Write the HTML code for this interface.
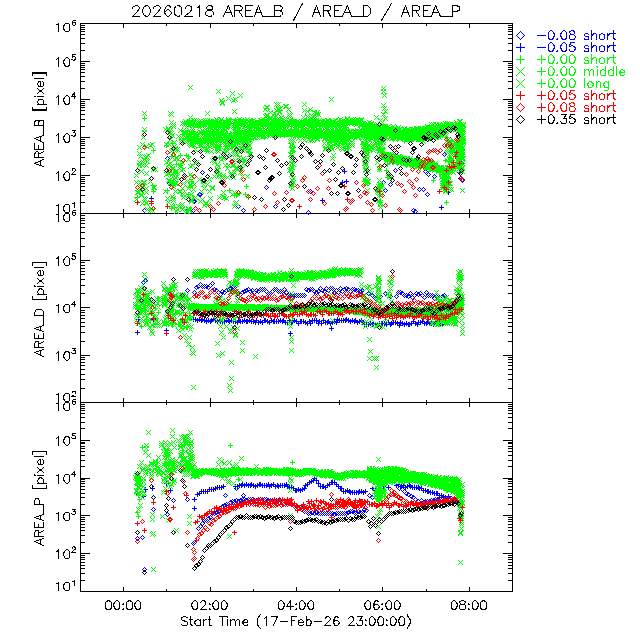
<!DOCTYPE html>
<html><head><meta charset="utf-8"><title>AREA plot</title>
<style>html,body{margin:0;padding:0;background:#fff;font-family:"Liberation Sans",sans-serif}svg{display:block}</style>
</head><body>
<svg width="640" height="640" viewBox="0 0 640 640" shape-rendering="crispEdges">
<rect width="640" height="640" fill="#fff"/>
<path d="M80.5 23.5L512.5 23.5M80.5 213.5L512.5 213.5M80.5 23.5L80.5 213.5M512.5 23.5L512.5 213.5M80.5 213.5L89.5 213.5M503.5 213.5L512.5 213.5M80.5 202.5L84.5 202.5M508.5 202.5L512.5 202.5M80.5 195.5L84.5 195.5M508.5 195.5L512.5 195.5M80.5 190.5L84.5 190.5M508.5 190.5L512.5 190.5M80.5 186.5L84.5 186.5M508.5 186.5L512.5 186.5M80.5 183.5L84.5 183.5M508.5 183.5L512.5 183.5M80.5 181.5L84.5 181.5M508.5 181.5L512.5 181.5M80.5 179.5L84.5 179.5M508.5 179.5L512.5 179.5M80.5 177.5L84.5 177.5M508.5 177.5L512.5 177.5M80.5 175.5L89.5 175.5M503.5 175.5L512.5 175.5M80.5 164.5L84.5 164.5M508.5 164.5L512.5 164.5M80.5 157.5L84.5 157.5M508.5 157.5L512.5 157.5M80.5 152.5L84.5 152.5M508.5 152.5L512.5 152.5M80.5 148.5L84.5 148.5M508.5 148.5L512.5 148.5M80.5 145.5L84.5 145.5M508.5 145.5L512.5 145.5M80.5 143.5L84.5 143.5M508.5 143.5L512.5 143.5M80.5 141.5L84.5 141.5M508.5 141.5L512.5 141.5M80.5 139.5L84.5 139.5M508.5 139.5L512.5 139.5M80.5 137.5L89.5 137.5M503.5 137.5L512.5 137.5M80.5 126.5L84.5 126.5M508.5 126.5L512.5 126.5M80.5 119.5L84.5 119.5M508.5 119.5L512.5 119.5M80.5 114.5L84.5 114.5M508.5 114.5L512.5 114.5M80.5 110.5L84.5 110.5M508.5 110.5L512.5 110.5M80.5 107.5L84.5 107.5M508.5 107.5L512.5 107.5M80.5 105.5L84.5 105.5M508.5 105.5L512.5 105.5M80.5 103.5L84.5 103.5M508.5 103.5L512.5 103.5M80.5 101.5L84.5 101.5M508.5 101.5L512.5 101.5M80.5 99.5L89.5 99.5M503.5 99.5L512.5 99.5M80.5 88.5L84.5 88.5M508.5 88.5L512.5 88.5M80.5 81.5L84.5 81.5M508.5 81.5L512.5 81.5M80.5 76.5L84.5 76.5M508.5 76.5L512.5 76.5M80.5 72.5L84.5 72.5M508.5 72.5L512.5 72.5M80.5 69.5L84.5 69.5M508.5 69.5L512.5 69.5M80.5 67.5L84.5 67.5M508.5 67.5L512.5 67.5M80.5 65.5L84.5 65.5M508.5 65.5L512.5 65.5M80.5 63.5L84.5 63.5M508.5 63.5L512.5 63.5M80.5 61.5L89.5 61.5M503.5 61.5L512.5 61.5M80.5 50.5L84.5 50.5M508.5 50.5L512.5 50.5M80.5 43.5L84.5 43.5M508.5 43.5L512.5 43.5M80.5 38.5L84.5 38.5M508.5 38.5L512.5 38.5M80.5 34.5L84.5 34.5M508.5 34.5L512.5 34.5M80.5 31.5L84.5 31.5M508.5 31.5L512.5 31.5M80.5 29.5L84.5 29.5M508.5 29.5L512.5 29.5M80.5 27.5L84.5 27.5M508.5 27.5L512.5 27.5M80.5 25.5L84.5 25.5M508.5 25.5L512.5 25.5M80.5 23.5L89.5 23.5M503.5 23.5L512.5 23.5M80.5 211.5L80.5 213.5M80.5 23.5L80.5 25.5M123.5 209.5L123.5 213.5M123.5 23.5L123.5 27.5M166.5 211.5L166.5 213.5M166.5 23.5L166.5 25.5M210.5 209.5L210.5 213.5M210.5 23.5L210.5 27.5M253.5 211.5L253.5 213.5M253.5 23.5L253.5 25.5M296.5 209.5L296.5 213.5M296.5 23.5L296.5 27.5M339.5 211.5L339.5 213.5M339.5 23.5L339.5 25.5M382.5 209.5L382.5 213.5M382.5 23.5L382.5 27.5M426.5 211.5L426.5 213.5M426.5 23.5L426.5 25.5M469.5 209.5L469.5 213.5M469.5 23.5L469.5 27.5M512.5 211.5L512.5 213.5M512.5 23.5L512.5 25.5M80.5 213.5L512.5 213.5M80.5 402.5L512.5 402.5M80.5 213.5L80.5 402.5M512.5 213.5L512.5 402.5M80.5 402.5L89.5 402.5M503.5 402.5L512.5 402.5M80.5 388.5L84.5 388.5M508.5 388.5L512.5 388.5M80.5 379.5L84.5 379.5M508.5 379.5L512.5 379.5M80.5 374.5L84.5 374.5M508.5 374.5L512.5 374.5M80.5 369.5L84.5 369.5M508.5 369.5L512.5 369.5M80.5 365.5L84.5 365.5M508.5 365.5L512.5 365.5M80.5 362.5L84.5 362.5M508.5 362.5L512.5 362.5M80.5 359.5L84.5 359.5M508.5 359.5L512.5 359.5M80.5 357.5L84.5 357.5M508.5 357.5L512.5 357.5M80.5 355.5L89.5 355.5M503.5 355.5L512.5 355.5M80.5 341.5L84.5 341.5M508.5 341.5L512.5 341.5M80.5 332.5L84.5 332.5M508.5 332.5L512.5 332.5M80.5 326.5L84.5 326.5M508.5 326.5L512.5 326.5M80.5 322.5L84.5 322.5M508.5 322.5L512.5 322.5M80.5 318.5L84.5 318.5M508.5 318.5L512.5 318.5M80.5 315.5L84.5 315.5M508.5 315.5L512.5 315.5M80.5 312.5L84.5 312.5M508.5 312.5L512.5 312.5M80.5 310.5L84.5 310.5M508.5 310.5L512.5 310.5M80.5 307.5L89.5 307.5M503.5 307.5L512.5 307.5M80.5 293.5L84.5 293.5M508.5 293.5L512.5 293.5M80.5 285.5L84.5 285.5M508.5 285.5L512.5 285.5M80.5 279.5L84.5 279.5M508.5 279.5L512.5 279.5M80.5 274.5L84.5 274.5M508.5 274.5L512.5 274.5M80.5 271.5L84.5 271.5M508.5 271.5L512.5 271.5M80.5 268.5L84.5 268.5M508.5 268.5L512.5 268.5M80.5 265.5L84.5 265.5M508.5 265.5L512.5 265.5M80.5 262.5L84.5 262.5M508.5 262.5L512.5 262.5M80.5 260.5L89.5 260.5M503.5 260.5L512.5 260.5M80.5 246.5L84.5 246.5M508.5 246.5L512.5 246.5M80.5 238.5L84.5 238.5M508.5 238.5L512.5 238.5M80.5 232.5L84.5 232.5M508.5 232.5L512.5 232.5M80.5 227.5L84.5 227.5M508.5 227.5L512.5 227.5M80.5 223.5L84.5 223.5M508.5 223.5L512.5 223.5M80.5 220.5L84.5 220.5M508.5 220.5L512.5 220.5M80.5 218.5L84.5 218.5M508.5 218.5L512.5 218.5M80.5 215.5L84.5 215.5M508.5 215.5L512.5 215.5M80.5 213.5L89.5 213.5M503.5 213.5L512.5 213.5M80.5 400.5L80.5 402.5M80.5 213.5L80.5 215.5M123.5 398.5L123.5 402.5M123.5 213.5L123.5 217.5M166.5 400.5L166.5 402.5M166.5 213.5L166.5 215.5M210.5 398.5L210.5 402.5M210.5 213.5L210.5 217.5M253.5 400.5L253.5 402.5M253.5 213.5L253.5 215.5M296.5 398.5L296.5 402.5M296.5 213.5L296.5 217.5M339.5 400.5L339.5 402.5M339.5 213.5L339.5 215.5M382.5 398.5L382.5 402.5M382.5 213.5L382.5 217.5M426.5 400.5L426.5 402.5M426.5 213.5L426.5 215.5M469.5 398.5L469.5 402.5M469.5 213.5L469.5 217.5M512.5 400.5L512.5 402.5M512.5 213.5L512.5 215.5M80.5 402.5L512.5 402.5M80.5 591.5L512.5 591.5M80.5 402.5L80.5 591.5M512.5 402.5L512.5 591.5M80.5 591.5L89.5 591.5M503.5 591.5L512.5 591.5M80.5 580.5L84.5 580.5M508.5 580.5L512.5 580.5M80.5 573.5L84.5 573.5M508.5 573.5L512.5 573.5M80.5 568.5L84.5 568.5M508.5 568.5L512.5 568.5M80.5 565.5L84.5 565.5M508.5 565.5L512.5 565.5M80.5 562.5L84.5 562.5M508.5 562.5L512.5 562.5M80.5 559.5L84.5 559.5M508.5 559.5L512.5 559.5M80.5 557.5L84.5 557.5M508.5 557.5L512.5 557.5M80.5 555.5L84.5 555.5M508.5 555.5L512.5 555.5M80.5 553.5L89.5 553.5M503.5 553.5L512.5 553.5M80.5 542.5L84.5 542.5M508.5 542.5L512.5 542.5M80.5 535.5L84.5 535.5M508.5 535.5L512.5 535.5M80.5 530.5L84.5 530.5M508.5 530.5L512.5 530.5M80.5 527.5L84.5 527.5M508.5 527.5L512.5 527.5M80.5 524.5L84.5 524.5M508.5 524.5L512.5 524.5M80.5 521.5L84.5 521.5M508.5 521.5L512.5 521.5M80.5 519.5L84.5 519.5M508.5 519.5L512.5 519.5M80.5 517.5L84.5 517.5M508.5 517.5L512.5 517.5M80.5 515.5L89.5 515.5M503.5 515.5L512.5 515.5M80.5 504.5L84.5 504.5M508.5 504.5L512.5 504.5M80.5 497.5L84.5 497.5M508.5 497.5L512.5 497.5M80.5 493.5L84.5 493.5M508.5 493.5L512.5 493.5M80.5 489.5L84.5 489.5M508.5 489.5L512.5 489.5M80.5 486.5L84.5 486.5M508.5 486.5L512.5 486.5M80.5 483.5L84.5 483.5M508.5 483.5L512.5 483.5M80.5 481.5L84.5 481.5M508.5 481.5L512.5 481.5M80.5 479.5L84.5 479.5M508.5 479.5L512.5 479.5M80.5 478.5L89.5 478.5M503.5 478.5L512.5 478.5M80.5 466.5L84.5 466.5M508.5 466.5L512.5 466.5M80.5 460.5L84.5 460.5M508.5 460.5L512.5 460.5M80.5 455.5L84.5 455.5M508.5 455.5L512.5 455.5M80.5 451.5L84.5 451.5M508.5 451.5L512.5 451.5M80.5 448.5L84.5 448.5M508.5 448.5L512.5 448.5M80.5 446.5L84.5 446.5M508.5 446.5L512.5 446.5M80.5 443.5L84.5 443.5M508.5 443.5L512.5 443.5M80.5 442.5L84.5 442.5M508.5 442.5L512.5 442.5M80.5 440.5L89.5 440.5M503.5 440.5L512.5 440.5M80.5 428.5L84.5 428.5M508.5 428.5L512.5 428.5M80.5 422.5L84.5 422.5M508.5 422.5L512.5 422.5M80.5 417.5L84.5 417.5M508.5 417.5L512.5 417.5M80.5 413.5L84.5 413.5M508.5 413.5L512.5 413.5M80.5 410.5L84.5 410.5M508.5 410.5L512.5 410.5M80.5 408.5L84.5 408.5M508.5 408.5L512.5 408.5M80.5 406.5L84.5 406.5M508.5 406.5L512.5 406.5M80.5 404.5L84.5 404.5M508.5 404.5L512.5 404.5M80.5 402.5L89.5 402.5M503.5 402.5L512.5 402.5M80.5 589.5L80.5 591.5M80.5 402.5L80.5 404.5M123.5 587.5L123.5 591.5M123.5 402.5L123.5 406.5M166.5 589.5L166.5 591.5M166.5 402.5L166.5 404.5M210.5 587.5L210.5 591.5M210.5 402.5L210.5 406.5M253.5 589.5L253.5 591.5M253.5 402.5L253.5 404.5M296.5 587.5L296.5 591.5M296.5 402.5L296.5 406.5M339.5 589.5L339.5 591.5M339.5 402.5L339.5 404.5M382.5 587.5L382.5 591.5M382.5 402.5L382.5 406.5M426.5 589.5L426.5 591.5M426.5 402.5L426.5 404.5M469.5 587.5L469.5 591.5M469.5 402.5L469.5 406.5M512.5 589.5L512.5 591.5M512.5 402.5L512.5 404.5" stroke="#000" fill="none" stroke-width="1" stroke-linecap="square"/>
<path d="M132.5 8.5 132.5 7.5 133.5 6.5 134.5 6.5 135.5 5.5 137.5 5.5 138.5 6.5 139.5 7.5 139.5 8.5 138.5 9.5 137.5 11.5 132.5 16.5 139.5 16.5M146.5 5.5 144.5 6.5 143.5 7.5 142.5 10.5 142.5 11.5 143.5 14.5 144.5 15.5 146.5 16.5 147.5 16.5 148.5 15.5 149.5 14.5 150.5 11.5 150.5 10.5 149.5 7.5 148.5 6.5 147.5 5.5 146.5 5.5M153.5 8.5 153.5 7.5 154.5 6.5 155.5 6.5 156.5 5.5 158.5 5.5 159.5 6.5 160.5 7.5 160.5 8.5 159.5 9.5 158.5 11.5 153.5 16.5 160.5 16.5M170.5 7.5 170.5 6.5 168.5 5.5 167.5 5.5 166.5 6.5 165.5 7.5 164.5 10.5 164.5 12.5 165.5 14.5 166.5 15.5 167.5 16.5 168.5 16.5 169.5 15.5 170.5 14.5 171.5 13.5 171.5 12.5 170.5 11.5 169.5 10.5 168.5 9.5 167.5 9.5 166.5 10.5 165.5 11.5 164.5 12.5M177.5 5.5 176.5 6.5 174.5 7.5 174.5 10.5 174.5 11.5 174.5 14.5 176.5 15.5 177.5 16.5 178.5 16.5 180.5 15.5 181.5 14.5 181.5 11.5 181.5 10.5 181.5 7.5 180.5 6.5 178.5 5.5 177.5 5.5M185.5 8.5 185.5 7.5 186.5 6.5 187.5 5.5 189.5 5.5 190.5 6.5 191.5 6.5 191.5 7.5 191.5 8.5 191.5 9.5 190.5 11.5 184.5 16.5 192.5 16.5M197.5 7.5 198.5 7.5 199.5 5.5 199.5 16.5M208.5 5.5 207.5 6.5 206.5 7.5 206.5 8.5 207.5 9.5 208.5 9.5 210.5 10.5 211.5 10.5 212.5 11.5 213.5 12.5 213.5 14.5 212.5 15.5 210.5 16.5 208.5 16.5 207.5 15.5 206.5 15.5 205.5 14.5 205.5 12.5 206.5 11.5 207.5 10.5 209.5 10.5 211.5 9.5 212.5 9.5 212.5 8.5 212.5 7.5 212.5 6.5 210.5 5.5 208.5 5.5M228.5 5.5 223.5 16.5M228.5 5.5 232.5 16.5M225.5 12.5 230.5 12.5M234.5 5.5 234.5 16.5M234.5 5.5 239.5 5.5 241.5 6.5 242.5 7.5 242.5 8.5 241.5 9.5 241.5 10.5 239.5 10.5 234.5 10.5M238.5 10.5 242.5 16.5M245.5 5.5 245.5 16.5M245.5 5.5 252.5 5.5M245.5 10.5 250.5 10.5M245.5 16.5 252.5 16.5M258.5 5.5 254.5 16.5M258.5 5.5 262.5 16.5M255.5 12.5 261.5 12.5M262.5 16.5 274.5 16.5M274.5 5.5 274.5 16.5M274.5 5.5 279.5 5.5 281.5 6.5 282.5 7.5 282.5 8.5 281.5 9.5 281.5 10.5 279.5 10.5M274.5 10.5 279.5 10.5 281.5 11.5 282.5 12.5 282.5 14.5 281.5 15.5 279.5 16.5 274.5 16.5M302.5 3.5 293.5 20.5M316.5 5.5 312.5 16.5M316.5 5.5 320.5 16.5M314.5 12.5 319.5 12.5M323.5 5.5 323.5 16.5M323.5 5.5 328.5 5.5 329.5 6.5 330.5 6.5 330.5 7.5 330.5 8.5 330.5 9.5 329.5 10.5 328.5 10.5 323.5 10.5M327.5 10.5 330.5 16.5M334.5 5.5 334.5 16.5M334.5 5.5 341.5 5.5M334.5 10.5 338.5 10.5M334.5 16.5 341.5 16.5M347.5 5.5 342.5 16.5M347.5 5.5 351.5 16.5M344.5 12.5 349.5 12.5M351.5 16.5 362.5 16.5M363.5 5.5 363.5 16.5M363.5 5.5 367.5 5.5 368.5 6.5 369.5 7.5 370.5 8.5 370.5 9.5 370.5 12.5 370.5 13.5 369.5 14.5 368.5 15.5 367.5 16.5 363.5 16.5M391.5 3.5 381.5 20.5M405.5 5.5 401.5 16.5M405.5 5.5 409.5 16.5M402.5 12.5 408.5 12.5M412.5 5.5 412.5 16.5M412.5 5.5 417.5 5.5 418.5 6.5 419.5 6.5 419.5 7.5 419.5 8.5 419.5 9.5 418.5 10.5 417.5 10.5 412.5 10.5M415.5 10.5 419.5 16.5M423.5 5.5 423.5 16.5M423.5 5.5 430.5 5.5M423.5 10.5 427.5 10.5M423.5 16.5 430.5 16.5M435.5 5.5 431.5 16.5M435.5 5.5 440.5 16.5M433.5 12.5 438.5 12.5M440.5 16.5 451.5 16.5M452.5 5.5 452.5 16.5M452.5 5.5 456.5 5.5 458.5 6.5 459.5 6.5 459.5 7.5 459.5 9.5 459.5 10.5 458.5 10.5 456.5 11.5 452.5 11.5M187.5 617.5 186.5 617.5 185.5 616.5 183.5 616.5 182.5 617.5 181.5 617.5 181.5 618.5 181.5 619.5 182.5 620.5 183.5 620.5 185.5 621.5 186.5 621.5 187.5 622.5 187.5 624.5 186.5 625.5 185.5 625.5 183.5 625.5 182.5 625.5 181.5 624.5M190.5 616.5 190.5 623.5 191.5 625.5 192.5 625.5M189.5 619.5 192.5 619.5M200.5 619.5 200.5 625.5M200.5 620.5 199.5 620.5 198.5 619.5 197.5 619.5 196.5 620.5 195.5 620.5 194.5 622.5 195.5 624.5 196.5 625.5 197.5 625.5 198.5 625.5 199.5 625.5 200.5 624.5M203.5 619.5 203.5 625.5M203.5 622.5 203.5 620.5 204.5 620.5 205.5 619.5 206.5 619.5M209.5 616.5 209.5 623.5 209.5 625.5 210.5 625.5 211.5 625.5M208.5 619.5 210.5 619.5M222.5 616.5 222.5 625.5M219.5 616.5 225.5 616.5M226.5 616.5 227.5 617.5 227.5 616.5 226.5 616.5M227.5 619.5 227.5 625.5M230.5 619.5 230.5 625.5M230.5 621.5 231.5 620.5 232.5 619.5 234.5 619.5 234.5 620.5 235.5 621.5 235.5 625.5M235.5 621.5 236.5 620.5 237.5 619.5 238.5 619.5 239.5 620.5 239.5 621.5 239.5 625.5M242.5 622.5 247.5 622.5 247.5 621.5 247.5 620.5 246.5 619.5 244.5 619.5 244.5 620.5 243.5 620.5 242.5 622.5 243.5 624.5 244.5 625.5 246.5 625.5 247.5 625.5 247.5 624.5M260.5 614.5 259.5 615.5 258.5 617.5 257.5 618.5 257.5 620.5 257.5 622.5 257.5 624.5 258.5 626.5 259.5 627.5 260.5 628.5M264.5 618.5 265.5 617.5 266.5 616.5 266.5 625.5M277.5 616.5 273.5 625.5M271.5 616.5 277.5 616.5M280.5 621.5 287.5 621.5M291.5 616.5 291.5 625.5M291.5 616.5 296.5 616.5M291.5 620.5 294.5 620.5M298.5 622.5 303.5 622.5 303.5 621.5 302.5 620.5 301.5 619.5 300.5 619.5 299.5 620.5 298.5 620.5 298.5 622.5 298.5 624.5 299.5 625.5 300.5 625.5 301.5 625.5 302.5 625.5 303.5 624.5M306.5 616.5 306.5 625.5M306.5 620.5 307.5 620.5 307.5 619.5 309.5 619.5 310.5 620.5 311.5 622.5 310.5 624.5 310.5 625.5 309.5 625.5 307.5 625.5 306.5 624.5M314.5 621.5 321.5 621.5M325.5 618.5 325.5 617.5 326.5 617.5 326.5 616.5 328.5 616.5 329.5 617.5 330.5 618.5 330.5 619.5 329.5 620.5 328.5 621.5 324.5 625.5 330.5 625.5M338.5 617.5 336.5 616.5 334.5 617.5 334.5 618.5 333.5 620.5 333.5 622.5 334.5 624.5 334.5 625.5 336.5 625.5 337.5 625.5 338.5 624.5 339.5 622.5 338.5 621.5 337.5 620.5 336.5 620.5 334.5 620.5 334.5 621.5 333.5 622.5M348.5 618.5 349.5 617.5 350.5 616.5 352.5 616.5 352.5 617.5 353.5 617.5 353.5 618.5 353.5 619.5 353.5 620.5 352.5 621.5 348.5 625.5 354.5 625.5M357.5 616.5 362.5 616.5 359.5 620.5 360.5 620.5 361.5 620.5 362.5 620.5 362.5 622.5 362.5 624.5 361.5 625.5 360.5 625.5 358.5 625.5 357.5 625.5 357.5 624.5 356.5 623.5M365.5 619.5 365.5 620.5 366.5 620.5 365.5 619.5M365.5 624.5 365.5 625.5 366.5 625.5 365.5 624.5M371.5 616.5 370.5 617.5 369.5 618.5 369.5 620.5 369.5 621.5 369.5 623.5 370.5 625.5 371.5 625.5 372.5 625.5 373.5 625.5 374.5 623.5 375.5 621.5 375.5 620.5 374.5 618.5 373.5 617.5 372.5 616.5 371.5 616.5M380.5 616.5 378.5 617.5 378.5 618.5 377.5 620.5 377.5 621.5 378.5 623.5 378.5 625.5 380.5 625.5 381.5 625.5 382.5 625.5 383.5 623.5 383.5 621.5 383.5 620.5 383.5 618.5 382.5 617.5 381.5 616.5 380.5 616.5M386.5 619.5 386.5 620.5 387.5 620.5 386.5 619.5M386.5 624.5 386.5 625.5 387.5 625.5 386.5 624.5M392.5 616.5 391.5 617.5 390.5 618.5 390.5 620.5 390.5 621.5 390.5 623.5 391.5 625.5 392.5 625.5 393.5 625.5 394.5 625.5 395.5 623.5 396.5 621.5 396.5 620.5 395.5 618.5 394.5 617.5 393.5 616.5 392.5 616.5M401.5 616.5 399.5 617.5 399.5 618.5 398.5 620.5 398.5 621.5 399.5 623.5 399.5 625.5 401.5 625.5 402.5 625.5 403.5 625.5 404.5 623.5 404.5 621.5 404.5 620.5 404.5 618.5 403.5 617.5 402.5 616.5 401.5 616.5M407.5 614.5 407.5 615.5 408.5 617.5 409.5 618.5 410.5 620.5 410.5 622.5 409.5 624.5 408.5 626.5 407.5 627.5 407.5 628.5M108.5 600.5 106.5 601.5 105.5 602.5 105.5 604.5 105.5 605.5 105.5 607.5 106.5 609.5 108.5 609.5 110.5 609.5 111.5 607.5 111.5 605.5 111.5 604.5 111.5 602.5 110.5 601.5 108.5 600.5M116.5 600.5 115.5 601.5 114.5 602.5 113.5 604.5 113.5 605.5 114.5 607.5 115.5 609.5 116.5 609.5 117.5 609.5 118.5 609.5 119.5 607.5 119.5 605.5 119.5 604.5 119.5 602.5 118.5 601.5 117.5 600.5 116.5 600.5M123.5 603.5 122.5 604.5 123.5 604.5 123.5 603.5M123.5 608.5 122.5 609.5 123.5 609.5 123.5 608.5M129.5 600.5 127.5 601.5 126.5 602.5 126.5 604.5 126.5 605.5 126.5 607.5 127.5 609.5 129.5 609.5 131.5 609.5 132.5 607.5 132.5 605.5 132.5 604.5 132.5 602.5 131.5 601.5 129.5 600.5M137.5 600.5 136.5 601.5 135.5 602.5 134.5 604.5 134.5 605.5 135.5 607.5 136.5 609.5 137.5 609.5 138.5 609.5 139.5 609.5 140.5 607.5 140.5 605.5 140.5 604.5 140.5 602.5 139.5 601.5 138.5 600.5 137.5 600.5M194.5 600.5 193.5 601.5 192.5 602.5 191.5 604.5 191.5 605.5 192.5 607.5 193.5 609.5 194.5 609.5 195.5 609.5 196.5 609.5 197.5 607.5 197.5 605.5 197.5 604.5 197.5 602.5 196.5 601.5 195.5 600.5 194.5 600.5M200.5 602.5 201.5 601.5 202.5 600.5 204.5 600.5 204.5 601.5 205.5 601.5 205.5 602.5 205.5 603.5 205.5 604.5 204.5 605.5 200.5 609.5 206.5 609.5M209.5 603.5 209.5 604.5 210.5 604.5 209.5 603.5M209.5 608.5 209.5 609.5 210.5 609.5 209.5 608.5M215.5 600.5 214.5 601.5 213.5 602.5 212.5 604.5 212.5 605.5 213.5 607.5 214.5 609.5 215.5 609.5 216.5 609.5 217.5 609.5 218.5 607.5 218.5 605.5 218.5 604.5 218.5 602.5 217.5 601.5 216.5 600.5 215.5 600.5M223.5 600.5 222.5 601.5 221.5 602.5 221.5 604.5 221.5 605.5 221.5 607.5 222.5 609.5 223.5 609.5 224.5 609.5 225.5 609.5 226.5 607.5 227.5 605.5 227.5 604.5 226.5 602.5 225.5 601.5 224.5 600.5 223.5 600.5M280.5 600.5 279.5 601.5 278.5 602.5 278.5 604.5 278.5 605.5 278.5 607.5 279.5 609.5 280.5 609.5 281.5 609.5 282.5 609.5 283.5 607.5 284.5 605.5 284.5 604.5 283.5 602.5 282.5 601.5 281.5 600.5 280.5 600.5M290.5 600.5 286.5 606.5 293.5 606.5M290.5 600.5 290.5 609.5M296.5 603.5 295.5 604.5 296.5 604.5 296.5 603.5M296.5 608.5 295.5 609.5 296.5 609.5 296.5 608.5M301.5 600.5 300.5 601.5 299.5 602.5 299.5 604.5 299.5 605.5 299.5 607.5 300.5 609.5 301.5 609.5 302.5 609.5 303.5 609.5 304.5 607.5 305.5 605.5 305.5 604.5 304.5 602.5 303.5 601.5 302.5 600.5 301.5 600.5M310.5 600.5 309.5 601.5 308.5 602.5 307.5 604.5 307.5 605.5 308.5 607.5 309.5 609.5 310.5 609.5 311.5 609.5 312.5 609.5 313.5 607.5 313.5 605.5 313.5 604.5 313.5 602.5 312.5 601.5 311.5 600.5 310.5 600.5M367.5 600.5 366.5 601.5 365.5 602.5 364.5 604.5 364.5 605.5 365.5 607.5 366.5 609.5 367.5 609.5 368.5 609.5 369.5 609.5 370.5 607.5 370.5 605.5 370.5 604.5 370.5 602.5 369.5 601.5 368.5 600.5 367.5 600.5M378.5 601.5 376.5 600.5 374.5 601.5 374.5 602.5 373.5 604.5 373.5 606.5 374.5 608.5 374.5 609.5 376.5 609.5 377.5 609.5 378.5 608.5 379.5 606.5 378.5 605.5 377.5 604.5 376.5 604.5 374.5 604.5 374.5 605.5 373.5 606.5M382.5 603.5 381.5 604.5 382.5 604.5 382.5 603.5M382.5 608.5 381.5 609.5 382.5 609.5 382.5 608.5M388.5 600.5 387.5 601.5 386.5 602.5 385.5 604.5 385.5 605.5 386.5 607.5 387.5 609.5 388.5 609.5 389.5 609.5 390.5 609.5 391.5 607.5 391.5 605.5 391.5 604.5 391.5 602.5 390.5 601.5 389.5 600.5 388.5 600.5M396.5 600.5 395.5 601.5 394.5 602.5 394.5 604.5 394.5 605.5 394.5 607.5 395.5 609.5 396.5 609.5 397.5 609.5 398.5 609.5 399.5 607.5 400.5 605.5 400.5 604.5 399.5 602.5 398.5 601.5 397.5 600.5 396.5 600.5M453.5 600.5 452.5 601.5 451.5 602.5 451.5 604.5 451.5 605.5 451.5 607.5 452.5 609.5 453.5 609.5 454.5 609.5 455.5 609.5 456.5 607.5 457.5 605.5 457.5 604.5 456.5 602.5 455.5 601.5 454.5 600.5 453.5 600.5M461.5 600.5 460.5 601.5 459.5 601.5 459.5 602.5 460.5 603.5 461.5 604.5 462.5 604.5 464.5 604.5 465.5 605.5 465.5 606.5 465.5 607.5 465.5 608.5 464.5 609.5 463.5 609.5 461.5 609.5 460.5 609.5 459.5 608.5 459.5 607.5 459.5 606.5 459.5 605.5 460.5 604.5 462.5 604.5 463.5 604.5 464.5 603.5 465.5 602.5 465.5 601.5 464.5 601.5 463.5 600.5 461.5 600.5M468.5 603.5 468.5 604.5 469.5 604.5 468.5 603.5M468.5 608.5 468.5 609.5 469.5 609.5 468.5 608.5M474.5 600.5 473.5 601.5 472.5 602.5 472.5 604.5 472.5 605.5 472.5 607.5 473.5 609.5 474.5 609.5 475.5 609.5 476.5 609.5 477.5 607.5 478.5 605.5 478.5 604.5 477.5 602.5 476.5 601.5 475.5 600.5 474.5 600.5M483.5 600.5 481.5 601.5 480.5 602.5 480.5 604.5 480.5 605.5 480.5 607.5 481.5 609.5 483.5 609.5 485.5 609.5 486.5 607.5 486.5 605.5 486.5 604.5 486.5 602.5 485.5 601.5 483.5 600.5M56.5 205.5 57.5 205.5 58.5 204.5 58.5 212.5M66.5 204.5 65.5 204.5 64.5 205.5 63.5 207.5 63.5 209.5 64.5 211.5 65.5 212.5 66.5 212.5 67.5 212.5 68.5 212.5 69.5 211.5 69.5 209.5 69.5 207.5 69.5 205.5 68.5 204.5 67.5 204.5 66.5 204.5M72.5 203.5 73.5 203.5 74.5 202.5 74.5 207.5M56.5 173.5 57.5 172.5 58.5 171.5 58.5 180.5M66.5 171.5 65.5 172.5 64.5 173.5 63.5 175.5 63.5 176.5 64.5 178.5 65.5 180.5 66.5 180.5 67.5 180.5 68.5 180.5 69.5 178.5 69.5 176.5 69.5 175.5 69.5 173.5 68.5 172.5 67.5 171.5 66.5 171.5M72.5 170.5 72.5 169.5 72.5 168.5 73.5 168.5 74.5 168.5 75.5 169.5 75.5 170.5 74.5 171.5 71.5 174.5 75.5 174.5M56.5 135.5 57.5 134.5 58.5 133.5 58.5 142.5M66.5 133.5 65.5 134.5 64.5 135.5 63.5 137.5 63.5 138.5 64.5 140.5 65.5 142.5 66.5 142.5 67.5 142.5 68.5 142.5 69.5 140.5 69.5 138.5 69.5 137.5 69.5 135.5 68.5 134.5 67.5 133.5 66.5 133.5M72.5 130.5 75.5 130.5 73.5 132.5 74.5 132.5 75.5 133.5 75.5 134.5 75.5 135.5 74.5 135.5 74.5 136.5 73.5 136.5 72.5 135.5 71.5 135.5M56.5 97.5 57.5 96.5 58.5 95.5 58.5 104.5M66.5 95.5 65.5 96.5 64.5 97.5 63.5 99.5 63.5 100.5 64.5 102.5 65.5 104.5 66.5 104.5 67.5 104.5 68.5 104.5 69.5 102.5 69.5 100.5 69.5 99.5 69.5 97.5 68.5 96.5 67.5 95.5 66.5 95.5M74.5 92.5 71.5 96.5 75.5 96.5M74.5 92.5 74.5 98.5M56.5 59.5 57.5 58.5 58.5 57.5 58.5 66.5M66.5 57.5 65.5 58.5 64.5 59.5 63.5 61.5 63.5 62.5 64.5 64.5 65.5 66.5 66.5 66.5 67.5 66.5 68.5 66.5 69.5 64.5 69.5 62.5 69.5 61.5 69.5 59.5 68.5 58.5 67.5 57.5 66.5 57.5M75.5 54.5 72.5 54.5 72.5 57.5 72.5 56.5 73.5 56.5 74.5 56.5 75.5 57.5 75.5 58.5 75.5 59.5 74.5 59.5 74.5 60.5 73.5 60.5 72.5 59.5 71.5 59.5M56.5 24.5 57.5 24.5 58.5 23.5 58.5 31.5M66.5 23.5 65.5 23.5 64.5 24.5 63.5 26.5 63.5 28.5 64.5 30.5 65.5 31.5 66.5 31.5 67.5 31.5 68.5 31.5 69.5 30.5 69.5 28.5 69.5 26.5 69.5 24.5 68.5 23.5 67.5 23.5 66.5 23.5M75.5 20.5 74.5 20.5 73.5 20.5 72.5 21.5 72.5 22.5 72.5 23.5 72.5 24.5 73.5 25.5 74.5 25.5 75.5 24.5 75.5 23.5 75.5 22.5 74.5 22.5 73.5 22.5 72.5 22.5 72.5 23.5M34.5 163.5 43.5 166.5M34.5 163.5 43.5 159.5M40.5 165.5 40.5 161.5M34.5 157.5 43.5 157.5M34.5 157.5 34.5 154.5 35.5 152.5 36.5 151.5 37.5 151.5 38.5 152.5 38.5 154.5 38.5 157.5M38.5 154.5 43.5 151.5M34.5 149.5 43.5 149.5M34.5 149.5 34.5 143.5M38.5 149.5 38.5 145.5M43.5 149.5 43.5 143.5M34.5 138.5 43.5 142.5M34.5 138.5 43.5 135.5M40.5 141.5 40.5 136.5M43.5 135.5 43.5 126.5M34.5 125.5 43.5 125.5M34.5 125.5 34.5 122.5 35.5 120.5 36.5 120.5 37.5 120.5 38.5 120.5 38.5 122.5M38.5 125.5 38.5 122.5 39.5 120.5 40.5 120.5 41.5 120.5 42.5 120.5 43.5 120.5 43.5 122.5 43.5 125.5M32.5 110.5 46.5 110.5M32.5 109.5 46.5 109.5M32.5 110.5 32.5 107.5M46.5 110.5 46.5 107.5M37.5 104.5 46.5 104.5M38.5 104.5 38.5 103.5 37.5 102.5 37.5 101.5 38.5 100.5 38.5 99.5 40.5 99.5 42.5 99.5 43.5 100.5 43.5 101.5 43.5 102.5 43.5 103.5 42.5 104.5M34.5 96.5 35.5 96.5 34.5 96.5M37.5 96.5 43.5 96.5M37.5 93.5 43.5 88.5M37.5 88.5 43.5 93.5M40.5 86.5 40.5 81.5 39.5 81.5 38.5 81.5 38.5 82.5 37.5 83.5 37.5 84.5 38.5 85.5 38.5 86.5 40.5 86.5 42.5 86.5 43.5 85.5 43.5 84.5 43.5 83.5 43.5 82.5 42.5 81.5M34.5 78.5 43.5 78.5M32.5 73.5 46.5 73.5M32.5 72.5 46.5 72.5M32.5 75.5 32.5 72.5M46.5 75.5 46.5 72.5M56.5 394.5 57.5 394.5 58.5 393.5 58.5 401.5M66.5 393.5 65.5 393.5 64.5 394.5 63.5 396.5 63.5 398.5 64.5 400.5 65.5 401.5 66.5 401.5 67.5 401.5 68.5 401.5 69.5 400.5 69.5 398.5 69.5 396.5 69.5 394.5 68.5 393.5 67.5 393.5 66.5 393.5M72.5 392.5 72.5 391.5 73.5 391.5 74.5 391.5 75.5 391.5 75.5 392.5 75.5 393.5 74.5 394.5 71.5 396.5 75.5 396.5M56.5 353.5 57.5 352.5 58.5 351.5 58.5 360.5M66.5 351.5 65.5 351.5 64.5 353.5 63.5 355.5 63.5 356.5 64.5 358.5 65.5 359.5 66.5 360.5 67.5 360.5 68.5 359.5 69.5 358.5 69.5 356.5 69.5 355.5 69.5 353.5 68.5 351.5 67.5 351.5 66.5 351.5M72.5 348.5 75.5 348.5 73.5 350.5 74.5 350.5 75.5 350.5 75.5 351.5 75.5 352.5 75.5 353.5 74.5 353.5 73.5 353.5 72.5 353.5 71.5 352.5M56.5 305.5 57.5 305.5 58.5 304.5 58.5 312.5M66.5 304.5 65.5 304.5 64.5 305.5 63.5 307.5 63.5 309.5 64.5 311.5 65.5 312.5 66.5 312.5 67.5 312.5 68.5 312.5 69.5 311.5 69.5 309.5 69.5 307.5 69.5 305.5 68.5 304.5 67.5 304.5 66.5 304.5M74.5 301.5 71.5 304.5 75.5 304.5M74.5 301.5 74.5 306.5M56.5 258.5 57.5 258.5 58.5 256.5 58.5 265.5M66.5 256.5 65.5 257.5 64.5 258.5 63.5 260.5 63.5 261.5 64.5 264.5 65.5 265.5 66.5 265.5 67.5 265.5 68.5 265.5 69.5 264.5 69.5 261.5 69.5 260.5 69.5 258.5 68.5 257.5 67.5 256.5 66.5 256.5M75.5 253.5 72.5 253.5 72.5 256.5 73.5 255.5 74.5 255.5 74.5 256.5 75.5 256.5 75.5 257.5 75.5 258.5 74.5 259.5 73.5 259.5 72.5 259.5 72.5 258.5 71.5 258.5M56.5 214.5 57.5 214.5 58.5 213.5 58.5 221.5M66.5 213.5 65.5 213.5 64.5 214.5 63.5 216.5 63.5 218.5 64.5 220.5 65.5 221.5 66.5 221.5 67.5 221.5 68.5 221.5 69.5 220.5 69.5 218.5 69.5 216.5 69.5 214.5 68.5 213.5 67.5 213.5 66.5 213.5M75.5 210.5 74.5 210.5 73.5 210.5 72.5 211.5 72.5 212.5 72.5 213.5 72.5 214.5 73.5 215.5 74.5 215.5 75.5 214.5 75.5 213.5 75.5 212.5 74.5 212.5 73.5 212.5 72.5 212.5 72.5 213.5M34.5 352.5 43.5 356.5M34.5 352.5 43.5 349.5M40.5 354.5 40.5 350.5M34.5 347.5 43.5 347.5M34.5 347.5 34.5 343.5 35.5 342.5 35.5 341.5 36.5 341.5 37.5 341.5 38.5 341.5 38.5 342.5 38.5 343.5 38.5 347.5M38.5 344.5 43.5 341.5M34.5 338.5 43.5 338.5M34.5 338.5 34.5 333.5M38.5 338.5 38.5 335.5M43.5 338.5 43.5 333.5M34.5 328.5 43.5 331.5M34.5 328.5 43.5 325.5M40.5 330.5 40.5 326.5M43.5 325.5 43.5 315.5M34.5 315.5 43.5 315.5M34.5 315.5 34.5 312.5 35.5 311.5 35.5 310.5 36.5 309.5 38.5 309.5 40.5 309.5 41.5 309.5 42.5 310.5 43.5 311.5 43.5 312.5 43.5 315.5M32.5 299.5 46.5 299.5M32.5 299.5 46.5 299.5M32.5 299.5 32.5 296.5M46.5 299.5 46.5 296.5M37.5 294.5 46.5 294.5M38.5 294.5 38.5 293.5 37.5 292.5 37.5 291.5 38.5 290.5 38.5 289.5 40.5 288.5 42.5 289.5 43.5 290.5 43.5 291.5 43.5 292.5 43.5 293.5 42.5 294.5M34.5 286.5 35.5 286.5 34.5 285.5 34.5 286.5M37.5 286.5 43.5 286.5M37.5 283.5 43.5 278.5M37.5 278.5 43.5 283.5M40.5 275.5 40.5 270.5 39.5 270.5 38.5 271.5 37.5 272.5 37.5 273.5 38.5 274.5 38.5 275.5 40.5 275.5 42.5 275.5 43.5 274.5 43.5 273.5 43.5 272.5 43.5 271.5 42.5 270.5M34.5 267.5 43.5 267.5M32.5 262.5 46.5 262.5M32.5 262.5 46.5 262.5M32.5 265.5 32.5 262.5M46.5 265.5 46.5 262.5M56.5 583.5 57.5 583.5 58.5 582.5 58.5 590.5M66.5 582.5 65.5 582.5 64.5 583.5 63.5 585.5 63.5 587.5 64.5 589.5 65.5 590.5 66.5 590.5 67.5 590.5 68.5 590.5 69.5 589.5 69.5 587.5 69.5 585.5 69.5 583.5 68.5 582.5 67.5 582.5 66.5 582.5M72.5 581.5 73.5 581.5 74.5 580.5 74.5 585.5M56.5 551.5 57.5 551.5 58.5 549.5 58.5 558.5M66.5 549.5 65.5 550.5 64.5 551.5 63.5 553.5 63.5 554.5 64.5 557.5 65.5 558.5 66.5 558.5 67.5 558.5 68.5 558.5 69.5 557.5 69.5 554.5 69.5 553.5 69.5 551.5 68.5 550.5 67.5 549.5 66.5 549.5M72.5 548.5 72.5 547.5 73.5 546.5 74.5 546.5 74.5 547.5 75.5 547.5 75.5 548.5 75.5 549.5 74.5 549.5 71.5 552.5 75.5 552.5M56.5 513.5 57.5 513.5 58.5 512.5 58.5 520.5M66.5 512.5 65.5 512.5 64.5 513.5 63.5 515.5 63.5 517.5 64.5 519.5 65.5 520.5 66.5 520.5 67.5 520.5 68.5 520.5 69.5 519.5 69.5 517.5 69.5 515.5 69.5 513.5 68.5 512.5 67.5 512.5 66.5 512.5M72.5 509.5 75.5 509.5 73.5 511.5 74.5 511.5 75.5 511.5 75.5 512.5 75.5 513.5 74.5 514.5 73.5 514.5 72.5 514.5 71.5 513.5M56.5 475.5 57.5 475.5 58.5 474.5 58.5 483.5M66.5 474.5 65.5 474.5 64.5 475.5 63.5 478.5 63.5 479.5 64.5 481.5 65.5 482.5 66.5 483.5 67.5 483.5 68.5 482.5 69.5 481.5 69.5 479.5 69.5 478.5 69.5 475.5 68.5 474.5 67.5 474.5 66.5 474.5M74.5 471.5 71.5 474.5 75.5 474.5M74.5 471.5 74.5 476.5M56.5 438.5 57.5 437.5 58.5 436.5 58.5 445.5M66.5 436.5 65.5 436.5 64.5 438.5 63.5 440.5 63.5 441.5 64.5 443.5 65.5 444.5 66.5 445.5 67.5 445.5 68.5 444.5 69.5 443.5 69.5 441.5 69.5 440.5 69.5 438.5 68.5 436.5 67.5 436.5 66.5 436.5M75.5 433.5 72.5 433.5 72.5 435.5 73.5 435.5 74.5 435.5 75.5 436.5 75.5 437.5 75.5 438.5 74.5 438.5 73.5 438.5 72.5 438.5 71.5 437.5M56.5 403.5 57.5 403.5 58.5 402.5 58.5 410.5M66.5 402.5 65.5 402.5 64.5 403.5 63.5 405.5 63.5 407.5 64.5 409.5 65.5 410.5 66.5 410.5 67.5 410.5 68.5 410.5 69.5 409.5 69.5 407.5 69.5 405.5 69.5 403.5 68.5 402.5 67.5 402.5 66.5 402.5M75.5 399.5 74.5 399.5 73.5 399.5 72.5 400.5 72.5 401.5 72.5 402.5 72.5 403.5 73.5 404.5 74.5 404.5 75.5 403.5 75.5 402.5 75.5 401.5 74.5 401.5 73.5 401.5 72.5 401.5 72.5 402.5M34.5 541.5 43.5 545.5M34.5 541.5 43.5 538.5M40.5 543.5 40.5 539.5M34.5 536.5 43.5 536.5M34.5 536.5 34.5 532.5 35.5 531.5 35.5 530.5 36.5 530.5 37.5 530.5 38.5 530.5 38.5 531.5 38.5 532.5 38.5 536.5M38.5 533.5 43.5 530.5M34.5 527.5 43.5 527.5M34.5 527.5 34.5 522.5M38.5 527.5 38.5 524.5M43.5 527.5 43.5 522.5M34.5 517.5 43.5 520.5M34.5 517.5 43.5 514.5M40.5 519.5 40.5 515.5M43.5 514.5 43.5 504.5M34.5 504.5 43.5 504.5M34.5 504.5 34.5 500.5 35.5 499.5 35.5 498.5 36.5 498.5 37.5 498.5 38.5 498.5 38.5 499.5 39.5 500.5 39.5 504.5M32.5 488.5 46.5 488.5M32.5 488.5 46.5 488.5M32.5 488.5 32.5 485.5M46.5 488.5 46.5 485.5M37.5 483.5 46.5 483.5M38.5 483.5 38.5 482.5 37.5 481.5 37.5 480.5 38.5 479.5 38.5 478.5 40.5 477.5 42.5 478.5 43.5 479.5 43.5 480.5 43.5 481.5 43.5 482.5 42.5 483.5M34.5 475.5 35.5 475.5 34.5 474.5 34.5 475.5M37.5 475.5 43.5 475.5M37.5 472.5 43.5 467.5M37.5 467.5 43.5 472.5M40.5 464.5 40.5 459.5 39.5 459.5 38.5 460.5 37.5 461.5 37.5 462.5 38.5 463.5 38.5 464.5 40.5 464.5 42.5 464.5 43.5 463.5 43.5 462.5 43.5 461.5 43.5 460.5 42.5 459.5M34.5 456.5 43.5 456.5M32.5 451.5 46.5 451.5M32.5 451.5 46.5 451.5M32.5 454.5 32.5 451.5M46.5 454.5 46.5 451.5" stroke="#000" fill="none" stroke-width="1" stroke-linecap="square" stroke-linejoin="miter"/>
<path d="M520.5 31.5l4 4l-4 4l-4 -4zM537.5 35.5 545.5 35.5M550.5 30.5 549.5 31.5 548.5 32.5 548.5 34.5 548.5 35.5 548.5 37.5 549.5 39.5 550.5 39.5 551.5 39.5 552.5 39.5 553.5 37.5 554.5 35.5 554.5 34.5 553.5 32.5 552.5 31.5 551.5 30.5 550.5 30.5M557.5 38.5 556.5 39.5 557.5 39.5 557.5 38.5M563.5 30.5 562.5 31.5 561.5 32.5 560.5 34.5 560.5 35.5 561.5 37.5 562.5 39.5 563.5 39.5 564.5 39.5 565.5 39.5 566.5 37.5 566.5 35.5 566.5 34.5 566.5 32.5 565.5 31.5 564.5 30.5 563.5 30.5M571.5 30.5 570.5 31.5 569.5 31.5 569.5 32.5 570.5 33.5 570.5 34.5 572.5 34.5 573.5 34.5 574.5 35.5 575.5 36.5 575.5 37.5 574.5 38.5 574.5 39.5 572.5 39.5 571.5 39.5 570.5 39.5 569.5 38.5 569.5 37.5 569.5 36.5 569.5 35.5 570.5 34.5 571.5 34.5 573.5 34.5 574.5 33.5 574.5 32.5 574.5 31.5 572.5 30.5 571.5 30.5M588.5 34.5 587.5 33.5 585.5 33.5 584.5 34.5 584.5 35.5 585.5 36.5 587.5 36.5 588.5 36.5 588.5 37.5 588.5 38.5 588.5 39.5 587.5 39.5 585.5 39.5 584.5 39.5 584.5 38.5M591.5 30.5 591.5 39.5M591.5 35.5 593.5 34.5 593.5 33.5 595.5 33.5 596.5 34.5 596.5 35.5 596.5 39.5M601.5 33.5 600.5 34.5 599.5 34.5 599.5 36.5 599.5 38.5 600.5 39.5 601.5 39.5 602.5 39.5 603.5 39.5 604.5 38.5 604.5 36.5 604.5 34.5 603.5 34.5 602.5 33.5 601.5 33.5M607.5 33.5 607.5 39.5M607.5 36.5 608.5 34.5 609.5 34.5 609.5 33.5 611.5 33.5M613.5 30.5 613.5 37.5 614.5 39.5 615.5 39.5M612.5 33.5 615.5 33.5" stroke="#00f" fill="none" stroke-width="1" stroke-linecap="square"/>
<path d="M516.5 47.5h8m-4 -4v8M537.5 47.5 545.5 47.5M550.5 42.5 549.5 43.5 548.5 44.5 548.5 46.5 548.5 47.5 548.5 49.5 549.5 51.5 550.5 51.5 551.5 51.5 552.5 51.5 553.5 49.5 554.5 47.5 554.5 46.5 553.5 44.5 552.5 43.5 551.5 42.5 550.5 42.5M557.5 50.5 556.5 51.5 557.5 51.5 557.5 50.5M563.5 42.5 562.5 43.5 561.5 44.5 560.5 46.5 560.5 47.5 561.5 49.5 562.5 51.5 563.5 51.5 564.5 51.5 565.5 51.5 566.5 49.5 566.5 47.5 566.5 46.5 566.5 44.5 565.5 43.5 564.5 42.5 563.5 42.5M574.5 42.5 570.5 42.5 569.5 46.5 570.5 46.5 571.5 45.5 572.5 45.5 573.5 46.5 574.5 46.5 575.5 48.5 574.5 50.5 573.5 51.5 572.5 51.5 571.5 51.5 570.5 51.5 569.5 50.5 569.5 49.5M588.5 46.5 587.5 45.5 585.5 45.5 584.5 46.5 584.5 47.5 585.5 48.5 587.5 48.5 588.5 48.5 588.5 49.5 588.5 50.5 588.5 51.5 587.5 51.5 585.5 51.5 584.5 51.5 584.5 50.5M591.5 42.5 591.5 51.5M591.5 47.5 593.5 46.5 593.5 45.5 595.5 45.5 596.5 46.5 596.5 47.5 596.5 51.5M601.5 45.5 600.5 46.5 599.5 46.5 599.5 48.5 599.5 50.5 600.5 51.5 601.5 51.5 602.5 51.5 603.5 51.5 604.5 50.5 604.5 48.5 604.5 46.5 603.5 46.5 602.5 45.5 601.5 45.5M607.5 45.5 607.5 51.5M607.5 48.5 608.5 46.5 609.5 46.5 609.5 45.5 611.5 45.5M613.5 42.5 613.5 49.5 614.5 51.5 615.5 51.5M612.5 45.5 615.5 45.5" stroke="#00f" fill="none" stroke-width="1" stroke-linecap="square"/>
<path d="M516.5 59.5h8m-4 -4v8M541.5 55.5 541.5 63.5M537.5 59.5 545.5 59.5M550.5 54.5 549.5 55.5 548.5 56.5 548.5 58.5 548.5 59.5 548.5 61.5 549.5 63.5 550.5 63.5 551.5 63.5 552.5 63.5 553.5 61.5 554.5 59.5 554.5 58.5 553.5 56.5 552.5 55.5 551.5 54.5 550.5 54.5M557.5 62.5 556.5 63.5 557.5 63.5 557.5 62.5M563.5 54.5 562.5 55.5 561.5 56.5 560.5 58.5 560.5 59.5 561.5 61.5 562.5 63.5 563.5 63.5 564.5 63.5 565.5 63.5 566.5 61.5 566.5 59.5 566.5 58.5 566.5 56.5 565.5 55.5 564.5 54.5 563.5 54.5M571.5 54.5 570.5 55.5 569.5 56.5 569.5 58.5 569.5 59.5 569.5 61.5 570.5 63.5 571.5 63.5 572.5 63.5 573.5 63.5 574.5 61.5 575.5 59.5 575.5 58.5 574.5 56.5 573.5 55.5 572.5 54.5 571.5 54.5M588.5 58.5 587.5 57.5 585.5 57.5 584.5 58.5 584.5 59.5 585.5 60.5 587.5 60.5 588.5 60.5 588.5 61.5 588.5 62.5 588.5 63.5 587.5 63.5 585.5 63.5 584.5 63.5 584.5 62.5M591.5 54.5 591.5 63.5M591.5 59.5 593.5 58.5 593.5 57.5 595.5 57.5 596.5 58.5 596.5 59.5 596.5 63.5M601.5 57.5 600.5 58.5 599.5 58.5 599.5 60.5 599.5 62.5 600.5 63.5 601.5 63.5 602.5 63.5 603.5 63.5 604.5 62.5 604.5 60.5 604.5 58.5 603.5 58.5 602.5 57.5 601.5 57.5M607.5 57.5 607.5 63.5M607.5 60.5 608.5 58.5 609.5 58.5 609.5 57.5 611.5 57.5M613.5 54.5 613.5 61.5 614.5 63.5 615.5 63.5M612.5 57.5 615.5 57.5" stroke="#0f0" fill="none" stroke-width="1" stroke-linecap="square"/>
<path d="M516.5 67.5l8 8m0 -8l-8 8M541.5 67.5 541.5 75.5M537.5 71.5 545.5 71.5M550.5 66.5 549.5 67.5 548.5 68.5 548.5 70.5 548.5 71.5 548.5 73.5 549.5 75.5 550.5 75.5 551.5 75.5 552.5 75.5 553.5 73.5 554.5 71.5 554.5 70.5 553.5 68.5 552.5 67.5 551.5 66.5 550.5 66.5M557.5 74.5 556.5 75.5 557.5 75.5 557.5 74.5M563.5 66.5 562.5 67.5 561.5 68.5 560.5 70.5 560.5 71.5 561.5 73.5 562.5 75.5 563.5 75.5 564.5 75.5 565.5 75.5 566.5 73.5 566.5 71.5 566.5 70.5 566.5 68.5 565.5 67.5 564.5 66.5 563.5 66.5M571.5 66.5 570.5 67.5 569.5 68.5 569.5 70.5 569.5 71.5 569.5 73.5 570.5 75.5 571.5 75.5 572.5 75.5 573.5 75.5 574.5 73.5 575.5 71.5 575.5 70.5 574.5 68.5 573.5 67.5 572.5 66.5 571.5 66.5M584.5 69.5 584.5 75.5M584.5 71.5 585.5 70.5 586.5 69.5 588.5 69.5 588.5 70.5 589.5 71.5 589.5 75.5M589.5 71.5 590.5 70.5 591.5 69.5 592.5 69.5 593.5 70.5 593.5 71.5 593.5 75.5M596.5 66.5 597.5 67.5 597.5 66.5 596.5 66.5M597.5 69.5 597.5 75.5M605.5 66.5 605.5 75.5M605.5 70.5 604.5 70.5 603.5 69.5 602.5 69.5 601.5 70.5 600.5 70.5 600.5 72.5 600.5 74.5 601.5 75.5 602.5 75.5 603.5 75.5 604.5 75.5 605.5 74.5M613.5 66.5 613.5 75.5M613.5 70.5 612.5 70.5 611.5 69.5 610.5 69.5 609.5 70.5 608.5 70.5 608.5 72.5 608.5 74.5 609.5 75.5 610.5 75.5 611.5 75.5 612.5 75.5 613.5 74.5M616.5 66.5 616.5 75.5M619.5 72.5 624.5 72.5 624.5 71.5 624.5 70.5 623.5 70.5 622.5 69.5 621.5 69.5 620.5 70.5 619.5 72.5 620.5 74.5 620.5 75.5 621.5 75.5 622.5 75.5 623.5 75.5 624.5 74.5" stroke="#0f0" fill="none" stroke-width="1" stroke-linecap="square"/>
<path d="M516.5 79.5l8 8m0 -8l-8 8M541.5 79.5 541.5 87.5M537.5 83.5 545.5 83.5M550.5 78.5 549.5 79.5 548.5 80.5 548.5 82.5 548.5 83.5 548.5 85.5 549.5 87.5 550.5 87.5 551.5 87.5 552.5 87.5 553.5 85.5 554.5 83.5 554.5 82.5 553.5 80.5 552.5 79.5 551.5 78.5 550.5 78.5M557.5 86.5 556.5 87.5 557.5 87.5 557.5 86.5M563.5 78.5 562.5 79.5 561.5 80.5 560.5 82.5 560.5 83.5 561.5 85.5 562.5 87.5 563.5 87.5 564.5 87.5 565.5 87.5 566.5 85.5 566.5 83.5 566.5 82.5 566.5 80.5 565.5 79.5 564.5 78.5 563.5 78.5M571.5 78.5 570.5 79.5 569.5 80.5 569.5 82.5 569.5 83.5 569.5 85.5 570.5 87.5 571.5 87.5 572.5 87.5 573.5 87.5 574.5 85.5 575.5 83.5 575.5 82.5 574.5 80.5 573.5 79.5 572.5 78.5 571.5 78.5M584.5 78.5 584.5 87.5M589.5 81.5 588.5 82.5 587.5 84.5 588.5 86.5 588.5 87.5 589.5 87.5 591.5 87.5 592.5 86.5 593.5 84.5 592.5 82.5 591.5 82.5 591.5 81.5 589.5 81.5M596.5 81.5 596.5 87.5M596.5 83.5 597.5 82.5 598.5 81.5 599.5 81.5 600.5 82.5 600.5 83.5 600.5 87.5M608.5 81.5 608.5 88.5 608.5 89.5 607.5 90.5 606.5 90.5 605.5 90.5 604.5 90.5M608.5 82.5 607.5 82.5 606.5 81.5 605.5 81.5 604.5 82.5 603.5 84.5 604.5 86.5 604.5 87.5 605.5 87.5 606.5 87.5 607.5 87.5 608.5 86.5" stroke="#0f0" fill="none" stroke-width="1" stroke-linecap="square"/>
<path d="M516.5 95.5h8m-4 -4v8M541.5 91.5 541.5 99.5M537.5 95.5 545.5 95.5M550.5 90.5 549.5 91.5 548.5 92.5 548.5 94.5 548.5 95.5 548.5 97.5 549.5 99.5 550.5 99.5 551.5 99.5 552.5 99.5 553.5 97.5 554.5 95.5 554.5 94.5 553.5 92.5 552.5 91.5 551.5 90.5 550.5 90.5M557.5 98.5 556.5 99.5 557.5 99.5 557.5 98.5M563.5 90.5 562.5 91.5 561.5 92.5 560.5 94.5 560.5 95.5 561.5 97.5 562.5 99.5 563.5 99.5 564.5 99.5 565.5 99.5 566.5 97.5 566.5 95.5 566.5 94.5 566.5 92.5 565.5 91.5 564.5 90.5 563.5 90.5M574.5 90.5 570.5 90.5 569.5 94.5 570.5 94.5 571.5 93.5 572.5 93.5 573.5 94.5 574.5 94.5 575.5 96.5 574.5 98.5 573.5 99.5 572.5 99.5 571.5 99.5 570.5 99.5 569.5 98.5 569.5 97.5M588.5 94.5 587.5 93.5 585.5 93.5 584.5 94.5 584.5 95.5 585.5 96.5 587.5 96.5 588.5 96.5 588.5 97.5 588.5 98.5 588.5 99.5 587.5 99.5 585.5 99.5 584.5 99.5 584.5 98.5M591.5 90.5 591.5 99.5M591.5 95.5 593.5 94.5 593.5 93.5 595.5 93.5 596.5 94.5 596.5 95.5 596.5 99.5M601.5 93.5 600.5 94.5 599.5 94.5 599.5 96.5 599.5 98.5 600.5 99.5 601.5 99.5 602.5 99.5 603.5 99.5 604.5 98.5 604.5 96.5 604.5 94.5 603.5 94.5 602.5 93.5 601.5 93.5M607.5 93.5 607.5 99.5M607.5 96.5 608.5 94.5 609.5 94.5 609.5 93.5 611.5 93.5M613.5 90.5 613.5 97.5 614.5 99.5 615.5 99.5M612.5 93.5 615.5 93.5" stroke="#f00" fill="none" stroke-width="1" stroke-linecap="square"/>
<path d="M520.5 103.5l4 4l-4 4l-4 -4zM541.5 103.5 541.5 111.5M537.5 107.5 545.5 107.5M550.5 102.5 549.5 103.5 548.5 104.5 548.5 106.5 548.5 107.5 548.5 109.5 549.5 111.5 550.5 111.5 551.5 111.5 552.5 111.5 553.5 109.5 554.5 107.5 554.5 106.5 553.5 104.5 552.5 103.5 551.5 102.5 550.5 102.5M557.5 110.5 556.5 111.5 557.5 111.5 557.5 110.5M563.5 102.5 562.5 103.5 561.5 104.5 560.5 106.5 560.5 107.5 561.5 109.5 562.5 111.5 563.5 111.5 564.5 111.5 565.5 111.5 566.5 109.5 566.5 107.5 566.5 106.5 566.5 104.5 565.5 103.5 564.5 102.5 563.5 102.5M571.5 102.5 570.5 103.5 569.5 103.5 569.5 104.5 570.5 105.5 570.5 106.5 572.5 106.5 573.5 106.5 574.5 107.5 575.5 108.5 575.5 109.5 574.5 110.5 574.5 111.5 572.5 111.5 571.5 111.5 570.5 111.5 569.5 110.5 569.5 109.5 569.5 108.5 569.5 107.5 570.5 106.5 571.5 106.5 573.5 106.5 574.5 105.5 574.5 104.5 574.5 103.5 572.5 102.5 571.5 102.5M588.5 106.5 587.5 105.5 585.5 105.5 584.5 106.5 584.5 107.5 585.5 108.5 587.5 108.5 588.5 108.5 588.5 109.5 588.5 110.5 588.5 111.5 587.5 111.5 585.5 111.5 584.5 111.5 584.5 110.5M591.5 102.5 591.5 111.5M591.5 107.5 593.5 106.5 593.5 105.5 595.5 105.5 596.5 106.5 596.5 107.5 596.5 111.5M601.5 105.5 600.5 106.5 599.5 106.5 599.5 108.5 599.5 110.5 600.5 111.5 601.5 111.5 602.5 111.5 603.5 111.5 604.5 110.5 604.5 108.5 604.5 106.5 603.5 106.5 602.5 105.5 601.5 105.5M607.5 105.5 607.5 111.5M607.5 108.5 608.5 106.5 609.5 106.5 609.5 105.5 611.5 105.5M613.5 102.5 613.5 109.5 614.5 111.5 615.5 111.5M612.5 105.5 615.5 105.5" stroke="#f00" fill="none" stroke-width="1" stroke-linecap="square"/>
<path d="M520.5 115.5l4 4l-4 4l-4 -4zM541.5 115.5 541.5 123.5M537.5 119.5 545.5 119.5M550.5 114.5 549.5 115.5 548.5 116.5 548.5 118.5 548.5 119.5 548.5 121.5 549.5 123.5 550.5 123.5 551.5 123.5 552.5 123.5 553.5 121.5 554.5 119.5 554.5 118.5 553.5 116.5 552.5 115.5 551.5 114.5 550.5 114.5M557.5 122.5 556.5 123.5 557.5 123.5 557.5 122.5M561.5 114.5 566.5 114.5 563.5 118.5 564.5 118.5 565.5 118.5 566.5 118.5 566.5 120.5 566.5 122.5 565.5 123.5 564.5 123.5 562.5 123.5 561.5 123.5 561.5 122.5 560.5 121.5M574.5 114.5 570.5 114.5 569.5 118.5 570.5 118.5 571.5 117.5 572.5 117.5 573.5 118.5 574.5 118.5 575.5 120.5 574.5 122.5 573.5 123.5 572.5 123.5 571.5 123.5 570.5 123.5 569.5 122.5 569.5 121.5M588.5 118.5 587.5 117.5 585.5 117.5 584.5 118.5 584.5 119.5 585.5 120.5 587.5 120.5 588.5 120.5 588.5 121.5 588.5 122.5 588.5 123.5 587.5 123.5 585.5 123.5 584.5 123.5 584.5 122.5M591.5 114.5 591.5 123.5M591.5 119.5 593.5 118.5 593.5 117.5 595.5 117.5 596.5 118.5 596.5 119.5 596.5 123.5M601.5 117.5 600.5 118.5 599.5 118.5 599.5 120.5 599.5 122.5 600.5 123.5 601.5 123.5 602.5 123.5 603.5 123.5 604.5 122.5 604.5 120.5 604.5 118.5 603.5 118.5 602.5 117.5 601.5 117.5M607.5 117.5 607.5 123.5M607.5 120.5 608.5 118.5 609.5 118.5 609.5 117.5 611.5 117.5M613.5 114.5 613.5 121.5 614.5 123.5 615.5 123.5M612.5 117.5 615.5 117.5" stroke="#000" fill="none" stroke-width="1" stroke-linecap="square"/>
<defs><marker id="xb" markerUnits="userSpaceOnUse" markerWidth="8" markerHeight="8" viewBox="-4 -4 8 8" refX="0" refY="0" overflow="visible"><path d="M-2 -2L2 2M-2 2L2 -2" stroke="#00f" fill="none" stroke-width="1" stroke-linecap="square" shape-rendering="crispEdges"/></marker><marker id="xg" markerUnits="userSpaceOnUse" markerWidth="8" markerHeight="8" viewBox="-4 -4 8 8" refX="0" refY="0" overflow="visible"><path d="M-2 -2L2 2M-2 2L2 -2" stroke="#0f0" fill="none" stroke-width="1" stroke-linecap="square" shape-rendering="crispEdges"/></marker><marker id="xr" markerUnits="userSpaceOnUse" markerWidth="8" markerHeight="8" viewBox="-4 -4 8 8" refX="0" refY="0" overflow="visible"><path d="M-2 -2L2 2M-2 2L2 -2" stroke="#f00" fill="none" stroke-width="1" stroke-linecap="square" shape-rendering="crispEdges"/></marker><marker id="xk" markerUnits="userSpaceOnUse" markerWidth="8" markerHeight="8" viewBox="-4 -4 8 8" refX="0" refY="0" overflow="visible"><path d="M-2 -2L2 2M-2 2L2 -2" stroke="#000" fill="none" stroke-width="1" stroke-linecap="square" shape-rendering="crispEdges"/></marker><marker id="pb" markerUnits="userSpaceOnUse" markerWidth="8" markerHeight="8" viewBox="-4 -4 8 8" refX="0" refY="0" overflow="visible"><path d="M-2 0H2M0 -2V2" stroke="#00f" fill="none" stroke-width="1" stroke-linecap="square" shape-rendering="crispEdges"/></marker><marker id="pg" markerUnits="userSpaceOnUse" markerWidth="8" markerHeight="8" viewBox="-4 -4 8 8" refX="0" refY="0" overflow="visible"><path d="M-2 0H2M0 -2V2" stroke="#0f0" fill="none" stroke-width="1" stroke-linecap="square" shape-rendering="crispEdges"/></marker><marker id="pr" markerUnits="userSpaceOnUse" markerWidth="8" markerHeight="8" viewBox="-4 -4 8 8" refX="0" refY="0" overflow="visible"><path d="M-2 0H2M0 -2V2" stroke="#f00" fill="none" stroke-width="1" stroke-linecap="square" shape-rendering="crispEdges"/></marker><marker id="pk" markerUnits="userSpaceOnUse" markerWidth="8" markerHeight="8" viewBox="-4 -4 8 8" refX="0" refY="0" overflow="visible"><path d="M-2 0H2M0 -2V2" stroke="#000" fill="none" stroke-width="1" stroke-linecap="square" shape-rendering="crispEdges"/></marker><marker id="db" markerUnits="userSpaceOnUse" markerWidth="8" markerHeight="8" viewBox="-4 -4 8 8" refX="0" refY="0" overflow="visible"><path d="M0 -2L2 0L0 2L-2 0Z" stroke="#00f" fill="none" stroke-width="1" stroke-linecap="square" shape-rendering="crispEdges"/></marker><marker id="dg" markerUnits="userSpaceOnUse" markerWidth="8" markerHeight="8" viewBox="-4 -4 8 8" refX="0" refY="0" overflow="visible"><path d="M0 -2L2 0L0 2L-2 0Z" stroke="#0f0" fill="none" stroke-width="1" stroke-linecap="square" shape-rendering="crispEdges"/></marker><marker id="dr" markerUnits="userSpaceOnUse" markerWidth="8" markerHeight="8" viewBox="-4 -4 8 8" refX="0" refY="0" overflow="visible"><path d="M0 -2L2 0L0 2L-2 0Z" stroke="#f00" fill="none" stroke-width="1" stroke-linecap="square" shape-rendering="crispEdges"/></marker><marker id="dk" markerUnits="userSpaceOnUse" markerWidth="8" markerHeight="8" viewBox="-4 -4 8 8" refX="0" refY="0" overflow="visible"><path d="M0 -2L2 0L0 2L-2 0Z" stroke="#000" fill="none" stroke-width="1" stroke-linecap="square" shape-rendering="crispEdges"/></marker></defs>
<polyline points="144.5,210.5 167.5,158.5 169.5,183.5 193.5,201.5 199.5,194.5 187.5,210.5 193.5,210.5 229.5,155.5 202.5,172.5 266.5,187.5 200.5,194.5 194.5,201.5 238.5,206.5 243.5,210.5 275.5,206.5 310.5,191.5 308.5,212.5 393.5,153.5 395.5,170.5 425.5,171.5 428.5,174.5 383.5,182.5 390.5,184.5 385.5,190.5 419.5,189.5 423.5,189.5 427.5,194.5 413.5,210.5 450.5,139.5 448.5,149.5 446.5,151.5 437.5,152.5 444.5,154.5 434.5,176.5 415.5,211.5 460.5,178.5 462.5,180.5" fill="none" stroke="none" style="marker:url(#db)"/>
<polyline points="151.5,198.5 344.5,171.5 342.5,182.5 346.5,181.5 322.5,200.5 347.5,199.5 448.5,192.5 441.5,207.5 461.5,163.5 459.5,172.5" fill="none" stroke="none" style="marker:url(#pb)"/>
<polyline points="191.5,133.5 194.5,140.5 196.5,138.5 198.5,139.5 201.5,132.5 204.5,141.5 206.5,133.5 208.5,140.5 211.5,142.5 214.5,129.5 216.5,132.5 218.5,131.5 221.5,133.5 224.5,129.5 226.5,137.5 228.5,141.5 231.5,141.5 234.5,133.5 236.5,134.5 238.5,133.5 241.5,136.5 244.5,139.5 246.5,139.5 248.5,136.5 251.5,134.5 254.5,133.5 256.5,134.5 258.5,134.5 261.5,134.5 264.5,137.5 266.5,131.5 268.5,133.5 271.5,131.5 274.5,137.5 276.5,130.5 278.5,134.5 281.5,134.5 284.5,133.5 286.5,133.5 288.5,131.5 291.5,135.5 294.5,131.5 296.5,130.5 298.5,135.5 301.5,130.5 304.5,131.5 306.5,133.5 308.5,131.5 311.5,132.5 314.5,130.5 316.5,131.5 318.5,131.5 321.5,135.5 324.5,137.5 326.5,134.5 328.5,132.5 331.5,135.5 334.5,142.5 336.5,136.5 338.5,133.5 341.5,135.5 344.5,128.5 346.5,127.5 348.5,130.5 351.5,133.5 354.5,137.5 356.5,134.5 358.5,133.5 361.5,131.5 364.5,136.5 366.5,134.5 368.5,132.5 371.5,135.5 374.5,130.5 376.5,138.5 378.5,137.5 381.5,135.5 384.5,130.5 386.5,135.5 388.5,133.5 391.5,135.5 394.5,136.5 396.5,134.5 398.5,136.5 401.5,136.5 404.5,141.5 406.5,139.5 408.5,135.5 411.5,137.5 414.5,138.5 416.5,138.5 418.5,132.5 421.5,136.5 424.5,135.5 426.5,135.5 428.5,133.5 431.5,137.5 434.5,129.5 436.5,134.5 438.5,137.5 441.5,133.5 444.5,133.5 446.5,137.5 246.5,186.5 229.5,190.5 234.5,195.5 243.5,161.5 240.5,170.5 219.5,157.5 237.5,194.5 245.5,194.5 239.5,161.5 236.5,195.5 239.5,193.5 248.5,197.5 291.5,184.5 293.5,157.5 291.5,186.5 291.5,185.5 292.5,150.5 380.5,202.5 377.5,191.5 379.5,169.5 379.5,166.5 379.5,188.5 379.5,201.5 380.5,194.5 380.5,191.5 387.5,177.5 388.5,175.5 388.5,177.5 386.5,170.5 387.5,164.5 391.5,178.5 389.5,161.5 381.5,152.5 381.5,156.5 382.5,156.5 383.5,152.5 383.5,153.5 384.5,155.5 384.5,159.5 385.5,159.5 385.5,157.5 385.5,155.5 386.5,155.5 386.5,158.5 387.5,160.5 387.5,156.5 388.5,159.5 388.5,158.5 389.5,157.5 389.5,156.5 390.5,160.5 390.5,154.5 390.5,158.5 391.5,158.5 391.5,155.5 392.5,157.5 392.5,161.5 393.5,157.5 393.5,159.5 394.5,157.5 394.5,160.5 394.5,156.5 395.5,159.5 395.5,156.5 396.5,162.5 396.5,161.5 397.5,157.5 397.5,161.5 398.5,159.5 398.5,158.5 399.5,157.5 399.5,159.5 399.5,158.5 400.5,160.5 400.5,158.5 401.5,160.5 401.5,158.5 402.5,160.5 402.5,157.5 403.5,158.5 403.5,163.5 403.5,160.5 404.5,160.5 404.5,161.5 405.5,159.5 405.5,164.5 406.5,158.5 406.5,159.5 407.5,164.5 408.5,158.5 408.5,161.5 408.5,163.5 409.5,160.5 409.5,162.5 410.5,160.5 410.5,163.5 411.5,159.5 412.5,163.5 412.5,164.5 413.5,161.5 413.5,162.5 414.5,160.5 414.5,161.5 415.5,162.5 415.5,164.5 416.5,164.5 416.5,165.5 417.5,161.5 417.5,159.5 418.5,165.5 418.5,164.5 419.5,164.5 419.5,162.5 420.5,161.5 420.5,166.5 421.5,164.5 421.5,161.5 422.5,165.5 423.5,162.5 424.5,163.5 424.5,166.5 425.5,164.5 425.5,167.5 426.5,165.5 426.5,164.5 427.5,165.5 428.5,162.5 428.5,167.5 429.5,168.5 429.5,164.5 430.5,167.5 430.5,162.5 430.5,163.5 431.5,164.5 431.5,163.5 432.5,164.5 433.5,164.5 433.5,168.5 434.5,165.5 434.5,163.5 435.5,166.5 435.5,167.5 436.5,169.5 436.5,170.5 437.5,167.5 437.5,165.5 438.5,170.5 438.5,169.5 439.5,172.5 439.5,167.5 440.5,170.5 440.5,172.5 441.5,168.5 449.5,172.5 448.5,185.5 448.5,178.5 446.5,169.5 451.5,168.5 446.5,176.5 444.5,178.5 445.5,184.5 446.5,179.5 446.5,170.5 444.5,174.5 444.5,181.5 447.5,168.5 443.5,185.5 445.5,173.5 444.5,183.5 444.5,177.5 446.5,185.5 446.5,202.5 445.5,160.5 413.5,165.5 433.5,180.5 458.5,151.5 451.5,151.5 461.5,155.5 452.5,168.5 452.5,164.5 459.5,168.5 460.5,162.5 455.5,144.5 457.5,145.5 449.5,161.5 449.5,157.5 448.5,168.5 460.5,152.5 448.5,169.5 456.5,164.5 452.5,170.5 456.5,152.5 452.5,150.5 460.5,159.5 456.5,154.5 144.5,118.5 153.5,150.5 137.5,197.5 152.5,185.5 153.5,191.5 171.5,208.5 171.5,156.5 174.5,207.5 172.5,143.5 167.5,190.5 176.5,164.5 175.5,184.5 166.5,145.5 175.5,171.5 191.5,181.5 188.5,194.5 188.5,156.5 191.5,185.5 190.5,186.5 180.5,165.5 180.5,155.5 186.5,155.5" fill="none" stroke="none" style="marker:url(#pg)"/>
<polyline points="191.5,122.5 193.5,122.5 194.5,122.5 196.5,125.5 197.5,125.5 199.5,125.5 201.5,123.5 202.5,123.5 204.5,124.5 205.5,120.5 207.5,120.5 209.5,125.5 210.5,125.5 212.5,126.5 213.5,123.5 215.5,124.5 217.5,120.5 218.5,124.5 220.5,125.5 221.5,119.5 223.5,124.5 225.5,126.5 226.5,122.5 228.5,119.5 229.5,124.5 231.5,122.5 233.5,124.5 234.5,125.5 236.5,125.5 237.5,121.5 239.5,123.5 241.5,120.5 242.5,125.5 244.5,121.5 245.5,121.5 247.5,119.5 249.5,125.5 250.5,120.5 252.5,126.5 253.5,122.5 255.5,125.5 257.5,126.5 258.5,122.5 260.5,124.5 261.5,126.5 263.5,124.5 265.5,124.5 266.5,120.5 268.5,126.5 269.5,124.5 271.5,122.5 273.5,122.5 274.5,122.5 276.5,123.5 277.5,119.5 279.5,126.5 281.5,126.5 282.5,121.5 284.5,122.5 285.5,120.5 287.5,124.5 289.5,122.5 290.5,123.5 292.5,122.5 293.5,122.5 295.5,123.5 297.5,124.5 298.5,122.5 300.5,123.5 301.5,121.5 303.5,127.5 305.5,122.5 306.5,121.5 308.5,123.5 309.5,122.5 311.5,126.5 313.5,125.5 314.5,126.5 316.5,121.5 317.5,123.5 319.5,123.5 321.5,123.5 322.5,121.5 324.5,122.5 325.5,124.5 327.5,120.5 329.5,125.5 330.5,125.5 332.5,123.5 333.5,125.5 335.5,126.5 337.5,126.5 338.5,120.5 340.5,122.5 341.5,123.5 343.5,124.5 345.5,125.5 346.5,122.5 348.5,122.5 349.5,122.5 351.5,119.5 353.5,121.5 354.5,123.5 356.5,121.5 357.5,122.5 359.5,120.5 361.5,119.5 362.5,124.5 364.5,125.5 365.5,126.5 367.5,128.5 369.5,128.5 370.5,126.5 372.5,125.5 373.5,126.5 375.5,128.5 377.5,127.5 378.5,128.5 380.5,129.5 381.5,128.5 383.5,129.5 385.5,128.5 386.5,129.5 388.5,126.5 389.5,128.5 391.5,129.5 393.5,126.5 394.5,129.5 396.5,131.5 397.5,129.5 399.5,133.5 401.5,132.5 402.5,133.5 404.5,128.5 405.5,134.5 407.5,129.5 409.5,134.5 410.5,131.5 412.5,129.5 413.5,133.5 415.5,130.5 417.5,128.5 418.5,129.5 420.5,130.5 421.5,130.5 423.5,131.5 425.5,130.5 426.5,129.5 428.5,132.5 429.5,129.5 431.5,124.5 433.5,124.5 434.5,127.5 436.5,127.5 437.5,126.5 439.5,124.5 441.5,127.5 442.5,128.5 444.5,127.5 445.5,123.5 447.5,123.5 449.5,130.5 450.5,126.5 452.5,128.5 453.5,128.5 455.5,127.5 457.5,125.5 458.5,127.5 184.5,138.5 184.5,140.5 185.5,141.5 185.5,133.5 186.5,138.5 186.5,140.5 186.5,137.5 187.5,139.5 187.5,136.5 187.5,141.5 188.5,140.5 188.5,135.5 189.5,138.5 189.5,141.5 189.5,135.5 190.5,135.5 190.5,131.5 190.5,139.5 191.5,133.5 191.5,135.5 192.5,136.5 192.5,141.5 192.5,134.5 193.5,138.5 193.5,133.5 194.5,135.5 194.5,140.5 195.5,134.5 195.5,138.5 195.5,133.5 196.5,138.5 196.5,135.5 197.5,141.5 197.5,136.5 197.5,140.5 198.5,139.5 198.5,135.5 198.5,141.5 199.5,141.5 199.5,134.5 200.5,140.5 200.5,135.5 200.5,132.5 201.5,136.5 201.5,132.5 201.5,134.5 202.5,141.5 202.5,133.5 203.5,134.5 203.5,136.5 204.5,132.5 204.5,139.5 205.5,135.5 205.5,139.5 206.5,136.5 206.5,141.5 206.5,139.5 207.5,137.5 207.5,136.5 208.5,137.5 208.5,138.5 208.5,133.5 209.5,135.5 209.5,139.5 210.5,132.5 211.5,133.5 211.5,139.5 212.5,133.5 212.5,136.5 213.5,133.5 213.5,139.5 214.5,138.5 214.5,133.5 215.5,138.5 215.5,137.5 216.5,132.5 216.5,134.5 217.5,140.5 217.5,139.5 217.5,137.5 218.5,133.5 218.5,138.5 219.5,136.5 219.5,138.5 219.5,137.5 220.5,132.5 220.5,136.5 220.5,139.5 221.5,139.5 221.5,134.5 222.5,132.5 222.5,140.5 222.5,135.5 223.5,140.5 223.5,132.5 224.5,133.5 224.5,131.5 225.5,137.5 225.5,138.5 226.5,141.5 226.5,137.5 227.5,136.5 227.5,135.5 227.5,137.5 228.5,137.5 228.5,134.5 229.5,135.5 229.5,134.5 230.5,138.5 230.5,139.5 230.5,135.5 231.5,139.5 231.5,136.5 231.5,140.5 232.5,133.5 232.5,135.5 233.5,136.5 233.5,134.5 233.5,137.5 234.5,140.5 234.5,137.5 235.5,132.5 235.5,137.5 235.5,131.5 236.5,139.5 236.5,131.5 236.5,140.5 237.5,139.5 237.5,131.5 238.5,135.5 238.5,139.5 238.5,134.5 239.5,132.5 239.5,138.5 239.5,134.5 240.5,132.5 240.5,134.5 241.5,135.5 241.5,137.5 242.5,133.5 242.5,137.5 243.5,132.5 243.5,131.5 243.5,135.5 244.5,134.5 244.5,139.5 244.5,138.5 245.5,140.5 245.5,132.5 246.5,135.5 246.5,138.5 246.5,137.5 247.5,132.5 247.5,133.5 247.5,136.5 248.5,137.5 248.5,131.5 249.5,138.5 249.5,133.5 249.5,136.5 250.5,140.5 250.5,133.5 250.5,132.5 251.5,138.5 251.5,134.5 252.5,131.5 252.5,133.5 253.5,134.5 254.5,137.5 254.5,134.5 254.5,133.5 255.5,131.5 255.5,134.5 255.5,137.5 256.5,131.5 256.5,136.5 257.5,137.5 257.5,134.5 257.5,133.5 258.5,134.5 258.5,133.5 258.5,136.5 259.5,135.5 260.5,136.5 260.5,132.5 261.5,132.5 261.5,131.5 262.5,132.5 262.5,134.5 263.5,135.5 263.5,136.5 264.5,135.5 264.5,133.5 265.5,132.5 265.5,136.5 266.5,135.5 266.5,132.5 266.5,133.5 267.5,131.5 268.5,131.5 268.5,135.5 268.5,133.5 269.5,133.5 269.5,134.5 269.5,132.5 270.5,135.5 270.5,134.5 271.5,134.5 271.5,132.5 272.5,133.5 272.5,132.5 273.5,131.5 273.5,133.5 273.5,132.5 274.5,132.5 274.5,133.5 275.5,133.5 275.5,132.5 276.5,130.5 276.5,133.5 276.5,131.5 277.5,133.5 277.5,131.5 278.5,132.5 278.5,133.5 279.5,134.5 279.5,131.5 279.5,133.5 280.5,133.5 281.5,134.5 281.5,132.5 281.5,133.5 282.5,134.5 282.5,135.5 282.5,130.5 283.5,134.5 283.5,133.5 284.5,132.5 284.5,134.5 284.5,131.5 285.5,134.5 285.5,132.5 285.5,133.5 286.5,131.5 286.5,132.5 287.5,131.5 287.5,134.5 288.5,132.5 289.5,132.5 289.5,133.5 290.5,134.5 290.5,133.5 291.5,131.5 291.5,133.5 292.5,134.5 292.5,133.5 293.5,131.5 293.5,132.5 293.5,130.5 294.5,132.5 294.5,134.5 295.5,133.5 295.5,135.5 296.5,133.5 296.5,132.5 296.5,135.5 297.5,135.5 297.5,133.5 298.5,133.5 298.5,134.5 298.5,132.5 299.5,134.5 299.5,132.5 300.5,132.5 300.5,134.5 301.5,132.5 301.5,134.5 301.5,133.5 302.5,134.5 302.5,135.5 303.5,135.5 303.5,130.5 303.5,132.5 304.5,134.5 304.5,132.5 305.5,132.5 305.5,131.5 306.5,134.5 306.5,132.5 307.5,134.5 308.5,132.5 308.5,133.5 309.5,133.5 309.5,135.5 310.5,135.5 310.5,132.5 311.5,133.5 311.5,135.5 311.5,134.5 312.5,135.5 312.5,131.5 312.5,136.5 313.5,131.5 313.5,133.5 314.5,131.5 314.5,135.5 314.5,134.5 315.5,134.5 315.5,133.5 316.5,133.5 316.5,134.5 317.5,132.5 317.5,136.5 317.5,134.5 318.5,132.5 318.5,135.5 319.5,132.5 319.5,135.5 320.5,132.5 320.5,133.5 320.5,135.5 321.5,131.5 321.5,134.5 322.5,134.5 322.5,135.5 323.5,136.5 323.5,133.5 323.5,132.5 324.5,135.5 324.5,133.5 325.5,132.5 325.5,134.5 325.5,135.5 326.5,134.5 326.5,133.5 327.5,138.5 327.5,133.5 328.5,132.5 328.5,135.5 328.5,136.5 329.5,133.5 329.5,131.5 330.5,131.5 330.5,137.5 331.5,137.5 331.5,131.5 331.5,135.5 332.5,132.5 332.5,140.5 333.5,132.5 333.5,131.5 334.5,131.5 334.5,134.5 335.5,139.5 335.5,134.5 336.5,138.5 336.5,137.5 336.5,135.5 337.5,131.5 337.5,136.5 338.5,137.5 338.5,135.5 338.5,136.5 339.5,134.5 339.5,133.5 339.5,136.5 340.5,131.5 340.5,135.5 341.5,132.5 341.5,133.5 341.5,129.5 342.5,131.5 342.5,134.5 342.5,136.5 343.5,132.5 343.5,134.5 344.5,132.5 344.5,137.5 344.5,131.5 345.5,136.5 345.5,131.5 345.5,133.5 346.5,134.5 346.5,136.5 347.5,135.5 347.5,131.5 348.5,132.5 348.5,136.5 349.5,136.5 350.5,132.5 350.5,131.5 351.5,133.5 351.5,137.5 352.5,135.5 352.5,133.5 353.5,131.5 353.5,136.5 354.5,135.5 354.5,131.5 355.5,131.5 355.5,135.5 356.5,135.5 357.5,130.5 357.5,134.5 358.5,137.5 358.5,134.5 358.5,136.5 359.5,131.5 359.5,134.5 360.5,133.5 360.5,135.5 360.5,131.5 361.5,135.5 361.5,133.5 361.5,137.5 362.5,134.5 362.5,131.5 363.5,130.5 363.5,132.5 363.5,137.5 364.5,136.5 364.5,131.5 364.5,133.5 365.5,131.5 365.5,137.5 366.5,130.5 366.5,134.5 366.5,133.5 367.5,135.5 367.5,131.5 368.5,134.5 368.5,135.5 369.5,133.5 369.5,132.5 369.5,135.5 370.5,133.5 371.5,134.5 371.5,133.5 371.5,135.5 372.5,134.5 372.5,133.5 372.5,132.5 373.5,135.5 373.5,132.5 374.5,131.5 374.5,134.5 374.5,132.5 375.5,131.5 375.5,133.5 376.5,133.5 376.5,132.5 377.5,131.5 377.5,135.5 377.5,136.5 378.5,132.5 378.5,131.5 379.5,136.5 379.5,132.5 379.5,135.5 380.5,137.5 380.5,133.5 380.5,134.5 381.5,135.5 382.5,133.5 382.5,136.5 382.5,134.5 383.5,132.5 383.5,136.5 384.5,136.5 384.5,135.5 385.5,134.5 385.5,136.5 385.5,138.5 386.5,131.5 386.5,132.5 387.5,134.5 387.5,132.5 388.5,131.5 388.5,134.5 388.5,132.5 389.5,134.5 389.5,132.5 390.5,137.5 390.5,133.5 390.5,136.5 391.5,136.5 391.5,134.5 391.5,138.5 392.5,138.5 392.5,137.5 393.5,136.5 393.5,135.5 393.5,133.5 394.5,135.5 394.5,138.5 395.5,139.5 395.5,135.5 395.5,133.5 396.5,134.5 396.5,132.5 397.5,136.5 397.5,135.5 398.5,133.5 398.5,136.5 399.5,137.5 399.5,138.5 399.5,136.5 400.5,138.5 400.5,135.5 401.5,137.5 401.5,134.5 402.5,136.5 402.5,137.5 403.5,138.5 403.5,134.5 404.5,134.5 405.5,136.5 405.5,133.5 406.5,135.5 406.5,139.5 407.5,139.5 407.5,136.5 407.5,137.5 408.5,135.5 408.5,138.5 409.5,139.5 410.5,136.5 410.5,139.5 411.5,137.5 411.5,138.5 412.5,136.5 412.5,134.5 413.5,136.5 414.5,138.5 414.5,134.5 415.5,136.5 415.5,139.5 415.5,134.5 416.5,136.5 416.5,138.5 417.5,134.5 417.5,135.5 417.5,136.5 418.5,139.5 418.5,138.5 419.5,136.5 419.5,135.5 420.5,139.5 420.5,135.5 421.5,138.5 421.5,139.5 421.5,135.5 422.5,135.5 422.5,138.5 423.5,137.5 423.5,141.5 423.5,134.5 424.5,132.5 424.5,134.5 425.5,133.5 425.5,137.5 425.5,135.5 426.5,137.5 426.5,135.5 427.5,135.5 427.5,133.5 428.5,136.5 428.5,135.5 429.5,137.5 429.5,136.5 429.5,135.5 430.5,139.5 431.5,132.5 431.5,134.5 432.5,135.5 432.5,136.5 433.5,137.5 433.5,132.5 433.5,134.5 434.5,136.5 434.5,131.5 435.5,132.5 435.5,134.5 436.5,135.5 436.5,134.5 437.5,133.5 437.5,135.5 437.5,132.5 438.5,133.5 439.5,132.5 439.5,134.5 439.5,137.5 440.5,134.5 440.5,132.5 440.5,133.5 441.5,132.5 441.5,134.5 442.5,132.5 442.5,133.5 443.5,131.5 443.5,132.5 444.5,131.5 444.5,135.5 444.5,130.5 445.5,132.5 445.5,134.5 446.5,135.5 245.5,130.5 338.5,129.5 210.5,127.5 192.5,131.5 296.5,130.5 257.5,130.5 250.5,130.5 223.5,127.5 278.5,126.5 277.5,128.5 272.5,127.5 322.5,127.5 204.5,128.5 209.5,126.5 272.5,131.5 296.5,129.5 225.5,129.5 259.5,130.5 317.5,131.5 344.5,128.5 212.5,130.5 338.5,130.5 265.5,129.5 212.5,128.5 312.5,128.5 235.5,127.5 337.5,128.5 269.5,126.5 328.5,126.5 296.5,127.5 205.5,129.5 340.5,128.5 326.5,129.5 215.5,128.5 208.5,131.5 288.5,131.5 213.5,127.5 249.5,128.5 240.5,130.5 217.5,127.5 238.5,129.5 309.5,130.5 214.5,126.5 275.5,127.5 279.5,130.5 218.5,130.5 286.5,129.5 260.5,129.5 335.5,131.5 277.5,129.5 329.5,127.5 315.5,131.5 254.5,126.5 275.5,129.5 304.5,129.5 304.5,140.5 298.5,138.5 310.5,140.5 303.5,137.5 317.5,139.5 312.5,140.5 317.5,138.5 300.5,140.5 308.5,139.5 313.5,138.5 248.5,140.5 237.5,142.5 243.5,140.5 212.5,145.5 239.5,149.5 233.5,139.5 231.5,144.5 217.5,142.5 248.5,143.5 191.5,145.5 206.5,142.5 195.5,142.5 219.5,139.5 224.5,150.5 230.5,140.5 209.5,146.5 233.5,145.5 214.5,140.5 242.5,144.5 232.5,139.5 226.5,144.5 249.5,145.5 242.5,150.5 242.5,140.5 218.5,148.5 206.5,144.5 229.5,144.5 212.5,142.5 239.5,141.5 206.5,149.5 190.5,144.5 224.5,141.5 193.5,144.5 240.5,139.5 214.5,146.5 202.5,140.5 235.5,149.5 202.5,149.5 196.5,143.5 217.5,150.5 233.5,150.5 225.5,144.5 201.5,143.5 207.5,151.5 212.5,139.5 218.5,146.5 200.5,139.5 213.5,142.5 248.5,147.5 226.5,147.5 227.5,145.5 222.5,143.5 243.5,141.5 211.5,151.5 217.5,146.5 243.5,139.5 244.5,145.5 249.5,141.5 205.5,141.5 194.5,145.5 227.5,151.5 192.5,144.5 204.5,144.5 196.5,141.5 232.5,140.5 201.5,145.5 234.5,141.5 218.5,151.5 219.5,148.5 235.5,142.5 200.5,145.5 234.5,145.5 207.5,149.5 195.5,149.5 218.5,145.5 241.5,145.5 244.5,141.5 204.5,149.5 227.5,139.5 214.5,160.5 233.5,154.5 234.5,172.5 214.5,158.5 233.5,147.5 217.5,164.5 217.5,169.5 239.5,157.5 249.5,150.5 217.5,170.5 232.5,165.5 214.5,162.5 219.5,174.5 242.5,168.5 236.5,167.5 237.5,154.5 244.5,160.5 250.5,154.5 241.5,148.5 247.5,162.5 224.5,153.5 217.5,147.5 223.5,158.5 239.5,168.5 227.5,168.5 240.5,172.5 236.5,148.5 236.5,146.5 243.5,158.5 238.5,150.5 232.5,174.5 235.5,168.5 214.5,176.5 236.5,168.5 217.5,148.5 223.5,175.5 233.5,165.5 231.5,173.5 242.5,176.5 247.5,176.5 228.5,165.5 249.5,154.5 235.5,154.5 248.5,150.5 225.5,165.5 244.5,149.5 228.5,156.5 216.5,174.5 221.5,159.5 228.5,146.5 234.5,153.5 218.5,166.5 235.5,160.5 226.5,150.5 243.5,163.5 232.5,175.5 232.5,194.5 227.5,177.5 221.5,179.5 223.5,179.5 219.5,197.5 234.5,192.5 224.5,197.5 223.5,192.5 222.5,196.5 230.5,174.5 220.5,176.5 233.5,177.5 236.5,202.5 218.5,176.5 226.5,198.5 235.5,203.5 234.5,206.5 273.5,115.5 278.5,104.5 286.5,106.5 288.5,109.5 280.5,108.5 274.5,113.5 279.5,112.5 266.5,107.5 270.5,117.5 276.5,110.5 290.5,115.5 285.5,106.5 273.5,118.5 285.5,118.5 265.5,109.5 289.5,116.5 267.5,115.5 278.5,109.5 281.5,117.5 289.5,114.5 278.5,108.5 276.5,116.5 266.5,115.5 279.5,111.5 265.5,116.5 276.5,104.5 314.5,118.5 311.5,118.5 303.5,117.5 316.5,114.5 316.5,113.5 314.5,112.5 312.5,116.5 307.5,111.5 318.5,114.5 304.5,110.5 307.5,116.5 304.5,104.5 310.5,109.5 317.5,112.5 267.5,107.5 270.5,112.5 331.5,99.5 336.5,143.5 340.5,145.5 342.5,149.5 336.5,140.5 329.5,140.5 331.5,147.5 335.5,142.5 333.5,138.5 331.5,146.5 332.5,149.5 345.5,145.5 334.5,140.5 343.5,138.5 341.5,148.5 337.5,147.5 328.5,143.5 341.5,140.5 325.5,148.5 334.5,139.5 342.5,140.5 329.5,144.5 345.5,139.5 326.5,148.5 330.5,146.5 345.5,143.5 341.5,144.5 333.5,139.5 331.5,140.5 339.5,138.5 340.5,142.5 324.5,138.5 325.5,138.5 329.5,141.5 329.5,148.5 324.5,139.5 335.5,143.5 342.5,139.5 340.5,140.5 345.5,147.5 324.5,143.5 325.5,149.5 333.5,155.5 332.5,158.5 347.5,140.5 346.5,138.5 347.5,144.5 346.5,142.5 348.5,139.5 352.5,145.5 349.5,139.5 345.5,137.5 346.5,146.5 349.5,148.5 346.5,137.5 347.5,145.5 346.5,149.5 352.5,143.5 351.5,142.5 346.5,148.5 344.5,140.5 345.5,142.5 345.5,141.5 369.5,139.5 372.5,136.5 366.5,149.5 376.5,142.5 376.5,138.5 373.5,148.5 382.5,138.5 382.5,149.5 364.5,143.5 362.5,142.5 364.5,149.5 378.5,148.5 369.5,146.5 365.5,144.5 381.5,143.5 374.5,141.5 381.5,139.5 380.5,138.5 382.5,146.5 379.5,151.5 378.5,142.5 375.5,138.5 370.5,147.5 371.5,138.5 367.5,148.5 373.5,136.5 364.5,150.5 373.5,150.5 368.5,136.5 383.5,150.5 366.5,144.5 363.5,146.5 382.5,150.5 383.5,142.5 369.5,136.5 379.5,142.5 372.5,143.5 371.5,136.5 372.5,145.5 367.5,150.5 378.5,140.5 368.5,145.5 380.5,135.5 376.5,137.5 370.5,136.5 369.5,149.5 371.5,147.5 380.5,140.5 374.5,136.5 369.5,137.5 373.5,146.5 375.5,148.5 381.5,149.5 368.5,147.5 364.5,146.5 379.5,150.5 383.5,140.5 365.5,141.5 379.5,138.5 363.5,144.5 293.5,178.5 291.5,144.5 292.5,149.5 291.5,145.5 292.5,180.5 292.5,143.5 290.5,154.5 292.5,148.5 291.5,163.5 290.5,169.5 293.5,149.5 291.5,185.5 289.5,170.5 291.5,140.5 293.5,182.5 291.5,167.5 292.5,150.5 291.5,174.5 291.5,160.5 290.5,141.5 292.5,167.5 293.5,164.5 291.5,169.5 292.5,188.5 293.5,140.5 291.5,154.5 365.5,165.5 366.5,183.5 367.5,143.5 365.5,151.5 364.5,163.5 365.5,162.5 364.5,179.5 365.5,163.5 367.5,181.5 366.5,152.5 366.5,150.5 367.5,138.5 367.5,182.5 367.5,154.5 365.5,183.5 365.5,170.5 364.5,157.5 366.5,176.5 366.5,164.5 366.5,156.5 367.5,158.5 366.5,169.5 365.5,181.5 365.5,169.5 368.5,181.5 368.5,171.5 367.5,190.5 379.5,188.5 380.5,207.5 377.5,146.5 380.5,186.5 379.5,180.5 378.5,186.5 377.5,162.5 381.5,187.5 382.5,185.5 378.5,196.5 380.5,202.5 380.5,204.5 377.5,191.5 379.5,184.5 380.5,184.5 378.5,145.5 381.5,194.5 379.5,169.5 380.5,189.5 378.5,201.5 381.5,152.5 381.5,157.5 382.5,158.5 382.5,153.5 383.5,157.5 383.5,156.5 384.5,154.5 385.5,156.5 385.5,155.5 385.5,154.5 386.5,155.5 386.5,156.5 387.5,156.5 387.5,160.5 388.5,154.5 388.5,155.5 389.5,155.5 389.5,160.5 390.5,154.5 390.5,156.5 390.5,161.5 391.5,155.5 391.5,156.5 392.5,157.5 392.5,161.5 393.5,159.5 394.5,161.5 394.5,162.5 394.5,158.5 395.5,162.5 395.5,158.5 396.5,160.5 396.5,158.5 397.5,157.5 397.5,160.5 398.5,159.5 398.5,156.5 399.5,162.5 399.5,156.5 399.5,163.5 400.5,160.5 400.5,161.5 401.5,159.5 401.5,161.5 402.5,162.5 402.5,158.5 403.5,160.5 403.5,161.5 403.5,162.5 404.5,163.5 404.5,160.5 405.5,162.5 406.5,163.5 406.5,158.5 407.5,163.5 407.5,158.5 408.5,161.5 408.5,164.5 408.5,165.5 409.5,161.5 409.5,159.5 410.5,158.5 410.5,162.5 411.5,163.5 411.5,164.5 412.5,160.5 412.5,162.5 412.5,161.5 413.5,162.5 413.5,164.5 414.5,162.5 414.5,160.5 415.5,161.5 416.5,164.5 416.5,166.5 417.5,166.5 417.5,161.5 418.5,164.5 418.5,166.5 419.5,164.5 419.5,161.5 420.5,164.5 420.5,165.5 421.5,166.5 421.5,164.5 422.5,161.5 422.5,167.5 423.5,165.5 423.5,162.5 424.5,164.5 424.5,165.5 425.5,164.5 425.5,167.5 426.5,166.5 426.5,162.5 426.5,163.5 427.5,168.5 428.5,167.5 428.5,162.5 429.5,162.5 429.5,166.5 430.5,162.5 430.5,167.5 430.5,169.5 431.5,169.5 431.5,168.5 432.5,169.5 432.5,168.5 433.5,167.5 434.5,170.5 434.5,168.5 435.5,163.5 435.5,167.5 435.5,166.5 436.5,168.5 436.5,167.5 437.5,167.5 438.5,168.5 438.5,171.5 439.5,169.5 439.5,167.5 439.5,168.5 440.5,168.5 440.5,167.5 441.5,167.5 449.5,169.5 441.5,177.5 447.5,168.5 443.5,183.5 450.5,183.5 444.5,178.5 445.5,169.5 444.5,175.5 446.5,172.5 442.5,187.5 448.5,190.5 445.5,180.5 443.5,186.5 442.5,179.5 448.5,179.5 443.5,170.5 448.5,175.5 451.5,189.5 445.5,171.5 444.5,167.5 447.5,174.5 445.5,184.5 442.5,185.5 445.5,175.5 441.5,174.5 447.5,179.5 449.5,183.5 448.5,181.5 447.5,180.5 444.5,189.5 446.5,178.5 445.5,187.5 444.5,186.5 443.5,187.5 447.5,167.5 445.5,185.5 447.5,187.5 445.5,181.5 445.5,190.5 449.5,189.5 443.5,185.5 445.5,191.5 449.5,172.5 445.5,186.5 444.5,180.5 457.5,166.5 453.5,140.5 454.5,166.5 447.5,152.5 458.5,169.5 452.5,158.5 452.5,151.5 447.5,160.5 460.5,165.5 451.5,160.5 447.5,144.5 459.5,150.5 462.5,168.5 455.5,143.5 462.5,158.5 449.5,145.5 448.5,149.5 448.5,142.5 451.5,159.5 449.5,167.5 459.5,166.5 452.5,147.5 454.5,145.5 450.5,141.5 450.5,157.5 457.5,160.5 451.5,148.5 459.5,152.5 461.5,170.5 458.5,164.5 447.5,148.5 452.5,164.5 459.5,141.5 449.5,141.5 449.5,143.5 458.5,158.5 460.5,156.5 451.5,145.5 458.5,149.5 447.5,140.5 450.5,166.5 457.5,142.5 458.5,159.5 460.5,148.5 456.5,145.5 458.5,144.5 460.5,152.5 450.5,143.5 449.5,158.5 461.5,146.5 450.5,142.5 457.5,154.5 452.5,150.5 461.5,141.5 459.5,155.5 452.5,153.5 450.5,161.5 456.5,164.5 447.5,150.5 460.5,145.5 454.5,147.5 452.5,168.5 462.5,140.5 450.5,160.5 448.5,171.5 448.5,143.5 453.5,172.5 448.5,169.5 446.5,149.5 458.5,166.5 457.5,124.5 460.5,121.5 460.5,163.5 458.5,124.5 461.5,169.5 460.5,137.5 459.5,158.5 460.5,133.5 462.5,161.5 459.5,129.5 462.5,151.5 462.5,136.5 459.5,127.5 457.5,155.5 462.5,163.5 462.5,141.5 461.5,132.5 460.5,170.5 461.5,140.5 458.5,163.5 461.5,135.5 463.5,131.5 459.5,121.5 461.5,156.5 460.5,149.5 461.5,126.5 458.5,160.5 462.5,129.5 459.5,164.5 461.5,168.5 460.5,134.5 459.5,142.5 460.5,140.5 458.5,131.5 459.5,153.5 462.5,150.5 458.5,130.5 463.5,158.5 459.5,143.5 461.5,166.5 462.5,155.5 463.5,141.5 461.5,160.5 457.5,149.5 458.5,162.5 461.5,148.5 460.5,166.5 459.5,154.5 459.5,148.5 461.5,145.5 462.5,171.5 463.5,125.5 461.5,152.5 460.5,159.5 462.5,152.5 458.5,125.5 462.5,138.5 457.5,167.5 459.5,145.5 461.5,131.5 462.5,190.5 383.5,88.5 383.5,91.5 384.5,95.5 383.5,105.5 384.5,108.5 385.5,111.5 376.5,117.5 380.5,120.5 385.5,118.5 383.5,114.5 382.5,122.5 190.5,87.5 218.5,91.5 221.5,100.5 222.5,103.5 228.5,98.5 232.5,93.5 233.5,100.5 235.5,99.5 240.5,95.5 234.5,111.5 207.5,113.5 222.5,102.5 144.5,113.5 144.5,129.5 144.5,132.5 143.5,137.5 139.5,147.5 142.5,144.5 146.5,146.5 152.5,144.5 150.5,145.5 144.5,159.5 140.5,163.5 139.5,153.5 146.5,165.5 139.5,165.5 148.5,155.5 146.5,156.5 147.5,161.5 142.5,163.5 139.5,162.5 140.5,156.5 142.5,165.5 145.5,157.5 146.5,203.5 141.5,171.5 144.5,182.5 146.5,192.5 146.5,188.5 140.5,186.5 145.5,199.5 140.5,182.5 144.5,198.5 140.5,190.5 147.5,209.5 140.5,188.5 142.5,203.5 136.5,199.5 143.5,182.5 146.5,173.5 141.5,194.5 138.5,192.5 141.5,195.5 142.5,186.5 136.5,175.5 146.5,202.5 137.5,192.5 136.5,182.5 151.5,208.5 150.5,181.5 153.5,187.5 154.5,187.5 150.5,210.5 152.5,210.5 153.5,169.5 155.5,169.5 170.5,113.5 171.5,114.5 171.5,122.5 173.5,124.5 168.5,128.5 169.5,173.5 175.5,172.5 174.5,179.5 176.5,183.5 171.5,205.5 170.5,182.5 170.5,163.5 166.5,144.5 168.5,129.5 169.5,144.5 172.5,206.5 168.5,169.5 178.5,136.5 167.5,198.5 172.5,135.5 176.5,158.5 166.5,162.5 173.5,182.5 172.5,150.5 170.5,132.5 170.5,130.5 168.5,164.5 171.5,151.5 172.5,169.5 173.5,126.5 165.5,129.5 168.5,202.5 170.5,139.5 173.5,198.5 175.5,149.5 175.5,148.5 174.5,142.5 169.5,168.5 177.5,149.5 174.5,150.5 168.5,161.5 174.5,159.5 174.5,146.5 166.5,174.5 172.5,196.5 176.5,157.5 165.5,191.5 172.5,173.5 178.5,206.5 177.5,209.5 171.5,166.5 173.5,186.5 178.5,159.5 176.5,211.5 175.5,191.5 173.5,153.5 169.5,180.5 173.5,200.5 171.5,133.5 172.5,168.5 176.5,171.5 175.5,183.5 168.5,173.5 168.5,180.5 172.5,183.5 171.5,175.5 170.5,183.5 175.5,171.5 175.5,177.5 171.5,181.5 177.5,176.5 182.5,123.5 184.5,125.5 190.5,117.5 189.5,209.5 187.5,132.5 183.5,194.5 191.5,180.5 192.5,129.5 182.5,209.5 188.5,208.5 185.5,132.5 183.5,197.5 181.5,170.5 191.5,201.5 183.5,169.5 191.5,176.5 190.5,185.5 192.5,143.5 190.5,132.5 180.5,165.5 188.5,188.5 189.5,143.5 179.5,191.5 187.5,181.5 188.5,159.5 189.5,210.5 181.5,205.5 182.5,204.5 181.5,140.5 183.5,183.5 191.5,199.5 181.5,137.5 180.5,130.5 188.5,209.5 184.5,133.5 182.5,188.5 180.5,191.5 186.5,211.5 180.5,206.5 188.5,195.5 191.5,200.5 192.5,165.5 190.5,174.5 181.5,142.5 192.5,140.5 182.5,193.5 182.5,162.5 184.5,132.5 183.5,132.5 187.5,211.5 203.5,181.5 206.5,203.5 208.5,204.5 191.5,194.5 204.5,188.5 209.5,179.5 203.5,184.5 201.5,191.5 205.5,203.5 212.5,188.5 204.5,205.5 196.5,162.5 202.5,199.5 194.5,198.5 210.5,198.5 212.5,187.5 193.5,189.5 212.5,160.5 207.5,184.5 190.5,166.5 194.5,184.5 195.5,197.5 209.5,191.5 200.5,201.5 199.5,179.5" fill="none" stroke="none" style="marker:url(#xg)"/>
<polyline points="184.5,123.5 185.5,124.5 185.5,121.5 186.5,127.5 186.5,122.5 187.5,124.5 188.5,122.5 188.5,125.5 189.5,122.5 190.5,124.5 190.5,123.5 191.5,124.5 191.5,121.5 192.5,124.5 192.5,122.5 193.5,125.5 194.5,120.5 194.5,124.5 195.5,121.5 195.5,125.5 196.5,120.5 196.5,125.5 197.5,121.5 198.5,125.5 198.5,124.5 199.5,121.5 199.5,127.5 200.5,123.5 201.5,124.5 201.5,125.5 202.5,124.5 203.5,123.5 203.5,125.5 204.5,123.5 204.5,121.5 205.5,122.5 205.5,125.5 206.5,122.5 206.5,123.5 207.5,124.5 207.5,122.5 208.5,122.5 208.5,123.5 209.5,122.5 210.5,126.5 211.5,122.5 211.5,121.5 212.5,123.5 213.5,121.5 214.5,121.5 214.5,125.5 215.5,121.5 215.5,123.5 216.5,119.5 216.5,123.5 217.5,120.5 217.5,125.5 218.5,125.5 218.5,121.5 219.5,124.5 220.5,121.5 220.5,124.5 221.5,124.5 222.5,126.5 222.5,123.5 223.5,123.5 224.5,121.5 224.5,126.5 225.5,125.5 225.5,124.5 226.5,126.5 226.5,125.5 227.5,123.5 227.5,125.5 228.5,120.5 228.5,122.5 229.5,121.5 229.5,120.5 230.5,127.5 230.5,123.5 231.5,124.5 231.5,126.5 232.5,123.5 232.5,125.5 233.5,126.5 233.5,120.5 234.5,121.5 234.5,125.5 235.5,121.5 235.5,125.5 236.5,124.5 237.5,125.5 237.5,121.5 238.5,123.5 238.5,126.5 239.5,119.5 239.5,124.5 240.5,123.5 240.5,121.5 241.5,123.5 241.5,121.5 242.5,121.5 242.5,123.5 243.5,123.5 243.5,121.5 244.5,124.5 244.5,122.5 245.5,121.5 245.5,125.5 246.5,126.5 246.5,123.5 247.5,123.5 248.5,125.5 248.5,121.5 249.5,126.5 250.5,123.5 250.5,122.5 251.5,125.5 251.5,121.5 252.5,123.5 252.5,124.5 253.5,126.5 253.5,120.5 254.5,122.5 254.5,125.5 255.5,123.5 255.5,124.5 256.5,124.5 257.5,125.5 258.5,124.5 258.5,123.5 259.5,122.5 259.5,127.5 260.5,122.5 260.5,120.5 261.5,120.5 261.5,122.5 262.5,124.5 263.5,121.5 263.5,119.5 264.5,122.5 264.5,126.5 265.5,120.5 265.5,121.5 266.5,122.5 267.5,125.5 267.5,121.5 268.5,124.5 268.5,121.5 269.5,123.5 269.5,122.5 270.5,127.5 270.5,126.5 271.5,125.5 271.5,124.5 272.5,120.5 272.5,125.5 273.5,121.5 273.5,120.5 274.5,124.5 274.5,121.5 275.5,122.5 276.5,124.5 276.5,121.5 277.5,122.5 277.5,124.5 278.5,123.5 278.5,122.5 279.5,125.5 279.5,124.5 280.5,121.5 280.5,124.5 281.5,123.5 281.5,125.5 282.5,125.5 282.5,119.5 283.5,126.5 283.5,125.5 284.5,121.5 284.5,122.5 285.5,125.5 285.5,120.5 286.5,124.5 286.5,125.5 287.5,122.5 287.5,124.5 288.5,122.5 289.5,125.5 289.5,123.5 290.5,120.5 290.5,123.5 291.5,121.5 291.5,122.5 292.5,126.5 292.5,121.5 293.5,125.5 293.5,124.5 294.5,121.5 295.5,122.5 296.5,122.5 296.5,124.5 297.5,125.5 297.5,121.5 298.5,125.5 298.5,123.5 299.5,122.5 299.5,126.5 300.5,124.5 300.5,126.5 301.5,124.5 302.5,123.5 302.5,127.5 303.5,123.5 303.5,125.5 304.5,120.5 304.5,126.5 305.5,124.5 305.5,123.5 306.5,121.5 306.5,124.5 307.5,123.5 307.5,121.5 308.5,121.5 308.5,125.5 309.5,126.5 309.5,123.5 310.5,126.5 310.5,123.5 311.5,121.5 311.5,123.5 312.5,123.5 312.5,122.5 313.5,121.5 313.5,122.5 314.5,120.5 315.5,126.5 315.5,124.5 316.5,120.5 316.5,124.5 317.5,125.5 318.5,121.5 318.5,122.5 319.5,127.5 319.5,124.5 320.5,122.5 320.5,124.5 321.5,126.5 321.5,124.5 322.5,121.5 323.5,120.5 323.5,124.5 324.5,125.5 324.5,124.5 325.5,121.5 325.5,123.5 326.5,124.5 326.5,123.5 327.5,125.5 328.5,124.5 328.5,120.5 329.5,123.5 329.5,121.5 330.5,125.5 330.5,123.5 331.5,127.5 331.5,123.5 332.5,121.5 332.5,123.5 333.5,123.5 333.5,121.5 334.5,125.5 334.5,124.5 335.5,124.5 335.5,120.5 336.5,122.5 336.5,125.5 337.5,125.5 337.5,124.5 338.5,124.5 338.5,123.5 339.5,124.5 340.5,119.5 341.5,123.5 342.5,125.5 342.5,122.5 343.5,120.5 344.5,121.5 344.5,122.5 345.5,123.5 345.5,121.5 346.5,122.5 346.5,121.5 347.5,118.5 347.5,119.5 348.5,122.5 349.5,122.5 349.5,120.5 350.5,121.5 351.5,123.5 351.5,122.5 352.5,122.5 352.5,121.5 353.5,121.5 354.5,120.5 354.5,122.5 355.5,122.5 355.5,123.5 356.5,120.5 356.5,124.5 357.5,123.5 357.5,119.5 358.5,121.5 358.5,122.5 359.5,122.5 360.5,125.5 360.5,121.5 361.5,120.5 361.5,125.5 362.5,124.5 362.5,123.5 363.5,126.5 363.5,124.5 364.5,125.5 364.5,126.5 365.5,125.5 366.5,126.5 367.5,125.5 367.5,123.5 368.5,124.5 368.5,126.5 369.5,122.5 369.5,126.5 370.5,125.5 370.5,128.5 371.5,124.5 371.5,123.5 372.5,126.5 372.5,128.5 373.5,124.5 373.5,126.5 374.5,129.5 374.5,126.5 375.5,128.5 375.5,127.5 376.5,127.5 376.5,125.5 377.5,124.5 377.5,129.5 378.5,128.5 378.5,127.5 379.5,127.5 380.5,126.5 380.5,132.5 381.5,127.5 381.5,128.5 382.5,130.5 382.5,126.5 383.5,127.5 383.5,126.5 384.5,128.5 384.5,131.5 385.5,126.5 385.5,130.5 386.5,128.5 386.5,132.5 387.5,127.5 387.5,129.5 388.5,132.5 388.5,131.5 389.5,128.5 389.5,132.5 390.5,131.5 391.5,131.5 391.5,130.5 392.5,129.5 393.5,129.5 393.5,130.5 394.5,133.5 394.5,128.5 395.5,130.5 395.5,128.5 396.5,132.5 396.5,130.5 397.5,130.5 398.5,127.5 398.5,133.5 399.5,129.5 399.5,132.5 400.5,129.5 400.5,131.5 401.5,131.5 401.5,130.5 402.5,132.5 402.5,133.5 403.5,133.5 403.5,132.5 404.5,129.5 404.5,132.5 405.5,133.5 406.5,131.5 406.5,133.5 407.5,130.5 407.5,135.5 408.5,131.5 408.5,133.5 409.5,130.5 409.5,131.5 410.5,131.5 410.5,132.5 411.5,131.5 411.5,134.5 412.5,132.5 412.5,134.5 413.5,129.5 413.5,130.5 414.5,132.5 414.5,129.5 415.5,130.5 415.5,131.5 416.5,128.5 416.5,129.5 417.5,132.5 417.5,129.5 418.5,133.5 419.5,131.5 419.5,129.5 420.5,129.5 420.5,132.5 421.5,133.5 421.5,132.5 422.5,129.5 422.5,128.5 423.5,129.5 423.5,132.5 424.5,129.5 424.5,128.5 425.5,130.5 425.5,128.5 426.5,129.5 426.5,130.5 427.5,127.5 427.5,126.5 428.5,130.5 428.5,129.5 429.5,127.5 429.5,128.5 430.5,129.5 431.5,131.5 432.5,129.5 433.5,126.5 434.5,126.5 434.5,130.5 435.5,128.5 435.5,129.5 436.5,129.5 436.5,124.5 437.5,128.5 437.5,126.5 438.5,130.5 438.5,126.5 439.5,129.5 439.5,130.5 440.5,127.5 440.5,126.5 441.5,127.5 441.5,126.5 442.5,129.5 442.5,128.5 443.5,124.5 443.5,125.5 444.5,129.5 445.5,123.5 445.5,126.5 446.5,128.5 447.5,125.5 447.5,127.5 448.5,125.5 448.5,124.5 449.5,124.5 449.5,126.5 450.5,128.5 450.5,124.5 451.5,125.5 451.5,129.5 452.5,124.5 453.5,126.5 453.5,127.5 454.5,124.5 454.5,125.5 455.5,126.5 455.5,127.5 456.5,129.5 456.5,122.5 457.5,129.5 458.5,128.5 458.5,127.5 459.5,128.5 461.5,141.5 463.5,129.5 462.5,130.5 459.5,152.5 462.5,148.5 462.5,152.5 463.5,138.5 461.5,132.5 457.5,127.5 459.5,153.5 463.5,124.5 462.5,147.5 461.5,136.5 459.5,126.5 459.5,142.5 463.5,142.5 460.5,154.5 459.5,155.5 459.5,147.5 462.5,151.5 458.5,138.5 462.5,136.5 461.5,124.5 458.5,126.5 458.5,155.5 462.5,150.5 463.5,140.5 460.5,152.5" fill="none" stroke="none" style="marker:url(#xg)"/>
<polyline points="137.5,202.5 151.5,201.5 151.5,203.5 167.5,206.5 299.5,206.5 344.5,186.5 347.5,199.5 379.5,191.5 456.5,152.5 455.5,156.5 453.5,162.5 459.5,163.5 449.5,166.5 451.5,167.5 454.5,166.5 446.5,170.5 448.5,182.5 444.5,187.5 446.5,189.5 439.5,191.5 461.5,178.5" fill="none" stroke="none" style="marker:url(#pr)"/>
<polyline points="144.5,147.5 137.5,187.5 142.5,185.5 153.5,208.5 167.5,152.5 173.5,154.5 169.5,170.5 171.5,187.5 183.5,160.5 184.5,177.5 180.5,184.5 195.5,208.5 199.5,210.5 231.5,161.5 232.5,161.5 241.5,171.5 243.5,179.5 194.5,176.5 185.5,176.5 223.5,181.5 224.5,185.5 238.5,192.5 248.5,196.5 218.5,203.5 210.5,206.5 213.5,209.5 265.5,206.5 254.5,209.5 273.5,154.5 274.5,193.5 274.5,154.5 319.5,165.5 322.5,173.5 304.5,177.5 302.5,180.5 329.5,180.5 297.5,186.5 317.5,188.5 308.5,191.5 313.5,193.5 328.5,188.5 286.5,192.5 291.5,200.5 292.5,200.5 310.5,199.5 277.5,202.5 324.5,203.5 345.5,209.5 351.5,201.5 395.5,147.5 382.5,155.5 391.5,157.5 392.5,161.5 429.5,151.5 433.5,150.5 427.5,158.5 421.5,163.5 423.5,166.5 432.5,167.5 380.5,166.5 412.5,169.5 418.5,171.5 406.5,174.5 356.5,182.5 416.5,179.5 409.5,181.5 411.5,183.5 397.5,183.5 401.5,185.5 363.5,185.5 413.5,187.5 404.5,191.5 364.5,192.5 366.5,193.5 360.5,196.5 352.5,200.5 350.5,202.5 382.5,195.5 415.5,195.5 367.5,202.5 371.5,204.5 385.5,205.5 372.5,210.5 399.5,209.5 400.5,210.5 346.5,208.5 446.5,139.5 449.5,143.5 447.5,145.5 451.5,146.5 456.5,139.5 457.5,140.5 444.5,145.5 428.5,152.5 435.5,150.5 440.5,150.5 437.5,152.5 423.5,159.5 426.5,162.5 428.5,160.5 431.5,160.5 420.5,166.5 433.5,167.5 462.5,179.5" fill="none" stroke="none" style="marker:url(#dr)"/>
<polyline points="144.5,134.5 137.5,170.5 142.5,189.5 153.5,168.5 151.5,178.5 167.5,132.5 169.5,137.5 173.5,148.5 166.5,170.5 182.5,143.5 184.5,175.5 181.5,179.5 188.5,199.5 193.5,152.5 200.5,151.5 202.5,156.5 194.5,160.5 198.5,164.5 196.5,169.5 203.5,180.5 204.5,180.5 230.5,141.5 245.5,145.5 236.5,149.5 241.5,151.5 266.5,150.5 223.5,154.5 226.5,157.5 214.5,158.5 215.5,158.5 259.5,156.5 263.5,158.5 251.5,156.5 249.5,160.5 239.5,161.5 240.5,167.5 247.5,164.5 265.5,167.5 210.5,169.5 216.5,171.5 257.5,172.5 258.5,172.5 207.5,176.5 232.5,176.5 221.5,182.5 222.5,182.5 270.5,178.5 272.5,177.5 254.5,197.5 261.5,199.5 275.5,137.5 302.5,144.5 300.5,147.5 306.5,148.5 309.5,151.5 311.5,154.5 310.5,153.5 328.5,150.5 347.5,153.5 351.5,156.5 322.5,155.5 292.5,157.5 301.5,156.5 295.5,160.5 277.5,160.5 315.5,161.5 320.5,161.5 281.5,165.5 286.5,163.5 333.5,164.5 317.5,167.5 342.5,168.5 324.5,171.5 329.5,170.5 279.5,173.5 338.5,172.5 353.5,172.5 292.5,174.5 271.5,177.5 269.5,180.5 335.5,179.5 290.5,183.5 340.5,185.5 341.5,185.5 304.5,186.5 331.5,193.5 337.5,193.5 347.5,193.5 284.5,199.5 288.5,205.5 283.5,209.5 379.5,124.5 395.5,130.5 381.5,138.5 383.5,139.5 428.5,133.5 424.5,137.5 427.5,139.5 430.5,138.5 433.5,140.5 410.5,143.5 421.5,144.5 390.5,146.5 392.5,148.5 398.5,146.5 414.5,148.5 412.5,152.5 396.5,152.5 346.5,153.5 350.5,156.5 361.5,152.5 363.5,155.5 376.5,157.5 379.5,159.5 385.5,156.5 418.5,156.5 417.5,158.5 356.5,159.5 365.5,161.5 403.5,159.5 406.5,160.5 409.5,160.5 355.5,165.5 384.5,165.5 400.5,168.5 367.5,170.5 366.5,174.5 401.5,173.5 388.5,173.5 391.5,176.5 392.5,180.5 358.5,190.5 348.5,193.5 375.5,188.5 374.5,199.5 375.5,199.5 423.5,137.5 425.5,138.5 435.5,134.5 437.5,136.5 436.5,135.5 440.5,131.5 443.5,133.5 445.5,130.5 448.5,128.5 450.5,130.5 453.5,127.5 455.5,128.5 457.5,134.5 458.5,136.5 461.5,170.5 460.5,173.5 413.5,148.5" fill="none" stroke="none" style="marker:url(#dk)"/>
<polyline points="143.5,282.5 145.5,280.5 167.5,292.5 187.5,290.5 194.5,292.5 196.5,287.5 198.5,286.5 200.5,284.5 202.5,286.5 204.5,286.5 206.5,286.5 208.5,287.5 210.5,285.5 212.5,283.5 214.5,289.5 216.5,290.5 218.5,292.5 220.5,294.5 222.5,291.5 224.5,292.5 226.5,290.5 228.5,289.5 230.5,288.5 232.5,287.5 234.5,287.5 236.5,291.5 238.5,296.5 240.5,294.5 242.5,292.5 244.5,291.5 246.5,290.5 248.5,289.5 250.5,291.5 252.5,290.5 254.5,292.5 256.5,290.5 258.5,291.5 260.5,289.5 262.5,289.5 264.5,289.5 266.5,291.5 268.5,293.5 270.5,293.5 272.5,291.5 274.5,289.5 276.5,289.5 278.5,291.5 280.5,291.5 282.5,291.5 284.5,289.5 286.5,292.5 288.5,295.5 290.5,295.5 292.5,296.5 294.5,295.5 296.5,295.5 298.5,295.5 300.5,295.5 302.5,295.5 304.5,295.5 306.5,289.5 308.5,290.5 310.5,289.5 312.5,289.5 314.5,291.5 316.5,292.5 318.5,291.5 320.5,288.5 322.5,290.5 324.5,291.5 326.5,288.5 328.5,290.5 330.5,288.5 332.5,288.5 334.5,292.5 336.5,290.5 338.5,292.5 340.5,288.5 342.5,291.5 344.5,289.5 346.5,288.5 348.5,289.5 350.5,291.5 352.5,289.5 354.5,289.5 356.5,290.5 358.5,290.5 360.5,291.5 362.5,290.5 372.5,295.5 375.5,298.5 368.5,293.5 380.5,296.5 385.5,293.5 390.5,296.5 396.5,296.5 398.5,292.5 400.5,292.5 402.5,293.5 404.5,295.5 406.5,295.5 408.5,296.5 410.5,293.5 412.5,297.5 414.5,295.5 416.5,293.5 418.5,294.5 420.5,293.5 422.5,295.5 424.5,297.5 426.5,292.5 428.5,295.5 430.5,295.5 432.5,295.5 434.5,298.5 436.5,296.5 438.5,296.5 440.5,298.5 442.5,296.5 444.5,295.5" fill="none" stroke="none" style="marker:url(#db)"/>
<polyline points="193.5,319.5 195.5,319.5 197.5,320.5 199.5,319.5 201.5,320.5 202.5,319.5 204.5,320.5 206.5,321.5 208.5,320.5 210.5,321.5 211.5,320.5 213.5,319.5 215.5,320.5 217.5,321.5 219.5,320.5 220.5,321.5 222.5,321.5 224.5,321.5 226.5,320.5 228.5,320.5 229.5,321.5 231.5,320.5 233.5,321.5 235.5,321.5 237.5,322.5 238.5,320.5 240.5,321.5 242.5,321.5 244.5,320.5 246.5,321.5 247.5,321.5 249.5,320.5 251.5,321.5 253.5,321.5 255.5,322.5 256.5,320.5 258.5,322.5 260.5,321.5 262.5,322.5 264.5,320.5 265.5,320.5 267.5,321.5 269.5,322.5 271.5,320.5 273.5,321.5 274.5,321.5 276.5,321.5 278.5,321.5 280.5,320.5 282.5,321.5 283.5,320.5 285.5,322.5 287.5,322.5 289.5,320.5 291.5,322.5 292.5,321.5 294.5,320.5 296.5,321.5 298.5,323.5 300.5,321.5 301.5,321.5 303.5,321.5 305.5,322.5 307.5,323.5 309.5,321.5 310.5,323.5 312.5,320.5 314.5,320.5 316.5,320.5 318.5,323.5 319.5,321.5 321.5,323.5 323.5,320.5 325.5,322.5 327.5,322.5 328.5,321.5 330.5,323.5 332.5,322.5 334.5,321.5 336.5,322.5 337.5,319.5 339.5,320.5 341.5,320.5 343.5,320.5 345.5,320.5 346.5,319.5 348.5,320.5 350.5,321.5 352.5,320.5 354.5,321.5 355.5,320.5 357.5,322.5 359.5,321.5 361.5,320.5 363.5,322.5 364.5,324.5 366.5,324.5 368.5,324.5 370.5,323.5 372.5,324.5 373.5,324.5 375.5,324.5 377.5,324.5 379.5,323.5 381.5,323.5 382.5,323.5 384.5,323.5 386.5,324.5 388.5,322.5 390.5,324.5 391.5,323.5 393.5,322.5 395.5,322.5 397.5,323.5 399.5,325.5 400.5,322.5 402.5,323.5 404.5,324.5 406.5,323.5 408.5,324.5 409.5,324.5 411.5,323.5 413.5,321.5 415.5,323.5 417.5,324.5 418.5,322.5 420.5,322.5 422.5,321.5 424.5,323.5 426.5,323.5 427.5,322.5 429.5,323.5 431.5,323.5 433.5,324.5 435.5,322.5 436.5,323.5 438.5,324.5 440.5,324.5 442.5,324.5 138.5,319.5 137.5,332.5 153.5,319.5 166.5,322.5 166.5,330.5 290.5,333.5 331.5,328.5" fill="none" stroke="none" style="marker:url(#pb)"/>
<polyline points="190.5,306.5 190.5,308.5 191.5,308.5 192.5,305.5 192.5,308.5 192.5,307.5 193.5,306.5 194.5,306.5 194.5,307.5 195.5,307.5 196.5,308.5 196.5,305.5 196.5,306.5 197.5,306.5 198.5,308.5 198.5,305.5 198.5,307.5 199.5,307.5 200.5,306.5 200.5,307.5 201.5,306.5 202.5,307.5 202.5,308.5 203.5,306.5 204.5,308.5 204.5,306.5 205.5,306.5 206.5,307.5 206.5,308.5 207.5,306.5 208.5,308.5 208.5,307.5 209.5,307.5 210.5,307.5 210.5,306.5 211.5,307.5 212.5,307.5 213.5,307.5 214.5,306.5 214.5,307.5 215.5,306.5 216.5,305.5 216.5,308.5 217.5,306.5 218.5,307.5 219.5,306.5 220.5,307.5 220.5,306.5 221.5,307.5 222.5,306.5 223.5,306.5 224.5,307.5 224.5,306.5 224.5,308.5 225.5,308.5 226.5,308.5 226.5,306.5 227.5,307.5 228.5,307.5 228.5,306.5 229.5,306.5 230.5,307.5 230.5,308.5 231.5,306.5 232.5,306.5 232.5,307.5 232.5,308.5 233.5,307.5 234.5,306.5 234.5,307.5 235.5,306.5 236.5,308.5 236.5,306.5 237.5,307.5 238.5,307.5 238.5,306.5 238.5,308.5 239.5,307.5 240.5,306.5 241.5,306.5 242.5,306.5 242.5,307.5 243.5,307.5 244.5,308.5 244.5,306.5 245.5,306.5 246.5,308.5 246.5,306.5 247.5,306.5 248.5,308.5 248.5,306.5 248.5,307.5 249.5,307.5 250.5,308.5 250.5,307.5 251.5,307.5 252.5,308.5 252.5,306.5 253.5,306.5 254.5,306.5 254.5,307.5 255.5,308.5 256.5,307.5 256.5,308.5 257.5,308.5 258.5,307.5 259.5,307.5 260.5,307.5 260.5,308.5 260.5,306.5 261.5,307.5 262.5,307.5 262.5,308.5 263.5,307.5 264.5,308.5 264.5,307.5 265.5,306.5 266.5,306.5 266.5,307.5 266.5,308.5 267.5,306.5 268.5,308.5 268.5,307.5 269.5,307.5 270.5,307.5 270.5,308.5 271.5,307.5 272.5,307.5 272.5,308.5 273.5,307.5 274.5,308.5 274.5,307.5 275.5,307.5 276.5,307.5 276.5,306.5 277.5,308.5 278.5,308.5 278.5,307.5 279.5,307.5 280.5,308.5 280.5,307.5 281.5,307.5 282.5,308.5 282.5,307.5 283.5,307.5 284.5,307.5 285.5,307.5 286.5,307.5 286.5,308.5 287.5,308.5 288.5,308.5 288.5,307.5 289.5,307.5 290.5,307.5 290.5,309.5 291.5,307.5 292.5,308.5 292.5,307.5 293.5,308.5 294.5,307.5 294.5,308.5 295.5,307.5 296.5,309.5 296.5,307.5 297.5,307.5 298.5,309.5 298.5,307.5 298.5,308.5 299.5,307.5 300.5,309.5 301.5,308.5 302.5,308.5 302.5,309.5 302.5,307.5 303.5,308.5 304.5,308.5 304.5,309.5 305.5,308.5 306.5,308.5 306.5,307.5 307.5,309.5 308.5,308.5 308.5,309.5 309.5,308.5 310.5,309.5 310.5,308.5 311.5,308.5 312.5,309.5 312.5,307.5 312.5,308.5 313.5,309.5 314.5,309.5 314.5,308.5 315.5,308.5 316.5,308.5 316.5,309.5 317.5,308.5 318.5,309.5 318.5,308.5 319.5,309.5 320.5,308.5 320.5,309.5 321.5,308.5 322.5,310.5 322.5,308.5 323.5,309.5 324.5,309.5 324.5,308.5 325.5,309.5 326.5,308.5 326.5,310.5 326.5,309.5 327.5,308.5 328.5,308.5 328.5,309.5 328.5,310.5 329.5,310.5 330.5,308.5 330.5,310.5 331.5,309.5 332.5,308.5 332.5,310.5 333.5,310.5 334.5,310.5 334.5,308.5 334.5,309.5 335.5,310.5 336.5,308.5 336.5,309.5 336.5,310.5 337.5,310.5 338.5,309.5 338.5,310.5 338.5,308.5 339.5,309.5 340.5,309.5 340.5,310.5 341.5,310.5 342.5,310.5 343.5,308.5 344.5,310.5 344.5,309.5 345.5,309.5 346.5,310.5 346.5,309.5 346.5,308.5 347.5,309.5 348.5,310.5 348.5,309.5 349.5,309.5 350.5,309.5 350.5,310.5 350.5,311.5 351.5,310.5 352.5,311.5 353.5,309.5 354.5,312.5 354.5,309.5 354.5,310.5 355.5,311.5 356.5,310.5 356.5,312.5 357.5,312.5 358.5,310.5 358.5,312.5 358.5,309.5 359.5,310.5 360.5,312.5 360.5,311.5 361.5,310.5 362.5,311.5 362.5,310.5 362.5,313.5 363.5,313.5 364.5,310.5 364.5,311.5 364.5,312.5 365.5,311.5 366.5,310.5 366.5,312.5 366.5,311.5 367.5,309.5 368.5,310.5 368.5,312.5 369.5,310.5 370.5,311.5 370.5,312.5 371.5,310.5 372.5,312.5 372.5,310.5 373.5,310.5 374.5,311.5 374.5,310.5 375.5,311.5 376.5,313.5 377.5,310.5 378.5,312.5 378.5,310.5 378.5,311.5 379.5,312.5 380.5,312.5 380.5,313.5 380.5,310.5 381.5,313.5 382.5,312.5 382.5,311.5 383.5,313.5 384.5,312.5 384.5,311.5 385.5,312.5 386.5,313.5 386.5,311.5 386.5,309.5 387.5,312.5 388.5,311.5 388.5,312.5 388.5,309.5 389.5,311.5 390.5,310.5 390.5,311.5 391.5,312.5 392.5,313.5 392.5,310.5 393.5,310.5 394.5,311.5 394.5,314.5 395.5,310.5 396.5,314.5 396.5,311.5 397.5,312.5 398.5,310.5 398.5,312.5 399.5,312.5 400.5,310.5 400.5,313.5 400.5,311.5 401.5,310.5 402.5,313.5 402.5,311.5 403.5,309.5 404.5,313.5 404.5,314.5 405.5,312.5 406.5,310.5 406.5,313.5 407.5,312.5 408.5,314.5 408.5,311.5 409.5,314.5 410.5,309.5 410.5,312.5 410.5,310.5 411.5,310.5 412.5,312.5 412.5,310.5 412.5,311.5 413.5,310.5 414.5,314.5 414.5,310.5 415.5,312.5 416.5,310.5 416.5,311.5 416.5,309.5 417.5,313.5 418.5,315.5 418.5,310.5 418.5,311.5 419.5,309.5 420.5,312.5 420.5,315.5 420.5,311.5 421.5,314.5 422.5,311.5 422.5,313.5 422.5,315.5 423.5,309.5 424.5,310.5 424.5,314.5 424.5,315.5 425.5,315.5 426.5,311.5 426.5,315.5 427.5,313.5 428.5,311.5 428.5,310.5 428.5,312.5 429.5,309.5 430.5,316.5 430.5,309.5 430.5,315.5 431.5,311.5 432.5,310.5 432.5,309.5 432.5,317.5 433.5,308.5 434.5,316.5 434.5,317.5 435.5,306.5 436.5,312.5 436.5,318.5 436.5,314.5 437.5,308.5 438.5,311.5 438.5,313.5 438.5,309.5 439.5,319.5 440.5,310.5 440.5,319.5 440.5,320.5 441.5,310.5 442.5,308.5 442.5,306.5 442.5,309.5 443.5,314.5 444.5,321.5 444.5,305.5 444.5,320.5 445.5,316.5 446.5,304.5 446.5,311.5 446.5,316.5 447.5,303.5 448.5,318.5 448.5,311.5 448.5,315.5 449.5,307.5 450.5,306.5 450.5,311.5 450.5,303.5 451.5,310.5 452.5,318.5 452.5,306.5 453.5,314.5 454.5,308.5 454.5,317.5 454.5,307.5 455.5,309.5 456.5,312.5 456.5,307.5 456.5,302.5 457.5,310.5 141.5,326.5 145.5,310.5 145.5,305.5 143.5,309.5 146.5,319.5 140.5,309.5 140.5,308.5 139.5,297.5 150.5,320.5 154.5,318.5 158.5,312.5 152.5,312.5 155.5,308.5 153.5,324.5 175.5,313.5 167.5,290.5 166.5,301.5 171.5,323.5 166.5,300.5 165.5,304.5 170.5,316.5 172.5,314.5 178.5,324.5 184.5,306.5 183.5,312.5 190.5,307.5 187.5,326.5 178.5,305.5 189.5,313.5 190.5,316.5" fill="none" stroke="none" style="marker:url(#pg)"/>
<polyline points="190.5,308.5 190.5,307.5 191.5,307.5 191.5,306.5 191.5,305.5 192.5,306.5 193.5,307.5 193.5,306.5 194.5,307.5 194.5,306.5 195.5,307.5 195.5,306.5 195.5,308.5 196.5,305.5 196.5,306.5 197.5,306.5 197.5,307.5 198.5,306.5 198.5,307.5 198.5,308.5 199.5,308.5 199.5,306.5 200.5,307.5 200.5,308.5 201.5,307.5 201.5,306.5 201.5,308.5 202.5,308.5 202.5,306.5 203.5,308.5 203.5,306.5 203.5,307.5 204.5,306.5 204.5,308.5 204.5,307.5 205.5,306.5 205.5,307.5 206.5,308.5 206.5,306.5 206.5,307.5 207.5,307.5 207.5,306.5 207.5,308.5 208.5,308.5 208.5,306.5 209.5,306.5 209.5,308.5 210.5,307.5 210.5,308.5 210.5,306.5 211.5,308.5 211.5,307.5 212.5,307.5 212.5,308.5 213.5,307.5 213.5,308.5 213.5,306.5 214.5,307.5 214.5,306.5 215.5,308.5 215.5,306.5 216.5,307.5 216.5,305.5 216.5,306.5 217.5,307.5 217.5,308.5 218.5,307.5 218.5,308.5 219.5,306.5 219.5,308.5 219.5,307.5 220.5,306.5 220.5,307.5 221.5,307.5 221.5,306.5 222.5,307.5 222.5,306.5 222.5,308.5 223.5,308.5 223.5,306.5 223.5,307.5 224.5,307.5 224.5,308.5 224.5,306.5 225.5,306.5 225.5,307.5 226.5,306.5 226.5,307.5 226.5,308.5 227.5,306.5 227.5,308.5 228.5,307.5 228.5,306.5 228.5,308.5 229.5,306.5 229.5,308.5 230.5,307.5 230.5,308.5 231.5,306.5 231.5,308.5 231.5,307.5 232.5,306.5 232.5,308.5 233.5,306.5 233.5,308.5 234.5,307.5 234.5,308.5 234.5,306.5 235.5,306.5 235.5,307.5 236.5,307.5 237.5,306.5 237.5,307.5 237.5,308.5 238.5,306.5 238.5,307.5 239.5,307.5 239.5,306.5 240.5,306.5 240.5,308.5 241.5,307.5 241.5,308.5 242.5,308.5 242.5,306.5 243.5,306.5 243.5,307.5 244.5,308.5 244.5,307.5 244.5,306.5 245.5,308.5 245.5,307.5 246.5,306.5 246.5,307.5 247.5,307.5 248.5,308.5 248.5,307.5 248.5,306.5 249.5,306.5 249.5,307.5 250.5,308.5 250.5,307.5 251.5,308.5 251.5,306.5 251.5,307.5 252.5,307.5 252.5,306.5 252.5,308.5 253.5,307.5 254.5,307.5 254.5,308.5 255.5,306.5 255.5,307.5 256.5,307.5 256.5,308.5 257.5,307.5 257.5,308.5 258.5,307.5 258.5,308.5 259.5,308.5 259.5,307.5 260.5,307.5 260.5,308.5 260.5,306.5 261.5,306.5 261.5,307.5 261.5,308.5 262.5,308.5 263.5,307.5 264.5,308.5 264.5,307.5 264.5,306.5 265.5,308.5 265.5,307.5 266.5,306.5 266.5,308.5 267.5,308.5 268.5,307.5 268.5,308.5 269.5,306.5 269.5,307.5 270.5,307.5 270.5,308.5 271.5,308.5 271.5,307.5 272.5,308.5 273.5,307.5 273.5,308.5 274.5,307.5 275.5,307.5 275.5,308.5 276.5,307.5 277.5,307.5 277.5,308.5 278.5,308.5 278.5,307.5 279.5,308.5 279.5,307.5 280.5,307.5 281.5,307.5 281.5,308.5 282.5,307.5 282.5,308.5 283.5,307.5 283.5,308.5 284.5,308.5 284.5,309.5 284.5,307.5 285.5,307.5 285.5,308.5 286.5,308.5 287.5,309.5 287.5,308.5 288.5,309.5 288.5,308.5 289.5,307.5 289.5,309.5 290.5,308.5 290.5,307.5 291.5,307.5 291.5,308.5 292.5,308.5 292.5,309.5 292.5,307.5 293.5,307.5 293.5,309.5 294.5,308.5 294.5,309.5 295.5,309.5 295.5,308.5 295.5,307.5 296.5,308.5 296.5,307.5 297.5,308.5 297.5,309.5 298.5,308.5 298.5,309.5 299.5,309.5 299.5,307.5 300.5,309.5 300.5,308.5 301.5,308.5 301.5,307.5 302.5,308.5 302.5,307.5 303.5,308.5 303.5,309.5 304.5,308.5 305.5,308.5 305.5,307.5 306.5,308.5 306.5,309.5 307.5,309.5 307.5,308.5 308.5,308.5 308.5,309.5 309.5,309.5 309.5,308.5 310.5,309.5 310.5,308.5 311.5,309.5 311.5,307.5 311.5,308.5 312.5,308.5 312.5,309.5 313.5,309.5 313.5,308.5 314.5,307.5 314.5,309.5 315.5,308.5 315.5,307.5 315.5,309.5 316.5,309.5 316.5,308.5 317.5,308.5 317.5,309.5 318.5,308.5 318.5,310.5 319.5,310.5 319.5,309.5 319.5,308.5 320.5,309.5 320.5,310.5 321.5,308.5 321.5,309.5 321.5,310.5 322.5,309.5 322.5,310.5 323.5,309.5 323.5,310.5 324.5,308.5 324.5,309.5 325.5,308.5 325.5,309.5 326.5,308.5 326.5,309.5 327.5,309.5 328.5,308.5 328.5,309.5 328.5,310.5 329.5,309.5 329.5,308.5 330.5,308.5 330.5,309.5 330.5,310.5 331.5,308.5 331.5,309.5 332.5,308.5 332.5,309.5 333.5,309.5 333.5,308.5 333.5,310.5 334.5,309.5 334.5,310.5 335.5,309.5 336.5,308.5 336.5,310.5 336.5,309.5 337.5,309.5 337.5,308.5 338.5,309.5 338.5,308.5 339.5,308.5 339.5,309.5 340.5,309.5 340.5,310.5 341.5,308.5 341.5,310.5 342.5,309.5 342.5,310.5 343.5,310.5 343.5,309.5 343.5,308.5 344.5,309.5 344.5,308.5 345.5,310.5 345.5,309.5 345.5,308.5 346.5,310.5 346.5,309.5 347.5,311.5 347.5,310.5 347.5,309.5 348.5,308.5 348.5,310.5 348.5,309.5 349.5,310.5 349.5,309.5 350.5,309.5 350.5,310.5 350.5,311.5 351.5,311.5 351.5,310.5 352.5,309.5 352.5,310.5 353.5,309.5 353.5,310.5 353.5,311.5 354.5,310.5 354.5,311.5 354.5,309.5 355.5,310.5 355.5,312.5 355.5,311.5 356.5,312.5 356.5,311.5 357.5,311.5 357.5,312.5 357.5,309.5 358.5,311.5 358.5,310.5 359.5,310.5 359.5,312.5 359.5,311.5 360.5,310.5 360.5,311.5 361.5,312.5 361.5,310.5 361.5,309.5 362.5,310.5 362.5,309.5 363.5,311.5 363.5,310.5 363.5,312.5 364.5,311.5 364.5,312.5 364.5,309.5 365.5,309.5 365.5,310.5 366.5,309.5 366.5,313.5 366.5,312.5 367.5,313.5 367.5,311.5 367.5,312.5 368.5,313.5 368.5,310.5 368.5,311.5 369.5,313.5 369.5,312.5 369.5,311.5 370.5,312.5 371.5,311.5 371.5,312.5 372.5,310.5 372.5,311.5 372.5,313.5 373.5,313.5 373.5,312.5 373.5,311.5 374.5,313.5 374.5,309.5 375.5,313.5 375.5,309.5 376.5,310.5 376.5,312.5 377.5,310.5 377.5,311.5 378.5,311.5 378.5,310.5 378.5,312.5 379.5,312.5 380.5,310.5 380.5,311.5 381.5,312.5 381.5,313.5 381.5,309.5 382.5,311.5 382.5,310.5 383.5,312.5 383.5,311.5 383.5,310.5 384.5,310.5 384.5,314.5 384.5,312.5 385.5,310.5 385.5,312.5 386.5,311.5 386.5,312.5 386.5,313.5 387.5,311.5 387.5,312.5 387.5,313.5 388.5,311.5 388.5,310.5 389.5,311.5 389.5,310.5 389.5,313.5 390.5,312.5 390.5,309.5 390.5,311.5 390.5,314.5 391.5,313.5 391.5,310.5 392.5,313.5 392.5,312.5 393.5,310.5 393.5,313.5 394.5,312.5 394.5,313.5 395.5,313.5 395.5,311.5 395.5,309.5 396.5,312.5 396.5,314.5 396.5,313.5 397.5,312.5 397.5,311.5 398.5,312.5 398.5,310.5 399.5,310.5 399.5,314.5 399.5,312.5 400.5,313.5 400.5,310.5 400.5,312.5 401.5,314.5 401.5,313.5 401.5,311.5 402.5,310.5 402.5,313.5 403.5,313.5 403.5,312.5 404.5,314.5 404.5,311.5 405.5,314.5 405.5,309.5 405.5,311.5 406.5,311.5 406.5,309.5 407.5,311.5 407.5,314.5 408.5,313.5 408.5,310.5 408.5,314.5 409.5,309.5 409.5,311.5 409.5,313.5 410.5,314.5 410.5,309.5 410.5,310.5 411.5,309.5 411.5,314.5 411.5,313.5 412.5,313.5 412.5,314.5 412.5,312.5 413.5,309.5 413.5,314.5 413.5,310.5 414.5,312.5 414.5,314.5 414.5,315.5 414.5,309.5 415.5,311.5 415.5,312.5 415.5,310.5 416.5,314.5 416.5,313.5 417.5,313.5 417.5,314.5 417.5,310.5 418.5,315.5 418.5,310.5 418.5,309.5 419.5,313.5 419.5,315.5 420.5,315.5 420.5,313.5 420.5,311.5 421.5,313.5 421.5,315.5 421.5,314.5 422.5,315.5 422.5,313.5 422.5,310.5 423.5,314.5 423.5,313.5 423.5,310.5 424.5,313.5 424.5,314.5 424.5,311.5 425.5,315.5 425.5,309.5 425.5,314.5 426.5,309.5 426.5,314.5 426.5,313.5 427.5,310.5 427.5,308.5 427.5,311.5 428.5,314.5 428.5,313.5 429.5,313.5 429.5,308.5 429.5,312.5 429.5,309.5 430.5,310.5 430.5,309.5 430.5,308.5 431.5,309.5 432.5,315.5 432.5,314.5 432.5,310.5 432.5,307.5 433.5,313.5 433.5,310.5 433.5,311.5 434.5,316.5 434.5,314.5 434.5,308.5 435.5,309.5 435.5,312.5 435.5,311.5 436.5,317.5 436.5,310.5 437.5,316.5 437.5,314.5 437.5,317.5 438.5,309.5 438.5,312.5 438.5,307.5 439.5,312.5 439.5,320.5 439.5,308.5 440.5,309.5 440.5,303.5 440.5,312.5 441.5,318.5 441.5,312.5 441.5,314.5 441.5,316.5 442.5,316.5 442.5,315.5 442.5,317.5 443.5,309.5 443.5,318.5 443.5,306.5 444.5,316.5 444.5,307.5 444.5,306.5 444.5,304.5 445.5,315.5 445.5,312.5 446.5,308.5 446.5,306.5 446.5,307.5 447.5,318.5 447.5,306.5 447.5,307.5 448.5,304.5 448.5,314.5 448.5,312.5 449.5,320.5 449.5,313.5 450.5,303.5 450.5,308.5 450.5,321.5 450.5,304.5 451.5,317.5 451.5,318.5 451.5,319.5 452.5,308.5 452.5,319.5 452.5,307.5 453.5,312.5 453.5,308.5 453.5,318.5 453.5,305.5 454.5,304.5 454.5,308.5 454.5,305.5 455.5,304.5 455.5,303.5 455.5,311.5 456.5,302.5 456.5,313.5 456.5,311.5 457.5,312.5 441.5,317.5 442.5,319.5 455.5,318.5 435.5,317.5 444.5,321.5 456.5,319.5 447.5,323.5 443.5,319.5 455.5,324.5 454.5,321.5 440.5,324.5 447.5,316.5 445.5,323.5 450.5,316.5 444.5,319.5 433.5,322.5 443.5,317.5 454.5,318.5 439.5,319.5 444.5,318.5 437.5,324.5 449.5,322.5 453.5,323.5 451.5,316.5 431.5,323.5 438.5,324.5 447.5,322.5 432.5,323.5 444.5,320.5 454.5,320.5 455.5,323.5 438.5,322.5 438.5,316.5 443.5,322.5 438.5,298.5 453.5,307.5 457.5,303.5 439.5,305.5 440.5,300.5 441.5,302.5 450.5,300.5 449.5,300.5 441.5,304.5 444.5,298.5 437.5,301.5 455.5,300.5 451.5,306.5 457.5,299.5 442.5,301.5 456.5,303.5 444.5,300.5 442.5,302.5 456.5,305.5 441.5,308.5 437.5,298.5 459.5,279.5 459.5,285.5 460.5,275.5 460.5,286.5 458.5,280.5 460.5,278.5 459.5,273.5 459.5,290.5 458.5,302.5 460.5,299.5 462.5,302.5 461.5,300.5 461.5,301.5 461.5,307.5 457.5,305.5 461.5,302.5 460.5,296.5 461.5,305.5 460.5,305.5 461.5,306.5 456.5,306.5 459.5,292.5 459.5,300.5 462.5,296.5 457.5,296.5 456.5,288.5 459.5,299.5 458.5,304.5 461.5,294.5 456.5,291.5 461.5,310.5 462.5,315.5 461.5,320.5 462.5,325.5 462.5,329.5 462.5,333.5 460.5,312.5 459.5,309.5 458.5,272.5 460.5,271.5 436.5,292.5 446.5,297.5 378.5,294.5 379.5,295.5 378.5,282.5 378.5,289.5 378.5,290.5 378.5,297.5 377.5,295.5 378.5,298.5 378.5,278.5 378.5,277.5 378.5,280.5 377.5,285.5 378.5,292.5 379.5,282.5 377.5,300.5 391.5,277.5 391.5,301.5 389.5,296.5 390.5,288.5 391.5,279.5 389.5,295.5 389.5,291.5 389.5,282.5 390.5,278.5 391.5,283.5 371.5,319.5 382.5,312.5 371.5,293.5 363.5,322.5 368.5,315.5 370.5,290.5 361.5,288.5 363.5,295.5 367.5,299.5 376.5,326.5 365.5,326.5 379.5,324.5 378.5,288.5 385.5,318.5 363.5,308.5 387.5,294.5 367.5,287.5 366.5,314.5 362.5,297.5 375.5,286.5 377.5,324.5 366.5,321.5 382.5,303.5 379.5,303.5 364.5,300.5 374.5,304.5 386.5,321.5 361.5,284.5 366.5,288.5 369.5,286.5 363.5,296.5 369.5,339.5 370.5,351.5 369.5,358.5 376.5,358.5 376.5,367.5 372.5,325.5 378.5,325.5 383.5,327.5 374.5,358.5 291.5,270.5 293.5,285.5 291.5,293.5 292.5,296.5 291.5,300.5 290.5,303.5 291.5,320.5 290.5,326.5 291.5,337.5 291.5,341.5 291.5,350.5 292.5,312.5 290.5,316.5 331.5,294.5 332.5,320.5 289.5,323.5 215.5,299.5 226.5,301.5 216.5,315.5 221.5,320.5 216.5,304.5 220.5,326.5 221.5,332.5 223.5,337.5 221.5,311.5 221.5,316.5 223.5,310.5 215.5,319.5 220.5,298.5 224.5,317.5 221.5,319.5 219.5,298.5 226.5,326.5 217.5,343.5 218.5,299.5 222.5,300.5 235.5,282.5 238.5,310.5 230.5,292.5 235.5,281.5 235.5,284.5 234.5,318.5 236.5,281.5 233.5,327.5 236.5,303.5 236.5,282.5 237.5,281.5 235.5,335.5 237.5,293.5 231.5,283.5 235.5,334.5 235.5,291.5 237.5,294.5 234.5,319.5 236.5,291.5 231.5,292.5 228.5,287.5 236.5,284.5 237.5,300.5 228.5,314.5 229.5,303.5 237.5,328.5 232.5,331.5 229.5,282.5 230.5,331.5 234.5,292.5 218.5,355.5 222.5,353.5 231.5,362.5 231.5,378.5 229.5,385.5 230.5,390.5 242.5,342.5 242.5,350.5 255.5,356.5 135.5,296.5 146.5,302.5 135.5,306.5 144.5,299.5 147.5,324.5 136.5,316.5 148.5,307.5 139.5,311.5 137.5,310.5 142.5,300.5 146.5,323.5 141.5,318.5 141.5,288.5 139.5,296.5 145.5,315.5 140.5,313.5 137.5,315.5 138.5,323.5 142.5,310.5 147.5,302.5 147.5,300.5 137.5,300.5 146.5,312.5 147.5,297.5 146.5,322.5 142.5,303.5 136.5,295.5 143.5,305.5 147.5,295.5 146.5,307.5 147.5,301.5 146.5,297.5 145.5,308.5 138.5,294.5 144.5,289.5 137.5,290.5 140.5,287.5 139.5,290.5 135.5,304.5 145.5,295.5 144.5,293.5 139.5,292.5 142.5,312.5 138.5,302.5 147.5,316.5 144.5,274.5 145.5,279.5 158.5,322.5 159.5,298.5 155.5,325.5 159.5,325.5 157.5,303.5 152.5,325.5 149.5,327.5 156.5,316.5 155.5,317.5 155.5,320.5 149.5,292.5 157.5,299.5 156.5,305.5 157.5,325.5 159.5,300.5 152.5,291.5 156.5,298.5 149.5,306.5 158.5,307.5 153.5,316.5 149.5,300.5 151.5,303.5 152.5,306.5 155.5,322.5 152.5,312.5 149.5,312.5 151.5,331.5 152.5,333.5 168.5,311.5 163.5,302.5 173.5,296.5 175.5,284.5 168.5,308.5 170.5,319.5 172.5,288.5 171.5,307.5 164.5,324.5 170.5,305.5 170.5,324.5 164.5,305.5 173.5,320.5 167.5,312.5 175.5,295.5 170.5,311.5 175.5,288.5 163.5,321.5 164.5,323.5 169.5,289.5 174.5,295.5 163.5,298.5 166.5,293.5 174.5,316.5 173.5,285.5 173.5,321.5 163.5,300.5 176.5,300.5 171.5,316.5 167.5,323.5 173.5,281.5 171.5,309.5 164.5,288.5 165.5,319.5 173.5,324.5 166.5,323.5 167.5,298.5 170.5,309.5 163.5,283.5 169.5,290.5 172.5,318.5 174.5,325.5 164.5,289.5 167.5,289.5 165.5,297.5 169.5,291.5 172.5,293.5 174.5,301.5 171.5,286.5 171.5,311.5 181.5,321.5 185.5,302.5 186.5,303.5 180.5,308.5 178.5,330.5 180.5,314.5 181.5,298.5 179.5,312.5 185.5,306.5 183.5,320.5 179.5,297.5 183.5,295.5 183.5,306.5 187.5,300.5 178.5,305.5 191.5,326.5 185.5,299.5 188.5,327.5 186.5,295.5 182.5,298.5 180.5,294.5 182.5,294.5 177.5,312.5 179.5,322.5 190.5,329.5 186.5,320.5 185.5,320.5 188.5,325.5 188.5,318.5 189.5,318.5 178.5,297.5 180.5,298.5 182.5,325.5 189.5,299.5 185.5,327.5 182.5,295.5 179.5,303.5 177.5,311.5 185.5,297.5 182.5,320.5 181.5,324.5 191.5,318.5 189.5,305.5 181.5,301.5 181.5,327.5 182.5,329.5 185.5,313.5 189.5,337.5 192.5,347.5 193.5,353.5 192.5,352.5 193.5,387.5 186.5,340.5 188.5,344.5 184.5,335.5" fill="none" stroke="none" style="marker:url(#xg)"/>
<polyline points="194.5,274.5 194.5,276.5 195.5,273.5 195.5,274.5 195.5,271.5 196.5,274.5 196.5,272.5 196.5,275.5 197.5,275.5 197.5,271.5 198.5,272.5 199.5,271.5 199.5,273.5 200.5,274.5 200.5,271.5 200.5,276.5 201.5,272.5 201.5,276.5 202.5,277.5 202.5,274.5 203.5,273.5 203.5,271.5 204.5,271.5 204.5,275.5 205.5,271.5 205.5,275.5 205.5,274.5 206.5,273.5 206.5,270.5 207.5,274.5 207.5,273.5 208.5,275.5 208.5,273.5 208.5,274.5 209.5,272.5 209.5,275.5 210.5,274.5 211.5,272.5 211.5,274.5 212.5,274.5 212.5,275.5 213.5,271.5 213.5,275.5 214.5,272.5 214.5,273.5 215.5,270.5 215.5,273.5 216.5,272.5 216.5,274.5 217.5,274.5 217.5,273.5 218.5,273.5 218.5,275.5 218.5,274.5 219.5,271.5 219.5,275.5 219.5,274.5 220.5,271.5 220.5,272.5 221.5,271.5 221.5,274.5 222.5,271.5 222.5,273.5 222.5,275.5 223.5,271.5 223.5,270.5 223.5,272.5 224.5,272.5 224.5,271.5 224.5,274.5 225.5,274.5 225.5,276.5 236.5,273.5 236.5,276.5 237.5,273.5 237.5,274.5 237.5,275.5 238.5,271.5 238.5,272.5 238.5,275.5 239.5,271.5 239.5,272.5 239.5,275.5 240.5,274.5 240.5,271.5 241.5,273.5 241.5,271.5 241.5,270.5 242.5,276.5 242.5,272.5 242.5,273.5 243.5,275.5 243.5,274.5 243.5,272.5 244.5,271.5 244.5,274.5 245.5,272.5 245.5,273.5 246.5,274.5 246.5,271.5 246.5,273.5 247.5,273.5 247.5,272.5 247.5,274.5 248.5,272.5 248.5,274.5 248.5,275.5 249.5,276.5 249.5,272.5 250.5,271.5 250.5,272.5 250.5,276.5 251.5,273.5 251.5,272.5 252.5,274.5 252.5,276.5 253.5,277.5 253.5,278.5 254.5,273.5 254.5,276.5 255.5,275.5 255.5,274.5 255.5,276.5 256.5,276.5 256.5,277.5 256.5,275.5 257.5,276.5 257.5,273.5 257.5,277.5 258.5,274.5 258.5,277.5 259.5,279.5 259.5,275.5 259.5,277.5 260.5,277.5 260.5,274.5 260.5,276.5 261.5,279.5 261.5,278.5 261.5,275.5 262.5,279.5 263.5,275.5 263.5,276.5 263.5,274.5 264.5,277.5 264.5,278.5 265.5,277.5 265.5,278.5 265.5,276.5 266.5,277.5 266.5,275.5 266.5,278.5 267.5,280.5 267.5,278.5 268.5,275.5 269.5,276.5 269.5,277.5 270.5,277.5 270.5,276.5 270.5,278.5 271.5,277.5 271.5,278.5 272.5,278.5 272.5,275.5 273.5,275.5 273.5,274.5 273.5,279.5 274.5,278.5 274.5,279.5 274.5,276.5 275.5,278.5 275.5,276.5 275.5,275.5 276.5,276.5 276.5,274.5 277.5,280.5 277.5,277.5 277.5,275.5 278.5,277.5 278.5,279.5 278.5,276.5 279.5,272.5 279.5,278.5 279.5,275.5 280.5,279.5 280.5,274.5 281.5,278.5 281.5,274.5 281.5,279.5 282.5,276.5 282.5,275.5 282.5,278.5 283.5,275.5 283.5,277.5 283.5,273.5 284.5,278.5 284.5,277.5 284.5,276.5 285.5,278.5 285.5,276.5 286.5,277.5 286.5,278.5 287.5,276.5 287.5,274.5 288.5,274.5 288.5,277.5 288.5,279.5 289.5,276.5 289.5,275.5 290.5,279.5 290.5,273.5 290.5,278.5 291.5,278.5 291.5,274.5 291.5,279.5 292.5,276.5 292.5,278.5 292.5,274.5 293.5,275.5 293.5,278.5 293.5,276.5 294.5,274.5 294.5,277.5 295.5,279.5 295.5,278.5 295.5,274.5 296.5,276.5 296.5,273.5 296.5,277.5 297.5,275.5 297.5,279.5 297.5,274.5 298.5,275.5 298.5,276.5 299.5,275.5 299.5,273.5 300.5,277.5 300.5,275.5 300.5,274.5 301.5,275.5 302.5,276.5 302.5,277.5 302.5,274.5 303.5,273.5 303.5,277.5 304.5,274.5 304.5,277.5 305.5,274.5 305.5,276.5 305.5,277.5 306.5,272.5 306.5,274.5 306.5,276.5 307.5,275.5 307.5,276.5 308.5,277.5 309.5,276.5 309.5,272.5 310.5,272.5 310.5,274.5 310.5,275.5 311.5,278.5 311.5,273.5 311.5,277.5 312.5,273.5 312.5,278.5 313.5,276.5 313.5,275.5 313.5,279.5 314.5,275.5 314.5,277.5 314.5,273.5 315.5,275.5 315.5,274.5 315.5,277.5 316.5,273.5 316.5,275.5 317.5,276.5 317.5,272.5 318.5,276.5 318.5,275.5 319.5,277.5 319.5,275.5 320.5,274.5 320.5,276.5 321.5,274.5 322.5,273.5 322.5,275.5 322.5,272.5 323.5,277.5 323.5,272.5 324.5,274.5 324.5,276.5 324.5,273.5 325.5,275.5 325.5,274.5 326.5,276.5 326.5,274.5 327.5,275.5 327.5,273.5 327.5,274.5 328.5,275.5 328.5,274.5 329.5,271.5 329.5,273.5 330.5,275.5 330.5,271.5 331.5,270.5 331.5,273.5 331.5,275.5 332.5,271.5 332.5,273.5 332.5,275.5 333.5,271.5 333.5,273.5 333.5,274.5 334.5,270.5 334.5,269.5 335.5,268.5 335.5,272.5 336.5,274.5 336.5,273.5 337.5,275.5 337.5,270.5 338.5,274.5 338.5,270.5 339.5,272.5 339.5,273.5 340.5,271.5 340.5,272.5 341.5,271.5 341.5,272.5 342.5,272.5 342.5,271.5 342.5,274.5 343.5,272.5 343.5,269.5 344.5,272.5 344.5,270.5 345.5,272.5 345.5,273.5 346.5,273.5 346.5,271.5 347.5,270.5 347.5,273.5 348.5,270.5 349.5,273.5 349.5,272.5 349.5,270.5 350.5,273.5 350.5,272.5 351.5,273.5 351.5,272.5 352.5,270.5 352.5,272.5 353.5,272.5 353.5,273.5 353.5,271.5 354.5,270.5 354.5,273.5 355.5,272.5 356.5,272.5 356.5,275.5 357.5,274.5 358.5,274.5 358.5,270.5 359.5,270.5 359.5,271.5 360.5,271.5 360.5,275.5 360.5,269.5 361.5,270.5 459.5,278.5 458.5,292.5 460.5,277.5 459.5,296.5 461.5,277.5 459.5,279.5 142.5,309.5 139.5,301.5 141.5,301.5 136.5,320.5 142.5,321.5 144.5,295.5 137.5,307.5 139.5,307.5 139.5,312.5 139.5,306.5 137.5,291.5 164.5,304.5 167.5,314.5 164.5,298.5 170.5,322.5 169.5,309.5 172.5,307.5 164.5,303.5 171.5,303.5 164.5,296.5 166.5,317.5 171.5,292.5 171.5,312.5 165.5,300.5 170.5,297.5" fill="none" stroke="none" style="marker:url(#xg)"/>
<polyline points="193.5,313.5 194.5,313.5 196.5,313.5 198.5,311.5 200.5,315.5 202.5,316.5 203.5,312.5 205.5,311.5 207.5,313.5 209.5,313.5 211.5,311.5 212.5,314.5 214.5,314.5 216.5,311.5 218.5,315.5 220.5,314.5 221.5,311.5 223.5,313.5 225.5,313.5 227.5,316.5 229.5,315.5 230.5,315.5 232.5,315.5 234.5,311.5 236.5,313.5 238.5,312.5 239.5,317.5 241.5,313.5 243.5,314.5 245.5,314.5 247.5,315.5 248.5,311.5 250.5,313.5 252.5,317.5 254.5,314.5 256.5,312.5 257.5,315.5 259.5,314.5 261.5,315.5 263.5,315.5 265.5,313.5 266.5,314.5 268.5,315.5 270.5,316.5 272.5,313.5 274.5,316.5 275.5,315.5 277.5,316.5 279.5,313.5 281.5,313.5 283.5,314.5 284.5,315.5 286.5,316.5 288.5,316.5 290.5,314.5 292.5,315.5 293.5,314.5 295.5,312.5 297.5,314.5 299.5,314.5 301.5,311.5 302.5,313.5 304.5,312.5 306.5,314.5 308.5,315.5 310.5,314.5 311.5,314.5 313.5,314.5 315.5,315.5 317.5,311.5 319.5,311.5 320.5,311.5 322.5,314.5 324.5,310.5 326.5,311.5 328.5,313.5 329.5,313.5 331.5,313.5 333.5,313.5 335.5,311.5 337.5,312.5 338.5,314.5 340.5,313.5 342.5,314.5 344.5,310.5 346.5,311.5 347.5,310.5 349.5,312.5 351.5,310.5 353.5,311.5 355.5,311.5 356.5,311.5 358.5,311.5 360.5,310.5 362.5,312.5 364.5,309.5 365.5,313.5 367.5,313.5 369.5,315.5 371.5,314.5 373.5,316.5 374.5,314.5 376.5,313.5 378.5,317.5 380.5,316.5 382.5,315.5 383.5,315.5 385.5,317.5 387.5,314.5 389.5,316.5 391.5,313.5 392.5,318.5 394.5,315.5 396.5,317.5 398.5,315.5 400.5,316.5 401.5,315.5 403.5,317.5 405.5,316.5 407.5,315.5 409.5,316.5 410.5,313.5 412.5,316.5 414.5,317.5 416.5,316.5 418.5,315.5 419.5,315.5 421.5,314.5 423.5,318.5 425.5,316.5 427.5,316.5 428.5,319.5 430.5,316.5 432.5,316.5 434.5,317.5 436.5,315.5 437.5,318.5 439.5,319.5 441.5,315.5 443.5,317.5 445.5,318.5 446.5,315.5 448.5,316.5 450.5,314.5 452.5,313.5 454.5,313.5 455.5,309.5 457.5,312.5 459.5,309.5 461.5,309.5 143.5,294.5 137.5,323.5 151.5,313.5 153.5,318.5 171.5,295.5 170.5,294.5 172.5,296.5 168.5,315.5 170.5,318.5 173.5,320.5 166.5,333.5 185.5,315.5 182.5,319.5 184.5,322.5" fill="none" stroke="none" style="marker:url(#pr)"/>
<polyline points="194.5,296.5 196.5,295.5 198.5,296.5 200.5,292.5 202.5,292.5 204.5,297.5 206.5,296.5 208.5,296.5 210.5,292.5 212.5,290.5 214.5,292.5 216.5,297.5 218.5,298.5 220.5,303.5 222.5,304.5 224.5,303.5 226.5,303.5 228.5,298.5 230.5,294.5 232.5,291.5 234.5,291.5 236.5,291.5 238.5,293.5 240.5,298.5 242.5,299.5 244.5,300.5 246.5,301.5 248.5,297.5 250.5,299.5 252.5,295.5 254.5,296.5 256.5,299.5 258.5,298.5 260.5,300.5 262.5,297.5 264.5,298.5 266.5,297.5 268.5,298.5 270.5,298.5 272.5,298.5 274.5,296.5 276.5,300.5 278.5,299.5 280.5,297.5 282.5,296.5 284.5,295.5 286.5,297.5 288.5,298.5 290.5,298.5 292.5,298.5 294.5,306.5 296.5,303.5 298.5,307.5 300.5,305.5 302.5,305.5 304.5,306.5 306.5,309.5 308.5,304.5 310.5,301.5 312.5,298.5 314.5,296.5 316.5,298.5 318.5,296.5 320.5,299.5 322.5,298.5 324.5,296.5 326.5,295.5 328.5,296.5 330.5,299.5 332.5,298.5 334.5,293.5 336.5,297.5 338.5,298.5 340.5,296.5 342.5,298.5 344.5,296.5 346.5,293.5 348.5,296.5 350.5,297.5 352.5,294.5 354.5,296.5 356.5,296.5 358.5,295.5 360.5,294.5 362.5,295.5 364.5,297.5 366.5,299.5 368.5,301.5 370.5,301.5 372.5,304.5 374.5,304.5 376.5,306.5 378.5,306.5 380.5,309.5 382.5,311.5 384.5,310.5 386.5,309.5 388.5,308.5 390.5,306.5 392.5,306.5 394.5,306.5 396.5,303.5 398.5,303.5 400.5,307.5 402.5,304.5 404.5,305.5 406.5,303.5 408.5,304.5 410.5,303.5 412.5,303.5 414.5,300.5 416.5,306.5 418.5,302.5 420.5,303.5 422.5,302.5 424.5,304.5 426.5,304.5 428.5,303.5 430.5,304.5 432.5,303.5 434.5,307.5 436.5,304.5 438.5,303.5 440.5,309.5 442.5,304.5 444.5,305.5 446.5,305.5 448.5,306.5 450.5,305.5 452.5,303.5 454.5,302.5 456.5,301.5 152.5,307.5 169.5,300.5 171.5,297.5 187.5,279.5 180.5,337.5 234.5,331.5 331.5,300.5 392.5,276.5" fill="none" stroke="none" style="marker:url(#dr)"/>
<polyline points="194.5,312.5 196.5,311.5 198.5,313.5 200.5,313.5 202.5,314.5 204.5,315.5 206.5,316.5 208.5,313.5 210.5,312.5 212.5,313.5 214.5,312.5 216.5,315.5 218.5,313.5 220.5,313.5 222.5,313.5 224.5,313.5 226.5,314.5 228.5,314.5 230.5,314.5 232.5,315.5 234.5,314.5 236.5,312.5 238.5,315.5 240.5,313.5 242.5,315.5 244.5,314.5 246.5,313.5 248.5,315.5 250.5,315.5 252.5,314.5 254.5,314.5 256.5,313.5 258.5,312.5 260.5,314.5 262.5,313.5 264.5,311.5 266.5,309.5 268.5,309.5 270.5,309.5 272.5,310.5 274.5,309.5 276.5,309.5 278.5,309.5 280.5,311.5 282.5,310.5 284.5,309.5 286.5,308.5 288.5,308.5 290.5,305.5 292.5,307.5 294.5,307.5 296.5,306.5 298.5,307.5 300.5,306.5 302.5,304.5 304.5,306.5 306.5,305.5 308.5,303.5 310.5,306.5 312.5,302.5 314.5,305.5 316.5,304.5 318.5,306.5 320.5,304.5 322.5,304.5 324.5,303.5 326.5,305.5 328.5,304.5 330.5,305.5 332.5,304.5 334.5,306.5 336.5,305.5 338.5,305.5 340.5,306.5 342.5,305.5 344.5,304.5 346.5,307.5 348.5,306.5 350.5,304.5 352.5,305.5 354.5,306.5 356.5,306.5 358.5,305.5 360.5,305.5 362.5,305.5 364.5,304.5 366.5,307.5 368.5,305.5 370.5,308.5 372.5,310.5 374.5,309.5 376.5,310.5 378.5,313.5 380.5,314.5 382.5,310.5 384.5,310.5 386.5,307.5 388.5,306.5 390.5,306.5 392.5,303.5 394.5,306.5 396.5,312.5 398.5,308.5 400.5,309.5 402.5,309.5 404.5,309.5 406.5,309.5 408.5,308.5 410.5,308.5 412.5,309.5 414.5,310.5 416.5,311.5 418.5,311.5 420.5,311.5 422.5,310.5 424.5,309.5 426.5,309.5 428.5,309.5 430.5,308.5 432.5,312.5 434.5,313.5 436.5,311.5 438.5,309.5 440.5,308.5 442.5,308.5 444.5,307.5 446.5,305.5 448.5,308.5 450.5,307.5 452.5,306.5 454.5,303.5 456.5,300.5 458.5,295.5 460.5,298.5 144.5,288.5 141.5,300.5 137.5,312.5 151.5,299.5 153.5,301.5 173.5,279.5 172.5,303.5 170.5,307.5 167.5,311.5 182.5,295.5 180.5,305.5 183.5,308.5 187.5,279.5 234.5,327.5 291.5,276.5 331.5,300.5 379.5,327.5 392.5,271.5" fill="none" stroke="none" style="marker:url(#dk)"/>
<polyline points="194.5,542.5 137.5,538.5 142.5,537.5 153.5,509.5 173.5,500.5 167.5,514.5 187.5,499.5 193.5,543.5 144.5,569.5 198.5,528.5 200.5,526.5 202.5,523.5 204.5,520.5 206.5,520.5 208.5,518.5 210.5,517.5 212.5,513.5 214.5,513.5 216.5,512.5 218.5,511.5 220.5,508.5 222.5,506.5 224.5,505.5 226.5,504.5 228.5,504.5 230.5,502.5 232.5,501.5 234.5,501.5 236.5,500.5 238.5,501.5 240.5,500.5 242.5,499.5 244.5,499.5 246.5,500.5 248.5,499.5 250.5,499.5 252.5,499.5 254.5,500.5 256.5,500.5 258.5,499.5 260.5,499.5 262.5,499.5 264.5,499.5 266.5,499.5 268.5,500.5 270.5,500.5 272.5,500.5 274.5,501.5 276.5,500.5 278.5,500.5 280.5,500.5 282.5,501.5 284.5,501.5 286.5,502.5 288.5,502.5 290.5,503.5 292.5,504.5 294.5,506.5 296.5,506.5 298.5,507.5 300.5,507.5 302.5,508.5 304.5,511.5 306.5,511.5 308.5,513.5 310.5,513.5 312.5,512.5 314.5,513.5 316.5,512.5 318.5,513.5 320.5,513.5 322.5,513.5 324.5,513.5 326.5,513.5 328.5,513.5 330.5,513.5 332.5,513.5 334.5,514.5 336.5,513.5 338.5,513.5 340.5,513.5 342.5,513.5 344.5,513.5 346.5,513.5 348.5,512.5 350.5,511.5 352.5,511.5 354.5,512.5 356.5,512.5 358.5,511.5 360.5,512.5 362.5,512.5 364.5,509.5 366.5,510.5 369.5,495.5 372.5,497.5 225.5,495.5 243.5,495.5 236.5,488.5 399.5,488.5 402.5,489.5 404.5,491.5 406.5,493.5 408.5,494.5 411.5,496.5 413.5,497.5 415.5,499.5 418.5,501.5 420.5,503.5 421.5,500.5 423.5,502.5 425.5,501.5 427.5,501.5 429.5,501.5 431.5,500.5 433.5,500.5 435.5,499.5 437.5,499.5 439.5,498.5 441.5,498.5 443.5,498.5 445.5,497.5 447.5,498.5 449.5,499.5 451.5,498.5 453.5,499.5 455.5,499.5 460.5,515.5" fill="none" stroke="none" style="marker:url(#db)"/>
<polyline points="194.5,499.5 194.5,508.5 152.5,488.5 170.5,490.5 138.5,494.5 145.5,489.5 143.5,496.5 173.5,480.5 166.5,483.5 197.5,494.5 199.5,493.5 201.5,491.5 203.5,491.5 205.5,491.5 207.5,491.5 209.5,489.5 211.5,489.5 213.5,489.5 215.5,488.5 217.5,487.5 219.5,487.5 221.5,487.5 223.5,486.5 235.5,486.5 237.5,486.5 239.5,485.5 241.5,485.5 242.5,484.5 244.5,485.5 246.5,484.5 248.5,485.5 250.5,485.5 251.5,484.5 253.5,485.5 255.5,486.5 257.5,485.5 259.5,484.5 260.5,484.5 262.5,485.5 264.5,485.5 266.5,485.5 268.5,484.5 269.5,486.5 271.5,485.5 273.5,484.5 275.5,486.5 277.5,485.5 278.5,486.5 280.5,485.5 282.5,485.5 284.5,485.5 286.5,484.5 287.5,486.5 289.5,487.5 291.5,487.5 293.5,488.5 295.5,490.5 296.5,490.5 298.5,489.5 300.5,490.5 302.5,489.5 304.5,488.5 305.5,485.5 307.5,484.5 309.5,482.5 311.5,481.5 313.5,480.5 314.5,478.5 316.5,480.5 318.5,483.5 320.5,486.5 322.5,486.5 323.5,486.5 325.5,487.5 327.5,485.5 329.5,484.5 331.5,482.5 332.5,482.5 334.5,482.5 336.5,484.5 338.5,486.5 340.5,488.5 341.5,488.5 343.5,491.5 345.5,491.5 347.5,490.5 349.5,491.5 350.5,492.5 352.5,492.5 354.5,492.5 356.5,492.5 358.5,492.5 359.5,491.5 361.5,491.5 363.5,492.5 365.5,491.5 375.5,490.5 372.5,488.5 383.5,486.5 388.5,487.5 396.5,485.5 398.5,484.5 400.5,486.5 401.5,486.5 403.5,485.5 405.5,487.5 407.5,486.5 409.5,485.5 410.5,486.5 412.5,487.5 414.5,487.5 416.5,487.5 418.5,487.5 419.5,488.5 421.5,488.5 423.5,490.5 425.5,490.5 427.5,491.5 428.5,491.5 430.5,492.5 432.5,492.5 434.5,493.5 436.5,493.5 437.5,493.5 439.5,495.5 441.5,495.5 443.5,496.5 445.5,497.5 446.5,498.5 448.5,496.5 450.5,498.5 452.5,499.5 454.5,498.5 455.5,500.5" fill="none" stroke="none" style="marker:url(#pb)"/>
<polyline points="193.5,473.5 193.5,471.5 198.5,471.5 200.5,472.5 202.5,472.5 203.5,472.5 208.5,472.5 209.5,472.5 215.5,470.5 216.5,471.5 218.5,471.5 218.5,473.5 220.5,474.5 223.5,470.5 225.5,471.5 228.5,472.5 228.5,469.5 230.5,474.5 235.5,472.5 235.5,471.5 239.5,469.5 240.5,470.5 245.5,470.5 246.5,469.5 247.5,469.5 250.5,470.5 251.5,470.5 253.5,472.5 254.5,472.5 255.5,470.5 257.5,473.5 257.5,470.5 259.5,472.5 260.5,470.5 261.5,471.5 263.5,472.5 263.5,470.5 264.5,471.5 265.5,473.5 265.5,472.5 266.5,473.5 269.5,473.5 270.5,473.5 271.5,470.5 272.5,471.5 273.5,471.5 275.5,470.5 276.5,471.5 280.5,471.5 282.5,472.5 283.5,473.5 290.5,473.5 291.5,471.5 292.5,473.5 293.5,472.5 294.5,472.5 295.5,470.5 296.5,474.5 304.5,470.5 305.5,470.5 314.5,474.5 316.5,474.5 318.5,473.5 320.5,475.5 321.5,472.5 324.5,475.5 325.5,475.5 328.5,475.5 329.5,475.5 329.5,473.5 331.5,472.5 331.5,474.5 332.5,473.5 333.5,473.5 334.5,476.5 335.5,477.5 337.5,478.5 339.5,477.5 340.5,476.5 341.5,477.5 342.5,476.5 345.5,474.5 347.5,476.5 348.5,474.5 350.5,475.5 352.5,475.5 353.5,475.5 354.5,473.5 357.5,475.5 359.5,472.5 362.5,474.5 364.5,476.5 365.5,474.5 367.5,471.5 369.5,472.5 370.5,470.5 370.5,473.5 371.5,478.5 373.5,468.5 373.5,469.5 374.5,475.5 375.5,471.5 376.5,473.5 376.5,470.5 376.5,478.5 376.5,476.5 377.5,472.5 378.5,479.5 378.5,482.5 378.5,474.5 379.5,474.5 380.5,477.5 380.5,479.5 380.5,473.5 382.5,477.5 383.5,473.5 384.5,468.5 384.5,477.5 386.5,469.5 387.5,480.5 387.5,482.5 388.5,475.5 389.5,481.5 389.5,477.5 390.5,473.5 390.5,474.5 391.5,475.5 391.5,478.5 392.5,482.5 392.5,480.5 392.5,471.5 393.5,478.5 393.5,474.5 394.5,473.5 395.5,471.5 395.5,477.5 395.5,478.5 396.5,474.5 396.5,469.5 396.5,470.5 397.5,470.5 397.5,474.5 398.5,473.5 399.5,478.5 400.5,470.5 401.5,478.5 402.5,470.5 403.5,478.5 405.5,473.5 406.5,475.5 406.5,479.5 407.5,479.5 407.5,477.5 408.5,479.5 409.5,479.5 410.5,474.5 412.5,477.5 413.5,473.5 414.5,474.5 415.5,481.5 416.5,475.5 418.5,475.5 419.5,480.5 419.5,476.5 420.5,475.5 420.5,481.5 421.5,477.5 421.5,479.5 422.5,476.5 422.5,477.5 423.5,482.5 424.5,474.5 425.5,481.5 426.5,478.5 426.5,482.5 428.5,482.5 428.5,481.5 429.5,480.5 430.5,479.5 431.5,480.5 431.5,476.5 432.5,478.5 432.5,477.5 435.5,482.5 437.5,481.5 438.5,485.5 440.5,483.5 441.5,480.5 442.5,480.5 442.5,484.5 443.5,482.5 443.5,486.5 445.5,478.5 446.5,481.5 446.5,482.5 448.5,480.5 449.5,488.5 450.5,481.5 451.5,481.5 452.5,484.5 452.5,478.5 453.5,485.5 453.5,482.5 453.5,488.5 454.5,485.5 455.5,491.5 456.5,479.5 456.5,485.5 456.5,493.5 457.5,480.5 458.5,483.5 458.5,482.5 230.5,445.5 238.5,479.5 292.5,462.5 290.5,500.5 384.5,480.5 379.5,490.5 384.5,483.5 384.5,496.5 378.5,495.5 384.5,485.5 374.5,496.5 377.5,479.5 380.5,486.5 374.5,480.5 384.5,490.5 374.5,493.5 381.5,489.5 379.5,479.5 460.5,495.5 460.5,505.5 458.5,502.5 458.5,486.5 457.5,497.5 460.5,490.5 458.5,496.5 460.5,489.5 461.5,492.5 137.5,493.5 138.5,495.5 136.5,477.5 138.5,478.5 139.5,499.5 137.5,512.5 138.5,516.5 142.5,447.5 167.5,455.5 172.5,480.5 164.5,463.5 170.5,461.5 169.5,476.5 170.5,474.5 181.5,471.5 182.5,450.5 185.5,469.5 181.5,454.5 185.5,460.5" fill="none" stroke="none" style="marker:url(#pg)"/>
<polyline points="192.5,470.5 192.5,476.5 194.5,475.5 195.5,472.5 196.5,473.5 196.5,474.5 198.5,471.5 199.5,473.5 199.5,474.5 199.5,472.5 199.5,471.5 200.5,473.5 202.5,471.5 203.5,470.5 204.5,470.5 205.5,471.5 206.5,471.5 208.5,472.5 209.5,471.5 211.5,472.5 213.5,470.5 214.5,470.5 216.5,473.5 216.5,471.5 217.5,472.5 218.5,474.5 219.5,472.5 219.5,474.5 220.5,471.5 221.5,474.5 221.5,475.5 222.5,470.5 222.5,472.5 223.5,472.5 223.5,471.5 224.5,474.5 224.5,470.5 224.5,475.5 225.5,472.5 226.5,474.5 226.5,471.5 227.5,471.5 227.5,472.5 228.5,472.5 229.5,472.5 231.5,471.5 232.5,470.5 233.5,473.5 233.5,474.5 234.5,469.5 236.5,469.5 236.5,473.5 237.5,472.5 238.5,470.5 238.5,473.5 239.5,472.5 240.5,472.5 242.5,472.5 242.5,473.5 243.5,472.5 243.5,470.5 244.5,472.5 245.5,470.5 248.5,473.5 249.5,470.5 249.5,471.5 249.5,473.5 250.5,473.5 251.5,471.5 252.5,472.5 253.5,472.5 254.5,471.5 255.5,470.5 255.5,472.5 256.5,472.5 257.5,472.5 258.5,471.5 259.5,473.5 259.5,471.5 260.5,473.5 261.5,472.5 261.5,470.5 262.5,470.5 264.5,472.5 265.5,469.5 266.5,469.5 268.5,469.5 268.5,470.5 269.5,472.5 270.5,470.5 270.5,472.5 271.5,470.5 273.5,470.5 273.5,472.5 274.5,470.5 275.5,470.5 275.5,471.5 277.5,470.5 278.5,473.5 280.5,471.5 280.5,472.5 282.5,472.5 285.5,469.5 285.5,473.5 285.5,470.5 286.5,473.5 288.5,470.5 289.5,471.5 290.5,472.5 292.5,471.5 293.5,471.5 294.5,473.5 295.5,472.5 296.5,471.5 297.5,472.5 297.5,474.5 298.5,474.5 299.5,474.5 300.5,472.5 303.5,473.5 304.5,471.5 306.5,472.5 306.5,470.5 307.5,473.5 307.5,470.5 308.5,472.5 308.5,470.5 310.5,472.5 310.5,471.5 313.5,470.5 314.5,474.5 317.5,472.5 317.5,473.5 318.5,472.5 318.5,475.5 319.5,472.5 319.5,473.5 321.5,474.5 321.5,473.5 322.5,472.5 323.5,471.5 323.5,475.5 324.5,475.5 325.5,474.5 326.5,471.5 326.5,475.5 327.5,475.5 328.5,474.5 330.5,473.5 334.5,477.5 335.5,475.5 335.5,476.5 337.5,475.5 337.5,476.5 338.5,475.5 339.5,474.5 341.5,475.5 342.5,476.5 343.5,475.5 343.5,474.5 344.5,474.5 345.5,476.5 346.5,473.5 346.5,474.5 346.5,476.5 347.5,475.5 348.5,472.5 349.5,473.5 350.5,474.5 351.5,475.5 352.5,474.5 352.5,475.5 354.5,476.5 356.5,473.5 357.5,475.5 358.5,475.5 359.5,475.5 360.5,473.5 360.5,475.5 362.5,473.5 365.5,475.5 366.5,474.5 367.5,474.5 368.5,474.5 368.5,478.5 368.5,473.5 368.5,475.5 368.5,477.5 369.5,468.5 369.5,472.5 369.5,470.5 370.5,470.5 370.5,478.5 370.5,471.5 371.5,479.5 371.5,474.5 372.5,476.5 372.5,479.5 372.5,480.5 373.5,480.5 373.5,475.5 374.5,475.5 375.5,482.5 375.5,476.5 376.5,482.5 376.5,479.5 377.5,471.5 377.5,472.5 378.5,482.5 378.5,480.5 378.5,475.5 379.5,474.5 379.5,477.5 380.5,479.5 381.5,474.5 381.5,478.5 381.5,476.5 382.5,474.5 382.5,469.5 382.5,475.5 383.5,472.5 383.5,473.5 383.5,476.5 383.5,480.5 384.5,474.5 384.5,482.5 384.5,472.5 384.5,476.5 385.5,472.5 386.5,477.5 386.5,475.5 387.5,470.5 387.5,473.5 387.5,469.5 388.5,478.5 389.5,476.5 389.5,478.5 389.5,468.5 390.5,474.5 391.5,474.5 391.5,469.5 392.5,474.5 392.5,481.5 393.5,480.5 394.5,481.5 396.5,473.5 398.5,473.5 398.5,475.5 398.5,472.5 399.5,472.5 399.5,477.5 399.5,478.5 399.5,469.5 400.5,480.5 400.5,469.5 400.5,481.5 401.5,476.5 401.5,481.5 402.5,470.5 402.5,472.5 402.5,482.5 403.5,474.5 403.5,470.5 404.5,477.5 405.5,471.5 405.5,473.5 405.5,479.5 406.5,481.5 406.5,472.5 407.5,475.5 408.5,479.5 409.5,473.5 409.5,474.5 410.5,474.5 410.5,473.5 411.5,480.5 411.5,476.5 412.5,473.5 412.5,480.5 413.5,475.5 414.5,476.5 415.5,478.5 415.5,474.5 415.5,480.5 416.5,480.5 416.5,482.5 417.5,476.5 418.5,480.5 419.5,474.5 420.5,479.5 421.5,474.5 421.5,478.5 421.5,480.5 422.5,477.5 422.5,481.5 423.5,476.5 423.5,477.5 424.5,477.5 425.5,476.5 425.5,479.5 425.5,477.5 426.5,480.5 426.5,476.5 426.5,475.5 427.5,483.5 427.5,482.5 427.5,479.5 428.5,478.5 429.5,476.5 429.5,480.5 430.5,479.5 430.5,480.5 430.5,482.5 431.5,481.5 431.5,478.5 432.5,484.5 433.5,485.5 433.5,477.5 434.5,485.5 434.5,478.5 435.5,481.5 436.5,482.5 436.5,479.5 436.5,485.5 436.5,483.5 436.5,480.5 437.5,480.5 437.5,485.5 438.5,477.5 438.5,481.5 439.5,486.5 440.5,479.5 440.5,482.5 442.5,481.5 443.5,487.5 443.5,484.5 444.5,483.5 444.5,486.5 444.5,485.5 445.5,486.5 445.5,488.5 445.5,478.5 446.5,483.5 447.5,486.5 447.5,488.5 448.5,486.5 448.5,488.5 449.5,480.5 449.5,490.5 450.5,486.5 450.5,487.5 450.5,478.5 450.5,489.5 451.5,488.5 451.5,481.5 452.5,490.5 453.5,488.5 453.5,481.5 454.5,486.5 454.5,482.5 454.5,478.5 455.5,485.5 455.5,491.5 455.5,480.5 455.5,488.5 455.5,483.5 456.5,481.5 457.5,483.5 457.5,489.5 457.5,484.5 457.5,493.5 459.5,486.5 459.5,493.5 459.5,479.5 459.5,495.5 459.5,490.5 219.5,459.5 221.5,461.5 222.5,478.5 228.5,482.5 229.5,462.5 232.5,466.5 241.5,458.5 228.5,480.5 233.5,483.5 240.5,479.5 256.5,466.5 218.5,464.5 224.5,463.5 236.5,464.5 226.5,478.5 229.5,536.5 291.5,480.5 290.5,483.5 290.5,490.5 290.5,515.5 290.5,478.5 377.5,489.5 377.5,494.5 377.5,488.5 377.5,500.5 377.5,497.5 378.5,489.5 378.5,496.5 378.5,498.5 378.5,502.5 378.5,491.5 378.5,492.5 378.5,494.5 378.5,497.5 378.5,485.5 379.5,483.5 379.5,486.5 379.5,497.5 379.5,498.5 379.5,491.5 379.5,494.5 379.5,496.5 380.5,486.5 380.5,491.5 380.5,483.5 380.5,498.5 380.5,499.5 380.5,504.5 380.5,493.5 380.5,503.5 380.5,490.5 380.5,500.5 379.5,480.5 380.5,492.5 383.5,492.5 383.5,491.5 383.5,493.5 378.5,493.5 374.5,488.5 378.5,459.5 378.5,526.5 379.5,512.5 377.5,516.5 380.5,509.5 385.5,498.5 388.5,494.5 459.5,504.5 462.5,502.5 459.5,501.5 462.5,503.5 458.5,484.5 458.5,496.5 460.5,504.5 459.5,497.5 458.5,495.5 460.5,503.5 460.5,502.5 462.5,491.5 461.5,485.5 459.5,503.5 458.5,485.5 458.5,500.5 461.5,505.5 461.5,499.5 458.5,501.5 460.5,489.5 459.5,492.5 462.5,495.5 461.5,504.5 458.5,502.5 460.5,492.5 459.5,502.5 459.5,499.5 461.5,497.5 462.5,493.5 462.5,484.5 461.5,508.5 460.5,518.5 461.5,514.5 461.5,520.5 460.5,516.5 460.5,515.5 461.5,518.5 461.5,524.5 460.5,500.5 459.5,508.5 461.5,513.5 461.5,522.5 460.5,532.5 460.5,533.5 460.5,562.5 461.5,528.5 137.5,473.5 144.5,493.5 138.5,474.5 137.5,483.5 136.5,490.5 137.5,476.5 138.5,481.5 140.5,485.5 137.5,479.5 138.5,486.5 143.5,481.5 135.5,477.5 139.5,483.5 136.5,482.5 139.5,487.5 136.5,491.5 140.5,484.5 138.5,482.5 141.5,493.5 142.5,470.5 139.5,482.5 142.5,497.5 138.5,493.5 148.5,432.5 146.5,445.5 145.5,452.5 146.5,448.5 139.5,466.5 141.5,462.5 152.5,534.5 152.5,514.5 153.5,569.5 140.5,505.5 138.5,509.5 158.5,472.5 159.5,474.5 145.5,471.5 143.5,478.5 147.5,466.5 151.5,471.5 151.5,475.5 155.5,464.5 146.5,467.5 158.5,473.5 158.5,468.5 158.5,457.5 160.5,469.5 148.5,471.5 152.5,470.5 154.5,469.5 155.5,461.5 143.5,468.5 145.5,473.5 148.5,455.5 152.5,519.5 153.5,533.5 157.5,470.5 158.5,462.5 174.5,480.5 168.5,484.5 171.5,484.5 174.5,466.5 163.5,480.5 166.5,479.5 166.5,445.5 165.5,453.5 174.5,447.5 165.5,442.5 176.5,460.5 172.5,459.5 164.5,481.5 170.5,443.5 166.5,450.5 161.5,445.5 166.5,452.5 170.5,469.5 166.5,461.5 166.5,470.5 173.5,442.5 173.5,470.5 167.5,457.5 164.5,478.5 167.5,464.5 163.5,473.5 167.5,481.5 168.5,476.5 175.5,463.5 170.5,464.5 172.5,463.5 166.5,454.5 166.5,455.5 161.5,443.5 173.5,482.5 167.5,462.5 168.5,447.5 172.5,462.5 167.5,463.5 174.5,470.5 163.5,472.5 163.5,451.5 172.5,430.5 172.5,436.5 162.5,516.5 168.5,520.5 165.5,488.5 170.5,486.5 163.5,492.5 181.5,455.5 181.5,443.5 182.5,466.5 178.5,468.5 185.5,442.5 183.5,459.5 190.5,443.5 183.5,446.5 187.5,443.5 186.5,463.5 181.5,437.5 182.5,438.5 184.5,458.5 178.5,440.5 185.5,436.5 187.5,437.5 190.5,456.5 180.5,447.5 181.5,453.5 188.5,461.5 180.5,455.5 189.5,454.5 188.5,462.5 185.5,439.5 185.5,451.5 190.5,464.5 184.5,459.5 190.5,466.5 191.5,456.5 180.5,446.5 191.5,441.5 185.5,462.5 191.5,449.5 191.5,445.5 180.5,444.5 192.5,467.5 181.5,464.5 179.5,464.5 185.5,468.5 192.5,457.5 183.5,437.5 189.5,516.5 189.5,523.5 176.5,530.5 190.5,432.5 188.5,436.5 184.5,436.5 186.5,472.5 186.5,474.5 187.5,473.5 194.5,464.5 184.5,474.5 188.5,465.5 190.5,472.5 183.5,469.5 196.5,476.5 190.5,470.5 186.5,466.5 194.5,471.5 186.5,469.5 184.5,467.5 189.5,466.5 187.5,467.5 186.5,467.5 188.5,468.5 190.5,474.5 190.5,469.5 193.5,471.5 193.5,476.5 185.5,464.5 194.5,468.5 187.5,469.5" fill="none" stroke="none" style="marker:url(#xg)"/>
<polyline points="192.5,476.5 193.5,473.5 194.5,473.5 194.5,470.5 194.5,472.5 195.5,474.5 195.5,472.5 195.5,475.5 196.5,474.5 196.5,472.5 197.5,476.5 197.5,474.5 198.5,472.5 201.5,472.5 201.5,470.5 202.5,472.5 203.5,471.5 204.5,470.5 205.5,472.5 205.5,471.5 206.5,471.5 207.5,471.5 208.5,471.5 210.5,471.5 210.5,472.5 211.5,470.5 212.5,472.5 212.5,471.5 213.5,473.5 213.5,472.5 214.5,472.5 215.5,473.5 215.5,470.5 217.5,472.5 217.5,473.5 218.5,474.5 220.5,472.5 220.5,473.5 221.5,475.5 221.5,472.5 222.5,469.5 223.5,473.5 224.5,471.5 225.5,471.5 225.5,472.5 226.5,472.5 226.5,473.5 227.5,473.5 228.5,474.5 229.5,473.5 229.5,472.5 230.5,470.5 230.5,472.5 230.5,471.5 231.5,473.5 231.5,470.5 232.5,473.5 232.5,471.5 232.5,470.5 233.5,472.5 234.5,472.5 234.5,471.5 234.5,473.5 235.5,469.5 236.5,470.5 237.5,471.5 237.5,472.5 238.5,470.5 239.5,473.5 240.5,470.5 241.5,471.5 241.5,469.5 242.5,470.5 243.5,471.5 244.5,471.5 244.5,470.5 245.5,473.5 246.5,473.5 246.5,470.5 247.5,472.5 248.5,473.5 248.5,471.5 250.5,471.5 251.5,470.5 252.5,470.5 252.5,471.5 253.5,470.5 254.5,471.5 255.5,470.5 256.5,473.5 258.5,471.5 260.5,472.5 262.5,472.5 263.5,472.5 265.5,472.5 266.5,471.5 267.5,471.5 267.5,472.5 268.5,471.5 269.5,473.5 270.5,471.5 271.5,471.5 272.5,472.5 272.5,470.5 274.5,471.5 274.5,470.5 276.5,472.5 276.5,473.5 277.5,471.5 277.5,470.5 278.5,471.5 279.5,470.5 279.5,471.5 281.5,472.5 281.5,473.5 281.5,471.5 283.5,472.5 283.5,471.5 284.5,472.5 284.5,471.5 284.5,473.5 285.5,470.5 286.5,469.5 286.5,470.5 287.5,472.5 287.5,470.5 287.5,473.5 288.5,469.5 288.5,470.5 289.5,472.5 289.5,470.5 290.5,472.5 290.5,470.5 291.5,470.5 292.5,471.5 293.5,473.5 294.5,473.5 295.5,471.5 296.5,473.5 297.5,473.5 298.5,472.5 298.5,473.5 299.5,474.5 300.5,472.5 300.5,471.5 301.5,472.5 301.5,474.5 302.5,472.5 302.5,473.5 302.5,471.5 303.5,472.5 304.5,472.5 305.5,471.5 305.5,470.5 307.5,470.5 308.5,470.5 309.5,472.5 309.5,470.5 310.5,472.5 311.5,473.5 311.5,470.5 311.5,472.5 312.5,470.5 312.5,472.5 313.5,471.5 314.5,472.5 315.5,473.5 315.5,472.5 316.5,473.5 316.5,471.5 317.5,473.5 318.5,474.5 319.5,474.5 320.5,471.5 320.5,473.5 321.5,473.5 322.5,474.5 322.5,473.5 323.5,473.5 325.5,473.5 326.5,473.5 327.5,473.5 327.5,476.5 328.5,475.5 328.5,474.5 329.5,471.5 330.5,471.5 331.5,475.5 331.5,473.5 332.5,473.5 332.5,475.5 333.5,474.5 333.5,475.5 334.5,475.5 336.5,475.5 336.5,477.5 338.5,476.5 339.5,477.5 340.5,476.5 341.5,478.5 342.5,477.5 343.5,478.5 344.5,474.5 345.5,474.5 347.5,473.5 348.5,474.5 349.5,475.5 350.5,476.5 351.5,473.5 353.5,475.5 353.5,472.5 354.5,472.5 354.5,473.5 355.5,472.5 355.5,474.5 356.5,475.5 357.5,475.5 359.5,473.5 360.5,475.5 361.5,474.5 361.5,472.5 362.5,475.5 363.5,475.5 363.5,473.5 364.5,473.5 364.5,474.5 365.5,473.5 366.5,475.5 366.5,472.5 367.5,473.5 369.5,469.5 370.5,478.5 370.5,474.5 371.5,480.5 371.5,479.5 371.5,478.5 372.5,471.5 372.5,468.5 372.5,474.5 373.5,478.5 373.5,475.5 373.5,472.5 374.5,470.5 374.5,479.5 374.5,481.5 374.5,473.5 375.5,479.5 375.5,481.5 375.5,469.5 376.5,468.5 377.5,473.5 377.5,474.5 378.5,472.5 378.5,473.5 379.5,473.5 379.5,472.5 379.5,476.5 380.5,470.5 380.5,477.5 380.5,479.5 381.5,480.5 381.5,482.5 381.5,470.5 382.5,481.5 382.5,471.5 382.5,469.5 383.5,481.5 383.5,473.5 384.5,469.5 385.5,475.5 385.5,479.5 385.5,480.5 385.5,476.5 385.5,472.5 386.5,478.5 386.5,480.5 386.5,468.5 386.5,475.5 387.5,478.5 388.5,480.5 388.5,473.5 388.5,472.5 388.5,475.5 388.5,479.5 389.5,473.5 389.5,472.5 390.5,477.5 390.5,473.5 391.5,478.5 391.5,468.5 391.5,477.5 392.5,470.5 393.5,472.5 393.5,470.5 393.5,468.5 393.5,482.5 393.5,471.5 394.5,471.5 394.5,479.5 394.5,470.5 394.5,468.5 394.5,475.5 395.5,474.5 395.5,478.5 395.5,469.5 396.5,477.5 396.5,470.5 396.5,478.5 397.5,479.5 397.5,469.5 397.5,480.5 397.5,475.5 398.5,472.5 398.5,473.5 399.5,471.5 399.5,472.5 400.5,473.5 401.5,472.5 401.5,479.5 401.5,470.5 402.5,479.5 402.5,474.5 403.5,470.5 403.5,473.5 403.5,480.5 404.5,471.5 404.5,476.5 404.5,478.5 404.5,480.5 404.5,479.5 405.5,474.5 405.5,479.5 406.5,480.5 407.5,477.5 407.5,478.5 407.5,476.5 408.5,478.5 408.5,475.5 408.5,476.5 409.5,476.5 409.5,473.5 410.5,473.5 410.5,481.5 411.5,478.5 411.5,476.5 411.5,477.5 412.5,473.5 412.5,479.5 413.5,474.5 413.5,473.5 413.5,476.5 413.5,477.5 414.5,476.5 414.5,478.5 414.5,474.5 415.5,478.5 416.5,474.5 416.5,479.5 417.5,474.5 417.5,479.5 417.5,477.5 417.5,480.5 418.5,479.5 418.5,478.5 419.5,480.5 419.5,483.5 419.5,479.5 420.5,477.5 420.5,482.5 422.5,483.5 422.5,479.5 423.5,475.5 423.5,477.5 424.5,474.5 424.5,481.5 424.5,478.5 425.5,478.5 427.5,479.5 427.5,476.5 427.5,477.5 428.5,477.5 428.5,481.5 429.5,481.5 429.5,484.5 430.5,480.5 430.5,484.5 431.5,482.5 432.5,478.5 432.5,483.5 433.5,484.5 433.5,479.5 434.5,483.5 434.5,477.5 434.5,480.5 435.5,479.5 435.5,482.5 435.5,476.5 436.5,484.5 437.5,486.5 438.5,480.5 439.5,477.5 439.5,480.5 439.5,486.5 440.5,484.5 440.5,485.5 441.5,486.5 441.5,487.5 441.5,480.5 442.5,478.5 442.5,482.5 442.5,481.5 443.5,486.5 443.5,481.5 444.5,480.5 444.5,482.5 444.5,484.5 445.5,480.5 446.5,488.5 446.5,481.5 446.5,477.5 447.5,482.5 447.5,483.5 447.5,486.5 448.5,478.5 448.5,489.5 448.5,490.5 448.5,487.5 449.5,488.5 449.5,489.5 450.5,486.5 450.5,489.5 451.5,485.5 451.5,482.5 451.5,486.5 452.5,479.5 452.5,485.5 452.5,487.5 452.5,492.5 453.5,483.5 453.5,482.5 454.5,481.5 454.5,490.5 454.5,479.5 455.5,490.5 456.5,481.5 456.5,488.5 457.5,484.5 457.5,482.5 458.5,490.5 458.5,494.5 458.5,491.5 458.5,492.5 458.5,489.5 459.5,486.5 136.5,482.5 138.5,475.5 138.5,487.5 137.5,477.5 143.5,486.5 142.5,490.5 137.5,482.5 136.5,475.5 151.5,463.5 157.5,467.5 155.5,462.5 151.5,464.5 153.5,464.5 151.5,477.5 172.5,472.5 168.5,469.5 166.5,470.5 166.5,451.5 169.5,471.5 168.5,474.5 164.5,447.5 172.5,465.5 170.5,451.5 163.5,464.5 172.5,466.5 170.5,470.5 168.5,453.5 168.5,455.5 165.5,467.5 164.5,457.5 187.5,462.5 192.5,459.5 182.5,458.5 190.5,458.5 190.5,454.5 180.5,446.5 188.5,467.5 186.5,467.5 186.5,462.5 192.5,467.5 185.5,440.5 186.5,444.5 186.5,442.5 182.5,459.5 188.5,449.5" fill="none" stroke="none" style="marker:url(#xg)"/>
<polyline points="195.5,522.5 197.5,521.5 199.5,516.5 201.5,517.5 202.5,517.5 204.5,515.5 206.5,514.5 207.5,513.5 209.5,511.5 211.5,511.5 212.5,513.5 214.5,508.5 216.5,507.5 218.5,509.5 219.5,508.5 221.5,508.5 223.5,510.5 224.5,508.5 226.5,509.5 228.5,507.5 229.5,507.5 231.5,504.5 233.5,507.5 235.5,506.5 236.5,504.5 238.5,505.5 240.5,505.5 241.5,503.5 243.5,504.5 245.5,501.5 246.5,504.5 248.5,501.5 250.5,503.5 252.5,501.5 253.5,499.5 255.5,503.5 257.5,500.5 258.5,499.5 260.5,502.5 262.5,499.5 263.5,503.5 265.5,502.5 267.5,502.5 269.5,503.5 270.5,500.5 272.5,501.5 274.5,499.5 275.5,502.5 277.5,501.5 279.5,499.5 280.5,501.5 282.5,499.5 284.5,500.5 286.5,501.5 287.5,499.5 289.5,500.5 291.5,499.5 292.5,504.5 294.5,503.5 296.5,506.5 297.5,510.5 299.5,507.5 301.5,507.5 303.5,504.5 304.5,507.5 306.5,507.5 308.5,501.5 309.5,503.5 311.5,501.5 313.5,504.5 314.5,505.5 316.5,500.5 318.5,505.5 320.5,501.5 321.5,502.5 323.5,501.5 325.5,503.5 326.5,504.5 328.5,504.5 330.5,505.5 331.5,505.5 333.5,506.5 335.5,504.5 337.5,503.5 338.5,501.5 340.5,499.5 342.5,502.5 343.5,500.5 345.5,503.5 347.5,502.5 348.5,502.5 350.5,503.5 352.5,503.5 354.5,502.5 355.5,500.5 357.5,502.5 359.5,500.5 360.5,504.5 362.5,501.5 364.5,501.5 365.5,502.5 367.5,501.5 369.5,504.5 371.5,504.5 372.5,504.5 374.5,503.5 376.5,506.5 377.5,505.5 379.5,504.5 381.5,503.5 382.5,505.5 384.5,503.5 386.5,505.5 388.5,503.5 389.5,507.5 391.5,505.5 393.5,504.5 394.5,502.5 396.5,503.5 398.5,505.5 399.5,505.5 401.5,504.5 403.5,506.5 405.5,505.5 406.5,506.5 408.5,504.5 410.5,504.5 411.5,502.5 413.5,504.5 415.5,503.5 416.5,505.5 418.5,504.5 420.5,504.5 422.5,506.5 423.5,504.5 425.5,507.5 427.5,506.5 428.5,504.5 430.5,503.5 432.5,502.5 433.5,503.5 435.5,505.5 437.5,501.5 439.5,501.5 440.5,502.5 442.5,501.5 444.5,499.5 445.5,501.5 447.5,501.5 449.5,502.5 450.5,500.5 452.5,499.5 454.5,499.5 456.5,500.5 137.5,523.5 144.5,530.5 153.5,502.5 166.5,491.5 173.5,507.5 186.5,495.5 331.5,517.5 462.5,507.5 459.5,518.5 460.5,520.5 196.5,540.5 234.5,532.5 290.5,500.5" fill="none" stroke="none" style="marker:url(#pr)"/>
<polyline points="194.5,558.5 194.5,552.5 187.5,532.5 193.5,549.5 193.5,559.5 197.5,538.5 199.5,534.5 201.5,533.5 203.5,530.5 205.5,527.5 207.5,529.5 209.5,523.5 211.5,524.5 213.5,520.5 215.5,519.5 217.5,517.5 219.5,516.5 221.5,513.5 223.5,512.5 225.5,512.5 227.5,511.5 229.5,510.5 231.5,507.5 233.5,508.5 235.5,508.5 237.5,505.5 239.5,506.5 241.5,505.5 243.5,503.5 245.5,502.5 247.5,502.5 249.5,504.5 251.5,501.5 253.5,504.5 255.5,504.5 257.5,504.5 259.5,505.5 261.5,502.5 263.5,505.5 265.5,507.5 267.5,503.5 269.5,506.5 271.5,505.5 273.5,505.5 275.5,505.5 277.5,504.5 279.5,503.5 281.5,505.5 283.5,504.5 285.5,504.5 287.5,504.5 289.5,503.5 291.5,504.5 293.5,505.5 295.5,507.5 297.5,506.5 299.5,508.5 301.5,509.5 303.5,506.5 305.5,510.5 307.5,507.5 309.5,508.5 311.5,507.5 313.5,509.5 315.5,508.5 317.5,508.5 319.5,507.5 321.5,509.5 323.5,508.5 325.5,507.5 327.5,509.5 329.5,508.5 331.5,507.5 333.5,505.5 335.5,507.5 337.5,507.5 339.5,505.5 341.5,506.5 343.5,505.5 345.5,507.5 347.5,504.5 349.5,504.5 351.5,503.5 353.5,505.5 355.5,506.5 357.5,508.5 359.5,506.5 361.5,505.5 363.5,505.5 336.5,500.5 337.5,501.5 339.5,503.5 340.5,503.5 343.5,506.5 344.5,504.5 345.5,502.5 347.5,500.5 348.5,499.5 349.5,501.5 350.5,503.5 352.5,504.5 353.5,506.5 354.5,506.5 356.5,506.5 357.5,503.5 358.5,502.5 360.5,501.5 361.5,501.5 362.5,503.5 365.5,507.5 383.5,502.5 386.5,499.5 388.5,496.5 391.5,494.5 393.5,494.5 395.5,495.5 398.5,497.5 400.5,498.5 403.5,500.5 405.5,502.5 407.5,504.5 391.5,490.5 394.5,492.5 396.5,494.5 398.5,496.5 401.5,498.5 406.5,501.5 410.5,503.5 412.5,503.5 414.5,502.5 416.5,503.5 417.5,504.5 419.5,504.5 421.5,503.5 423.5,503.5 425.5,502.5 427.5,503.5 429.5,502.5 431.5,502.5 433.5,503.5 435.5,502.5 436.5,501.5 438.5,501.5 440.5,501.5 442.5,501.5 444.5,500.5 446.5,499.5 448.5,499.5 450.5,499.5 452.5,500.5 454.5,498.5 455.5,499.5 378.5,540.5 331.5,494.5 290.5,521.5 142.5,521.5 137.5,541.5 151.5,480.5 171.5,474.5 167.5,493.5 169.5,519.5 170.5,519.5 182.5,468.5 183.5,481.5 185.5,493.5" fill="none" stroke="none" style="marker:url(#dr)"/>
<polyline points="194.5,568.5 196.5,565.5 198.5,564.5 200.5,561.5 202.5,557.5 204.5,550.5 206.5,548.5 208.5,545.5 210.5,545.5 212.5,543.5 214.5,541.5 216.5,540.5 218.5,537.5 220.5,534.5 222.5,532.5 224.5,530.5 226.5,527.5 228.5,526.5 230.5,524.5 232.5,521.5 234.5,519.5 236.5,517.5 238.5,517.5 240.5,516.5 242.5,517.5 244.5,517.5 246.5,515.5 248.5,517.5 250.5,517.5 252.5,517.5 254.5,516.5 256.5,516.5 258.5,517.5 260.5,516.5 262.5,517.5 264.5,518.5 266.5,517.5 268.5,516.5 270.5,517.5 272.5,517.5 274.5,518.5 276.5,517.5 278.5,516.5 280.5,518.5 282.5,517.5 284.5,517.5 286.5,517.5 288.5,517.5 290.5,517.5 292.5,517.5 294.5,521.5 296.5,522.5 298.5,522.5 300.5,522.5 302.5,521.5 304.5,521.5 306.5,520.5 308.5,519.5 310.5,519.5 312.5,520.5 314.5,520.5 316.5,519.5 318.5,521.5 320.5,521.5 322.5,522.5 324.5,522.5 326.5,523.5 328.5,521.5 330.5,522.5 332.5,521.5 334.5,520.5 336.5,520.5 338.5,519.5 340.5,519.5 342.5,519.5 344.5,519.5 346.5,518.5 348.5,520.5 350.5,518.5 352.5,519.5 354.5,519.5 356.5,516.5 358.5,517.5 360.5,517.5 362.5,516.5 364.5,516.5 368.5,521.5 370.5,526.5 373.5,518.5 376.5,522.5 379.5,519.5 383.5,519.5 378.5,533.5 371.5,523.5 381.5,521.5 375.5,525.5 386.5,516.5 387.5,515.5 389.5,513.5 391.5,513.5 393.5,513.5 395.5,512.5 397.5,512.5 399.5,511.5 401.5,511.5 403.5,511.5 405.5,511.5 406.5,510.5 408.5,510.5 410.5,509.5 412.5,510.5 414.5,509.5 416.5,508.5 418.5,509.5 420.5,508.5 422.5,508.5 424.5,507.5 425.5,507.5 427.5,508.5 429.5,506.5 431.5,506.5 433.5,507.5 435.5,506.5 437.5,505.5 439.5,505.5 441.5,506.5 443.5,505.5 444.5,505.5 446.5,504.5 448.5,504.5 450.5,503.5 452.5,503.5 454.5,504.5 456.5,502.5 458.5,503.5 290.5,528.5 331.5,499.5 460.5,515.5 461.5,513.5 137.5,473.5 151.5,486.5 153.5,497.5 171.5,478.5 168.5,498.5 166.5,505.5 166.5,510.5 180.5,470.5 182.5,480.5 184.5,486.5 173.5,532.5 187.5,545.5 137.5,532.5 144.5,572.5" fill="none" stroke="none" style="marker:url(#dk)"/>
</svg>
</body></html>
